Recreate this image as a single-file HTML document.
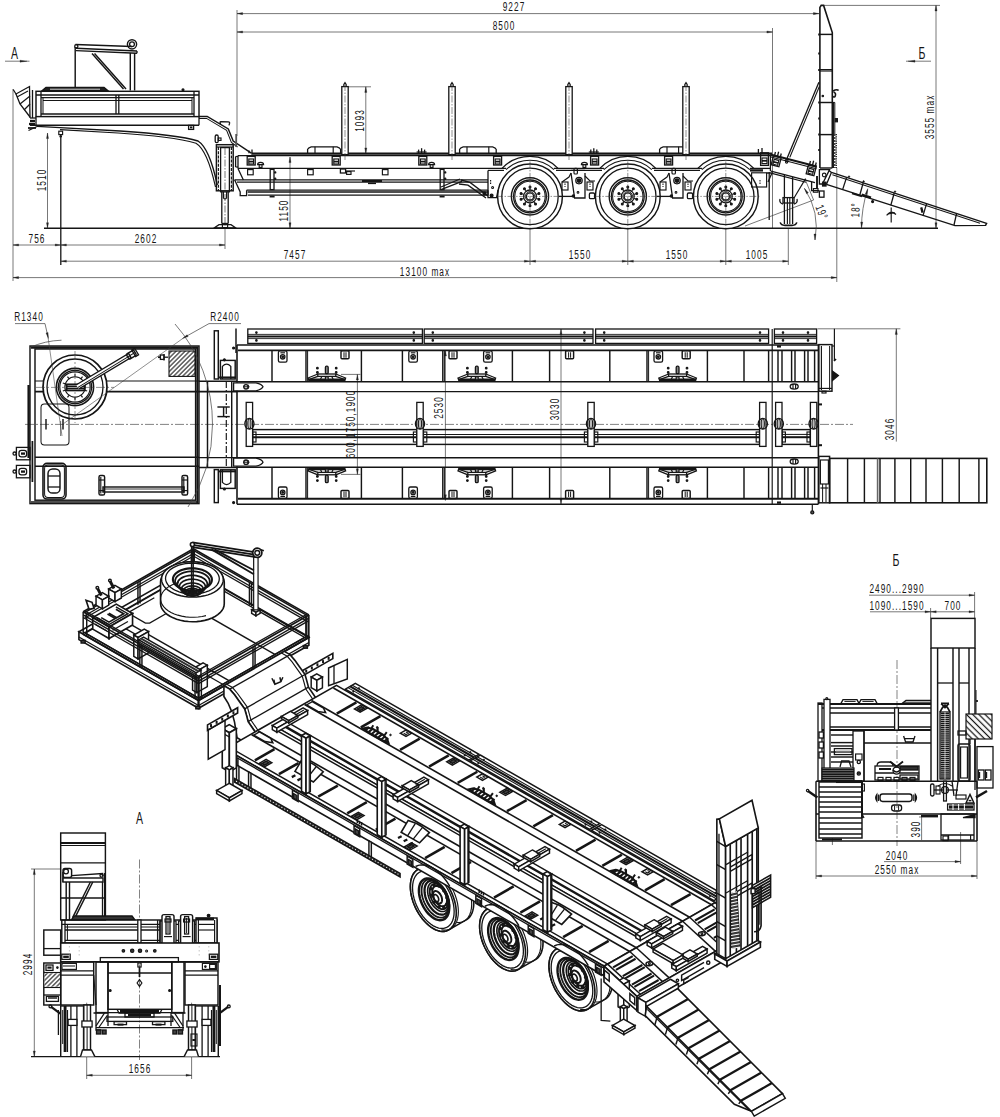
<!DOCTYPE html>
<html><head><meta charset="utf-8"><title>Trailer drawing</title>
<style>html,body{margin:0;padding:0;background:#fff}svg{display:block}text{font-family:"Liberation Sans",sans-serif}</style>
</head><body>
<svg width="1000" height="1117" viewBox="0 0 1000 1117" fill="none" stroke-linecap="butt" stroke-linejoin="miter">
<rect x="0" y="0" width="1000" height="1117" fill="#ffffff" stroke="none"/>
<line x1="13.00" y1="89.00" x2="13.00" y2="281.00" stroke="#3a3a3a" stroke-width="0.69"/>
<line x1="60.80" y1="134.00" x2="60.80" y2="265.00" stroke="#151515" stroke-width="1.3"/>
<line x1="237.00" y1="10.00" x2="237.00" y2="136.00" stroke="#3a3a3a" stroke-width="0.69"/>
<line x1="772.50" y1="28.00" x2="772.50" y2="228.30" stroke="#3a3a3a" stroke-width="0.69"/>
<line x1="836.80" y1="168.00" x2="836.80" y2="282.00" stroke="#3a3a3a" stroke-width="0.69"/>
<line x1="530.00" y1="228.30" x2="530.00" y2="265.00" stroke="#3a3a3a" stroke-width="0.69"/>
<line x1="627.80" y1="228.30" x2="627.80" y2="265.00" stroke="#3a3a3a" stroke-width="0.69"/>
<line x1="725.80" y1="228.30" x2="725.80" y2="265.00" stroke="#3a3a3a" stroke-width="0.69"/>
<line x1="788.30" y1="228.30" x2="788.30" y2="265.00" stroke="#3a3a3a" stroke-width="0.69"/>
<line x1="225.00" y1="228.30" x2="225.00" y2="249.00" stroke="#3a3a3a" stroke-width="0.69"/>
<line x1="44.00" y1="228.30" x2="938.00" y2="228.30" stroke="#151515" stroke-width="1.45"/>
<line x1="237.00" y1="13.60" x2="819.00" y2="13.60" stroke="#3a3a3a" stroke-width="0.69"/>
<polygon points="237.00,13.60 242.60,12.55 242.60,14.65" fill="#222" stroke="#222" stroke-width="0.3"/>
<polygon points="819.00,13.60 813.40,14.65 813.40,12.55" fill="#222" stroke="#222" stroke-width="0.3"/>
<text transform="translate(514.00 11.00) rotate(0) scale(0.66 1)" font-size="12.5" text-anchor="middle" letter-spacing="1.6" fill="#151515" font-weight="normal">9227</text>
<line x1="237.00" y1="32.00" x2="772.50" y2="32.00" stroke="#3a3a3a" stroke-width="0.69"/>
<polygon points="237.00,32.00 242.60,30.95 242.60,33.05" fill="#222" stroke="#222" stroke-width="0.3"/>
<polygon points="772.50,32.00 766.90,33.05 766.90,30.95" fill="#222" stroke="#222" stroke-width="0.3"/>
<text transform="translate(504.00 30.00) rotate(0) scale(0.66 1)" font-size="12.5" text-anchor="middle" letter-spacing="1.6" fill="#151515" font-weight="normal">8500</text>
<line x1="13.00" y1="277.60" x2="836.80" y2="277.60" stroke="#3a3a3a" stroke-width="0.69"/>
<polygon points="13.00,277.60 18.60,276.55 18.60,278.65" fill="#222" stroke="#222" stroke-width="0.3"/>
<polygon points="836.80,277.60 831.20,278.65 831.20,276.55" fill="#222" stroke="#222" stroke-width="0.3"/>
<text transform="translate(425.00 275.50) rotate(0) scale(0.66 1)" font-size="12.5" text-anchor="middle" letter-spacing="1.6" fill="#151515" font-weight="normal">13100 max</text>
<line x1="60.80" y1="261.20" x2="530.00" y2="261.20" stroke="#3a3a3a" stroke-width="0.69"/>
<polygon points="60.80,261.20 66.40,260.15 66.40,262.25" fill="#222" stroke="#222" stroke-width="0.3"/>
<polygon points="530.00,261.20 524.40,262.25 524.40,260.15" fill="#222" stroke="#222" stroke-width="0.3"/>
<text transform="translate(295.00 259.00) rotate(0) scale(0.66 1)" font-size="12.5" text-anchor="middle" letter-spacing="1.6" fill="#151515" font-weight="normal">7457</text>
<line x1="13.00" y1="245.00" x2="60.80" y2="245.00" stroke="#3a3a3a" stroke-width="0.69"/>
<polygon points="13.00,245.00 18.60,243.95 18.60,246.05" fill="#222" stroke="#222" stroke-width="0.3"/>
<polygon points="60.80,245.00 55.20,246.05 55.20,243.95" fill="#222" stroke="#222" stroke-width="0.3"/>
<text transform="translate(37.00 243.00) rotate(0) scale(0.66 1)" font-size="12.5" text-anchor="middle" letter-spacing="1.6" fill="#151515" font-weight="normal">756</text>
<line x1="60.80" y1="245.00" x2="225.00" y2="245.00" stroke="#3a3a3a" stroke-width="0.69"/>
<polygon points="60.80,245.00 66.40,243.95 66.40,246.05" fill="#222" stroke="#222" stroke-width="0.3"/>
<polygon points="225.00,245.00 219.40,246.05 219.40,243.95" fill="#222" stroke="#222" stroke-width="0.3"/>
<text transform="translate(146.00 243.00) rotate(0) scale(0.66 1)" font-size="12.5" text-anchor="middle" letter-spacing="1.6" fill="#151515" font-weight="normal">2602</text>
<line x1="530.00" y1="261.20" x2="627.80" y2="261.20" stroke="#3a3a3a" stroke-width="0.69"/>
<polygon points="530.00,261.20 535.60,260.15 535.60,262.25" fill="#222" stroke="#222" stroke-width="0.3"/>
<polygon points="627.80,261.20 622.20,262.25 622.20,260.15" fill="#222" stroke="#222" stroke-width="0.3"/>
<text transform="translate(580.00 259.00) rotate(0) scale(0.66 1)" font-size="12.5" text-anchor="middle" letter-spacing="1.6" fill="#151515" font-weight="normal">1550</text>
<line x1="627.80" y1="261.20" x2="725.80" y2="261.20" stroke="#3a3a3a" stroke-width="0.69"/>
<polygon points="627.80,261.20 633.40,260.15 633.40,262.25" fill="#222" stroke="#222" stroke-width="0.3"/>
<polygon points="725.80,261.20 720.20,262.25 720.20,260.15" fill="#222" stroke="#222" stroke-width="0.3"/>
<text transform="translate(677.00 259.00) rotate(0) scale(0.66 1)" font-size="12.5" text-anchor="middle" letter-spacing="1.6" fill="#151515" font-weight="normal">1550</text>
<line x1="725.80" y1="261.20" x2="788.30" y2="261.20" stroke="#3a3a3a" stroke-width="0.69"/>
<polygon points="725.80,261.20 731.40,260.15 731.40,262.25" fill="#222" stroke="#222" stroke-width="0.3"/>
<polygon points="788.30,261.20 782.70,262.25 782.70,260.15" fill="#222" stroke="#222" stroke-width="0.3"/>
<text transform="translate(757.00 259.00) rotate(0) scale(0.66 1)" font-size="12.5" text-anchor="middle" letter-spacing="1.6" fill="#151515" font-weight="normal">1005</text>
<line x1="47.50" y1="133.00" x2="47.50" y2="228.30" stroke="#3a3a3a" stroke-width="0.69"/>
<polygon points="47.50,133.00 48.55,138.60 46.45,138.60" fill="#222" stroke="#222" stroke-width="0.3"/>
<polygon points="47.50,228.30 46.45,222.70 48.55,222.70" fill="#222" stroke="#222" stroke-width="0.3"/>
<text transform="translate(45.50 180.00) rotate(-90) scale(0.66 1)" font-size="12.5" text-anchor="middle" letter-spacing="1.6" fill="#151515" font-weight="normal">1510</text>
<line x1="290.00" y1="157.00" x2="290.00" y2="228.30" stroke="#3a3a3a" stroke-width="0.69"/>
<polygon points="290.00,157.00 291.05,162.60 288.95,162.60" fill="#222" stroke="#222" stroke-width="0.3"/>
<polygon points="290.00,228.30 288.95,222.70 291.05,222.70" fill="#222" stroke="#222" stroke-width="0.3"/>
<text transform="translate(288.00 210.50) rotate(-90) scale(0.66 1)" font-size="12.5" text-anchor="middle" letter-spacing="1.6" fill="#151515" font-weight="normal">1150</text>
<line x1="346.00" y1="86.80" x2="371.00" y2="86.80" stroke="#3a3a3a" stroke-width="0.69"/>
<line x1="365.80" y1="86.80" x2="365.80" y2="153.50" stroke="#3a3a3a" stroke-width="0.69"/>
<polygon points="365.80,86.80 366.85,92.40 364.75,92.40" fill="#222" stroke="#222" stroke-width="0.3"/>
<polygon points="365.80,153.50 364.75,147.90 366.85,147.90" fill="#222" stroke="#222" stroke-width="0.3"/>
<text transform="translate(364.00 120.50) rotate(-90) scale(0.66 1)" font-size="12.5" text-anchor="middle" letter-spacing="1.6" fill="#151515" font-weight="normal">1093</text>
<line x1="824.00" y1="5.40" x2="940.00" y2="5.40" stroke="#3a3a3a" stroke-width="0.69"/>
<line x1="936.00" y1="5.40" x2="936.00" y2="228.30" stroke="#3a3a3a" stroke-width="0.69"/>
<polygon points="936.00,5.40 937.05,11.00 934.95,11.00" fill="#222" stroke="#222" stroke-width="0.3"/>
<polygon points="936.00,228.30 934.95,222.70 937.05,222.70" fill="#222" stroke="#222" stroke-width="0.3"/>
<text transform="translate(934.00 117.00) rotate(-90) scale(0.66 1)" font-size="12.5" text-anchor="middle" letter-spacing="1.6" fill="#151515" font-weight="normal">3555 max</text>
<text transform="translate(14.50 58.50) rotate(0) scale(0.62 1)" font-size="17" text-anchor="middle" letter-spacing="0" fill="#151515" font-weight="normal">A</text>
<line x1="5.00" y1="61.20" x2="29.50" y2="61.20" stroke="#3a3a3a" stroke-width="0.69"/>
<polygon points="27.00,61.20 20.00,62.20 20.00,60.20" fill="#222" stroke="#222" stroke-width="0.3"/>
<text transform="translate(922.00 58.50) rotate(0) scale(0.62 1)" font-size="17" text-anchor="middle" letter-spacing="0" fill="#151515" font-weight="normal">Б</text>
<line x1="906.00" y1="61.20" x2="931.00" y2="61.20" stroke="#3a3a3a" stroke-width="0.69"/>
<polygon points="908.00,61.20 915.00,60.20 915.00,62.20" fill="#222" stroke="#222" stroke-width="0.3"/>
<path d="M804.5,188.5 A70,70 0 0 1 815,240" fill="none" stroke="#3a3a3a" stroke-width="0.69" />
<polygon points="804.30,188.20 808.37,192.73 806.59,193.84" fill="#222" stroke="#222" stroke-width="0.3"/>
<polygon points="815.00,240.00 813.95,234.00 816.05,234.00" fill="#222" stroke="#222" stroke-width="0.3"/>
<line x1="745.00" y1="226.00" x2="813.60" y2="200.00" stroke="#3a3a3a" stroke-width="0.69"/>
<line x1="813.60" y1="200.00" x2="805.00" y2="179.00" stroke="#3a3a3a" stroke-width="0.69"/>
<text transform="translate(818.00 214.00) rotate(68) scale(0.66 1)" font-size="12" text-anchor="middle" letter-spacing="1.6" fill="#151515" font-weight="normal">19°</text>
<path d="M867.6,189.4 A125,125 0 0 0 861.5,228" fill="none" stroke="#3a3a3a" stroke-width="0.69" />
<polygon points="867.80,188.60 867.26,194.67 865.23,194.12" fill="#222" stroke="#222" stroke-width="0.3"/>
<polygon points="861.50,228.00 860.66,221.97 862.76,222.04" fill="#222" stroke="#222" stroke-width="0.3"/>
<text transform="translate(859.50 210.00) rotate(-88) scale(0.66 1)" font-size="12" text-anchor="middle" letter-spacing="1.6" fill="#151515" font-weight="normal">18°</text>
<polyline points="13.20,89.50 16.00,94.00 29.50,86.50 30.00,118.00" fill="none" stroke="#151515" stroke-width="1.3"/>
<polyline points="16.00,94.00 20.00,104.00 30.00,117.00" fill="none" stroke="#151515" stroke-width="1.3"/>
<polyline points="17.00,97.00 28.00,91.00" fill="none" stroke="#151515" stroke-width="1.16"/>
<polyline points="20.00,104.00 30.00,96.00" fill="none" stroke="#151515" stroke-width="1.16"/>
<polyline points="24.00,110.00 30.00,104.00" fill="none" stroke="#151515" stroke-width="1.16"/>
<line x1="32.50" y1="90.00" x2="32.50" y2="118.00" stroke="#151515" stroke-width="1.3"/>
<rect x="36.00" y="91.30" width="163.00" height="25.30" fill="none" stroke="#151515" stroke-width="1.45"/>
<line x1="36.00" y1="95.00" x2="199.00" y2="95.00" stroke="#151515" stroke-width="1.3"/>
<line x1="41.00" y1="97.60" x2="194.00" y2="97.60" stroke="#151515" stroke-width="1.16"/>
<line x1="43.00" y1="100.50" x2="192.00" y2="100.50" stroke="#151515" stroke-width="1.01"/>
<line x1="41.00" y1="114.00" x2="194.00" y2="114.00" stroke="#151515" stroke-width="1.3"/>
<line x1="41.00" y1="91.30" x2="41.00" y2="116.60" stroke="#151515" stroke-width="1.3"/>
<line x1="43.00" y1="97.60" x2="43.00" y2="114.00" stroke="#151515" stroke-width="1.01"/>
<line x1="194.00" y1="91.30" x2="194.00" y2="116.60" stroke="#151515" stroke-width="1.3"/>
<line x1="192.00" y1="97.60" x2="192.00" y2="114.00" stroke="#151515" stroke-width="1.01"/>
<line x1="116.00" y1="95.00" x2="116.00" y2="114.00" stroke="#151515" stroke-width="1.3"/>
<line x1="118.80" y1="95.00" x2="118.80" y2="114.00" stroke="#151515" stroke-width="1.3"/>
<circle cx="183.00" cy="89.80" r="1.00" fill="#151515" stroke="#151515" stroke-width="1.16"/>
<line x1="36.00" y1="116.60" x2="36.00" y2="125.20" stroke="#151515" stroke-width="1.3"/>
<line x1="199.00" y1="116.60" x2="199.00" y2="125.20" stroke="#151515" stroke-width="1.3"/>
<line x1="30.00" y1="125.20" x2="199.00" y2="125.20" stroke="#151515" stroke-width="1.45"/>
<line x1="30.00" y1="118.00" x2="36.00" y2="118.00" stroke="#151515" stroke-width="1.3"/>
<polyline points="30.00,121.00 35.00,121.00" fill="none" stroke="#151515" stroke-width="2.32"/>
<polyline points="29.00,124.00 35.00,124.00" fill="none" stroke="#151515" stroke-width="2.32"/>
<polyline points="28.00,128.00 36.00,128.00" fill="none" stroke="#151515" stroke-width="1.74"/>
<polyline points="28.50,130.50 37.00,126.50" fill="none" stroke="#151515" stroke-width="1.3"/>
<path d="M42,90.8 L46,87.4 L104,87.4 L108,90.8 Z" fill="#222" stroke="#151515" stroke-width="1.45" />
<line x1="50.00" y1="89.20" x2="100.00" y2="89.20" stroke="#fff" stroke-width="0.8"/>
<line x1="75.20" y1="47.00" x2="75.20" y2="87.20" stroke="#151515" stroke-width="1.45"/>
<polyline points="75.50,44.50 132.00,46.50" fill="none" stroke="#151515" stroke-width="1.45"/>
<polyline points="76.00,48.20 137.00,51.00" fill="none" stroke="#151515" stroke-width="1.45"/>
<polyline points="76.00,50.60 137.00,53.20" fill="none" stroke="#151515" stroke-width="1.45"/>
<line x1="137.00" y1="51.00" x2="137.00" y2="53.20" stroke="#151515" stroke-width="1.3"/>
<circle cx="76.30" cy="46.30" r="1.60" fill="none" stroke="#151515" stroke-width="1.3"/>
<line x1="130.30" y1="53.00" x2="130.30" y2="90.50" stroke="#151515" stroke-width="1.45"/>
<line x1="134.60" y1="53.00" x2="134.60" y2="90.50" stroke="#151515" stroke-width="1.45"/>
<line x1="92.00" y1="53.60" x2="123.50" y2="89.00" stroke="#151515" stroke-width="1.45"/>
<line x1="94.50" y1="53.60" x2="126.00" y2="89.00" stroke="#151515" stroke-width="1.45"/>
<circle cx="132.00" cy="44.30" r="4.60" fill="none" stroke="#151515" stroke-width="1.45"/>
<circle cx="132.00" cy="44.30" r="2.40" fill="none" stroke="#151515" stroke-width="1.3"/>
<path d="M37,126.4 L60,127.6 L120,131 C150,133 185,137 198,141 C206,146 212,160 217.3,185" fill="none" stroke="#151515" stroke-width="1.45" />
<path d="M60,129.6 L118,133 C150,135 182,139.2 196,143.2 C204,148 210,162 215.5,187" fill="none" stroke="#151515" stroke-width="1.16" />
<rect x="58.80" y="131.20" width="3.80" height="3.40" fill="none" stroke="#151515" stroke-width="1.16"/>
<line x1="59.40" y1="136.40" x2="62.00" y2="136.40" stroke="#151515" stroke-width="1.74"/>
<rect x="188.60" y="125.40" width="5.00" height="4.00" fill="none" stroke="#151515" stroke-width="1.3"/>
<line x1="190.00" y1="127.40" x2="192.40" y2="127.40" stroke="#151515" stroke-width="1.89"/>
<polyline points="199.00,116.40 207.20,116.40 228.30,129.00 233.20,141.00 251.30,153.20" fill="none" stroke="#151515" stroke-width="1.45"/>
<polyline points="199.00,118.40 206.60,118.40 226.60,130.40 231.40,142.40 237.50,147.00" fill="none" stroke="#151515" stroke-width="1.01"/>
<path d="M220.5,124.2 L220,122.4 Q220,121.6 221,121.6 L228.4,121.8 Q229.8,122 229.6,123.2 L229,125.4" fill="none" stroke="#151515" stroke-width="1.3" />
<rect x="215.20" y="135.00" width="3.00" height="7.60" fill="none" stroke="#151515" stroke-width="1.3" rx="1.4"/>
<rect x="218.20" y="138.00" width="2.80" height="2.40" fill="none" stroke="#151515" stroke-width="1.16"/>
<line x1="236.20" y1="134.00" x2="236.20" y2="147.00" stroke="#555" stroke-width="1.84"/>
<rect x="216.40" y="144.70" width="16.80" height="46.10" fill="none" stroke="#151515" stroke-width="1.45"/>
<rect x="220.60" y="147.60" width="8.80" height="44.20" fill="none" stroke="#151515" stroke-width="1.3"/>
<line x1="216.40" y1="147.00" x2="233.20" y2="147.00" stroke="#151515" stroke-width="1.16"/>
<line x1="218.40" y1="147.00" x2="218.40" y2="190.80" stroke="#151515" stroke-width="1.16" stroke-dasharray="3 1.2"/>
<line x1="231.40" y1="147.00" x2="231.40" y2="190.80" stroke="#151515" stroke-width="1.16" stroke-dasharray="3 1.2"/>
<line x1="225.00" y1="148.00" x2="225.00" y2="226.00" stroke="#3a3a3a" stroke-width="0.69" stroke-dasharray="7 1.5 1.5 1.5"/>
<line x1="221.80" y1="191.80" x2="221.80" y2="223.40" stroke="#151515" stroke-width="1.3"/>
<line x1="228.20" y1="191.80" x2="228.20" y2="223.40" stroke="#151515" stroke-width="1.3"/>
<path d="M223.4,192 L223.4,198 Q225,200 226.6,198 L226.6,192" fill="none" stroke="#151515" stroke-width="1.16" />
<path d="M214.4,227.8 L219,224.6 L231,224.6 L235.6,227.8 Z" fill="none" stroke="#151515" stroke-width="1.3" />
<rect x="222.40" y="223.40" width="5.20" height="4.20" fill="none" stroke="#151515" stroke-width="1.16"/>
<line x1="251.30" y1="153.60" x2="772.00" y2="153.60" stroke="#151515" stroke-width="2.32"/>
<line x1="238.00" y1="155.60" x2="772.00" y2="155.60" stroke="#151515" stroke-width="1.16"/>
<line x1="238.00" y1="155.60" x2="238.00" y2="168.40" stroke="#151515" stroke-width="1.3"/>
<line x1="235.60" y1="156.50" x2="235.60" y2="167.00" stroke="#151515" stroke-width="1.3"/>
<line x1="235.60" y1="156.50" x2="238.00" y2="156.50" stroke="#151515" stroke-width="1.16"/>
<line x1="235.60" y1="167.00" x2="238.00" y2="167.00" stroke="#151515" stroke-width="1.16"/>
<line x1="238.00" y1="168.40" x2="506.00" y2="168.40" stroke="#151515" stroke-width="1.3"/>
<line x1="234.60" y1="179.80" x2="488.00" y2="179.80" stroke="#151515" stroke-width="1.3"/>
<line x1="237.00" y1="182.20" x2="488.00" y2="182.20" stroke="#151515" stroke-width="1.16"/>
<polyline points="238.00,168.40 243.40,180.00" fill="none" stroke="#151515" stroke-width="1.3"/>
<polyline points="234.60,179.80 240.20,192.00 240.20,195.60 246.60,195.60 246.60,190.20" fill="none" stroke="#151515" stroke-width="1.3"/>
<line x1="246.60" y1="190.20" x2="488.00" y2="190.20" stroke="#151515" stroke-width="1.3"/>
<line x1="247.60" y1="192.00" x2="488.00" y2="192.00" stroke="#151515" stroke-width="1.74"/>
<line x1="248.00" y1="195.20" x2="488.00" y2="195.20" stroke="#151515" stroke-width="1.3"/>
<line x1="488.00" y1="190.20" x2="488.00" y2="195.20" stroke="#151515" stroke-width="1.3"/>
<circle cx="484.50" cy="193.40" r="1.50" fill="#151515" stroke="#151515" stroke-width="1.3"/>
<rect x="247.20" y="156.40" width="8.00" height="8.60" fill="none" stroke="#151515" stroke-width="1.3"/>
<rect x="248.80" y="159.00" width="4.80" height="5.00" fill="none" stroke="#151515" stroke-width="1.16"/>
<line x1="248.80" y1="161.60" x2="253.60" y2="161.60" stroke="#151515" stroke-width="1.74"/>
<rect x="332.20" y="156.40" width="8.00" height="8.60" fill="none" stroke="#151515" stroke-width="1.3"/>
<rect x="333.80" y="159.00" width="4.80" height="5.00" fill="none" stroke="#151515" stroke-width="1.16"/>
<line x1="333.80" y1="161.60" x2="338.60" y2="161.60" stroke="#151515" stroke-width="1.74"/>
<rect x="418.80" y="156.40" width="8.00" height="8.60" fill="none" stroke="#151515" stroke-width="1.3"/>
<rect x="420.40" y="159.00" width="4.80" height="5.00" fill="none" stroke="#151515" stroke-width="1.16"/>
<line x1="420.40" y1="161.60" x2="425.20" y2="161.60" stroke="#151515" stroke-width="1.74"/>
<rect x="493.60" y="156.40" width="8.00" height="8.60" fill="none" stroke="#151515" stroke-width="1.3"/>
<rect x="495.20" y="159.00" width="4.80" height="5.00" fill="none" stroke="#151515" stroke-width="1.16"/>
<line x1="495.20" y1="161.60" x2="500.00" y2="161.60" stroke="#151515" stroke-width="1.74"/>
<rect x="590.60" y="156.40" width="8.00" height="8.60" fill="none" stroke="#151515" stroke-width="1.3"/>
<rect x="592.20" y="159.00" width="4.80" height="5.00" fill="none" stroke="#151515" stroke-width="1.16"/>
<line x1="592.20" y1="161.60" x2="597.00" y2="161.60" stroke="#151515" stroke-width="1.74"/>
<rect x="664.60" y="156.40" width="8.00" height="8.60" fill="none" stroke="#151515" stroke-width="1.3"/>
<rect x="666.20" y="159.00" width="4.80" height="5.00" fill="none" stroke="#151515" stroke-width="1.16"/>
<line x1="666.20" y1="161.60" x2="671.00" y2="161.60" stroke="#151515" stroke-width="1.74"/>
<rect x="247.60" y="169.60" width="5.60" height="5.20" fill="none" stroke="#151515" stroke-width="1.16"/>
<rect x="307.60" y="169.60" width="5.60" height="5.20" fill="none" stroke="#151515" stroke-width="1.16"/>
<rect x="382.40" y="169.60" width="5.60" height="5.20" fill="none" stroke="#151515" stroke-width="1.16"/>
<path d="M257.6,164.6 Q257.6,162.4 260.6,162.4 Q263.6,162.4 263.6,164.6 Z" fill="none" stroke="#151515" stroke-width="1.16" />
<rect x="259.20" y="164.60" width="2.80" height="2.80" fill="none" stroke="#151515" stroke-width="1.16"/>
<path d="M428.6,164.6 Q428.6,162.4 431.6,162.4 Q434.6,162.4 434.6,164.6 Z" fill="none" stroke="#151515" stroke-width="1.16" />
<rect x="430.20" y="164.60" width="2.80" height="2.80" fill="none" stroke="#151515" stroke-width="1.16"/>
<path d="M581.4,164.6 Q581.4,162.4 584.4,162.4 Q587.4,162.4 587.4,164.6 Z" fill="none" stroke="#151515" stroke-width="1.16" />
<rect x="583.00" y="164.60" width="2.80" height="2.80" fill="none" stroke="#151515" stroke-width="1.16"/>
<rect x="270.20" y="169.40" width="3.80" height="20.20" fill="none" stroke="#151515" stroke-width="1.3"/>
<circle cx="275.20" cy="172.40" r="0.70" fill="#151515" stroke="#151515" stroke-width="1.01"/>
<circle cx="275.20" cy="178.80" r="0.70" fill="#151515" stroke="#151515" stroke-width="1.01"/>
<line x1="269.60" y1="196.60" x2="274.60" y2="196.60" stroke="#151515" stroke-width="1.74"/>
<rect x="440.20" y="169.40" width="3.80" height="20.20" fill="none" stroke="#151515" stroke-width="1.3"/>
<circle cx="445.20" cy="172.40" r="0.70" fill="#151515" stroke="#151515" stroke-width="1.01"/>
<circle cx="445.20" cy="178.80" r="0.70" fill="#151515" stroke="#151515" stroke-width="1.01"/>
<line x1="439.60" y1="196.60" x2="444.60" y2="196.60" stroke="#151515" stroke-width="1.74"/>
<rect x="340.40" y="169.00" width="5.20" height="4.00" fill="none" stroke="#151515" stroke-width="1.3"/>
<line x1="345.60" y1="171.00" x2="355.00" y2="171.00" stroke="#151515" stroke-width="1.16"/>
<rect x="346.60" y="171.60" width="4.40" height="2.80" fill="none" stroke="#151515" stroke-width="1.16"/>
<line x1="362.00" y1="181.00" x2="382.00" y2="181.00" stroke="#151515" stroke-width="2.03"/>
<line x1="368.00" y1="183.40" x2="376.00" y2="183.40" stroke="#151515" stroke-width="1.45"/>
<line x1="418.60" y1="149.60" x2="418.60" y2="153.00" stroke="#151515" stroke-width="1.3"/>
<line x1="421.60" y1="148.20" x2="421.60" y2="153.00" stroke="#151515" stroke-width="1.3"/>
<line x1="424.60" y1="149.60" x2="424.60" y2="153.00" stroke="#151515" stroke-width="1.3"/>
<line x1="416.60" y1="152.00" x2="426.60" y2="152.00" stroke="#151515" stroke-width="1.16"/>
<line x1="590.80" y1="149.60" x2="590.80" y2="153.00" stroke="#151515" stroke-width="1.3"/>
<line x1="593.80" y1="148.20" x2="593.80" y2="153.00" stroke="#151515" stroke-width="1.3"/>
<line x1="596.80" y1="149.60" x2="596.80" y2="153.00" stroke="#151515" stroke-width="1.3"/>
<line x1="588.80" y1="152.00" x2="598.80" y2="152.00" stroke="#151515" stroke-width="1.16"/>
<line x1="249.00" y1="150.40" x2="249.00" y2="153.20" stroke="#151515" stroke-width="1.3"/>
<line x1="252.00" y1="149.60" x2="252.00" y2="153.20" stroke="#151515" stroke-width="1.3"/>
<path d="M307.6,153.2 L307.6,149.4 Q308.20000000000005,147.6 311.20000000000005,146.8 L337.0,146.8 Q340.0,147.6 340.6,149.4 L340.6,153.2" fill="none" stroke="#151515" stroke-width="1.3" />
<line x1="315.00" y1="146.80" x2="315.00" y2="153.20" stroke="#151515" stroke-width="1.16"/>
<line x1="333.20" y1="146.80" x2="333.20" y2="153.20" stroke="#151515" stroke-width="1.16"/>
<path d="M459.6,153.2 L459.6,149.4 Q460.20000000000005,147.6 463.20000000000005,146.8 L492.59999999999997,146.8 Q495.59999999999997,147.6 496.2,149.4 L496.2,153.2" fill="none" stroke="#151515" stroke-width="1.3" />
<line x1="467.00" y1="146.80" x2="467.00" y2="153.20" stroke="#151515" stroke-width="1.16"/>
<line x1="488.80" y1="146.80" x2="488.80" y2="153.20" stroke="#151515" stroke-width="1.16"/>
<path d="M659.6,153.2 L659.6,149.4 Q660.2,147.6 663.2,146.8 L682.4,146.8 Q685.4,147.6 686,149.4 L686,153.2" fill="none" stroke="#151515" stroke-width="1.3" />
<line x1="667.00" y1="146.80" x2="667.00" y2="153.20" stroke="#151515" stroke-width="1.16"/>
<line x1="678.60" y1="146.80" x2="678.60" y2="153.20" stroke="#151515" stroke-width="1.16"/>
<rect x="341.80" y="86.60" width="6.40" height="68.00" fill="#fff" stroke="#151515" stroke-width="1.3"/>
<path d="M343.8,86.6 L343.8,84.4 L345,82.6 L346.2,84.4 L346.2,86.6" fill="none" stroke="#151515" stroke-width="1.16" />
<line x1="345.00" y1="84.00" x2="345.00" y2="160.00" stroke="#3a3a3a" stroke-width="0.57" stroke-dasharray="7 1.5 1.5 1.5"/>
<rect x="448.80" y="86.60" width="6.40" height="68.00" fill="#fff" stroke="#151515" stroke-width="1.3"/>
<path d="M450.8,86.6 L450.8,84.4 L452,82.6 L453.2,84.4 L453.2,86.6" fill="none" stroke="#151515" stroke-width="1.16" />
<line x1="452.00" y1="84.00" x2="452.00" y2="160.00" stroke="#3a3a3a" stroke-width="0.57" stroke-dasharray="7 1.5 1.5 1.5"/>
<rect x="565.80" y="86.60" width="6.40" height="68.00" fill="#fff" stroke="#151515" stroke-width="1.3"/>
<path d="M567.8,86.6 L567.8,84.4 L569,82.6 L570.2,84.4 L570.2,86.6" fill="none" stroke="#151515" stroke-width="1.16" />
<line x1="569.00" y1="84.00" x2="569.00" y2="160.00" stroke="#3a3a3a" stroke-width="0.57" stroke-dasharray="7 1.5 1.5 1.5"/>
<rect x="682.80" y="86.60" width="6.40" height="68.00" fill="#fff" stroke="#151515" stroke-width="1.3"/>
<path d="M684.8,86.6 L684.8,84.4 L686,82.6 L687.2,84.4 L687.2,86.6" fill="none" stroke="#151515" stroke-width="1.16" />
<line x1="686.00" y1="84.00" x2="686.00" y2="160.00" stroke="#3a3a3a" stroke-width="0.57" stroke-dasharray="7 1.5 1.5 1.5"/>
<path d="M502,168.4 A38.4,38.4 0 0 1 558,168.4" fill="none" stroke="#151515" stroke-width="1.3" />
<path d="M506,169.6 A35.6,35.6 0 0 1 554,169.6" fill="none" stroke="#151515" stroke-width="1.16" />
<circle cx="530.00" cy="196.40" r="32.40" fill="#fff" stroke="#151515" stroke-width="1.45"/>
<circle cx="530.00" cy="196.40" r="28.20" fill="none" stroke="#151515" stroke-width="1.3"/>
<circle cx="530.00" cy="196.40" r="18.60" fill="none" stroke="#151515" stroke-width="1.45"/>
<circle cx="530.00" cy="196.40" r="16.40" fill="none" stroke="#151515" stroke-width="1.3"/>
<circle cx="530.00" cy="196.40" r="15.20" fill="none" stroke="#151515" stroke-width="1.01"/>
<circle cx="530.00" cy="196.40" r="6.40" fill="none" stroke="#151515" stroke-width="1.3"/>
<circle cx="530.00" cy="196.40" r="3.60" fill="none" stroke="#151515" stroke-width="1.3"/>
<circle cx="530.00" cy="196.40" r="4.80" fill="none" stroke="#151515" stroke-width="0.87"/>
<circle cx="538.94" cy="199.30" r="1.00" fill="#151515" stroke="#151515" stroke-width="1.01"/>
<line x1="536.28" y1="198.44" x2="538.18" y2="199.06" stroke="#151515" stroke-width="1.01"/>
<circle cx="535.53" cy="204.00" r="1.00" fill="#151515" stroke="#151515" stroke-width="1.01"/>
<line x1="533.88" y1="201.74" x2="535.05" y2="203.36" stroke="#151515" stroke-width="1.01"/>
<circle cx="530.00" cy="205.80" r="1.00" fill="#151515" stroke="#151515" stroke-width="1.01"/>
<line x1="530.00" y1="203.00" x2="530.00" y2="205.00" stroke="#151515" stroke-width="1.01"/>
<circle cx="524.47" cy="204.00" r="1.00" fill="#151515" stroke="#151515" stroke-width="1.01"/>
<line x1="526.12" y1="201.74" x2="524.95" y2="203.36" stroke="#151515" stroke-width="1.01"/>
<circle cx="521.06" cy="199.30" r="1.00" fill="#151515" stroke="#151515" stroke-width="1.01"/>
<line x1="523.72" y1="198.44" x2="521.82" y2="199.06" stroke="#151515" stroke-width="1.01"/>
<circle cx="521.06" cy="193.50" r="1.00" fill="#151515" stroke="#151515" stroke-width="1.01"/>
<line x1="523.72" y1="194.36" x2="521.82" y2="193.74" stroke="#151515" stroke-width="1.01"/>
<circle cx="524.47" cy="188.80" r="1.00" fill="#151515" stroke="#151515" stroke-width="1.01"/>
<line x1="526.12" y1="191.06" x2="524.95" y2="189.44" stroke="#151515" stroke-width="1.01"/>
<circle cx="530.00" cy="187.00" r="1.00" fill="#151515" stroke="#151515" stroke-width="1.01"/>
<line x1="530.00" y1="189.80" x2="530.00" y2="187.80" stroke="#151515" stroke-width="1.01"/>
<circle cx="535.53" cy="188.80" r="1.00" fill="#151515" stroke="#151515" stroke-width="1.01"/>
<line x1="533.88" y1="191.06" x2="535.05" y2="189.44" stroke="#151515" stroke-width="1.01"/>
<circle cx="538.94" cy="193.50" r="1.00" fill="#151515" stroke="#151515" stroke-width="1.01"/>
<line x1="536.28" y1="194.36" x2="538.18" y2="193.74" stroke="#151515" stroke-width="1.01"/>
<line x1="496.00" y1="196.40" x2="564.00" y2="196.40" stroke="#3a3a3a" stroke-width="0.57" stroke-dasharray="7 1.5 1.5 1.5"/>
<line x1="530.00" y1="161.40" x2="530.00" y2="228.40" stroke="#3a3a3a" stroke-width="0.57" stroke-dasharray="7 1.5 1.5 1.5"/>
<path d="M599.8,168.4 A38.4,38.4 0 0 1 655.8,168.4" fill="none" stroke="#151515" stroke-width="1.3" />
<path d="M603.8,169.6 A35.6,35.6 0 0 1 651.8,169.6" fill="none" stroke="#151515" stroke-width="1.16" />
<circle cx="627.80" cy="196.40" r="32.40" fill="#fff" stroke="#151515" stroke-width="1.45"/>
<circle cx="627.80" cy="196.40" r="28.20" fill="none" stroke="#151515" stroke-width="1.3"/>
<circle cx="627.80" cy="196.40" r="18.60" fill="none" stroke="#151515" stroke-width="1.45"/>
<circle cx="627.80" cy="196.40" r="16.40" fill="none" stroke="#151515" stroke-width="1.3"/>
<circle cx="627.80" cy="196.40" r="15.20" fill="none" stroke="#151515" stroke-width="1.01"/>
<circle cx="627.80" cy="196.40" r="6.40" fill="none" stroke="#151515" stroke-width="1.3"/>
<circle cx="627.80" cy="196.40" r="3.60" fill="none" stroke="#151515" stroke-width="1.3"/>
<circle cx="627.80" cy="196.40" r="4.80" fill="none" stroke="#151515" stroke-width="0.87"/>
<circle cx="636.74" cy="199.30" r="1.00" fill="#151515" stroke="#151515" stroke-width="1.01"/>
<line x1="634.08" y1="198.44" x2="635.98" y2="199.06" stroke="#151515" stroke-width="1.01"/>
<circle cx="633.33" cy="204.00" r="1.00" fill="#151515" stroke="#151515" stroke-width="1.01"/>
<line x1="631.68" y1="201.74" x2="632.85" y2="203.36" stroke="#151515" stroke-width="1.01"/>
<circle cx="627.80" cy="205.80" r="1.00" fill="#151515" stroke="#151515" stroke-width="1.01"/>
<line x1="627.80" y1="203.00" x2="627.80" y2="205.00" stroke="#151515" stroke-width="1.01"/>
<circle cx="622.27" cy="204.00" r="1.00" fill="#151515" stroke="#151515" stroke-width="1.01"/>
<line x1="623.92" y1="201.74" x2="622.75" y2="203.36" stroke="#151515" stroke-width="1.01"/>
<circle cx="618.86" cy="199.30" r="1.00" fill="#151515" stroke="#151515" stroke-width="1.01"/>
<line x1="621.52" y1="198.44" x2="619.62" y2="199.06" stroke="#151515" stroke-width="1.01"/>
<circle cx="618.86" cy="193.50" r="1.00" fill="#151515" stroke="#151515" stroke-width="1.01"/>
<line x1="621.52" y1="194.36" x2="619.62" y2="193.74" stroke="#151515" stroke-width="1.01"/>
<circle cx="622.27" cy="188.80" r="1.00" fill="#151515" stroke="#151515" stroke-width="1.01"/>
<line x1="623.92" y1="191.06" x2="622.75" y2="189.44" stroke="#151515" stroke-width="1.01"/>
<circle cx="627.80" cy="187.00" r="1.00" fill="#151515" stroke="#151515" stroke-width="1.01"/>
<line x1="627.80" y1="189.80" x2="627.80" y2="187.80" stroke="#151515" stroke-width="1.01"/>
<circle cx="633.33" cy="188.80" r="1.00" fill="#151515" stroke="#151515" stroke-width="1.01"/>
<line x1="631.68" y1="191.06" x2="632.85" y2="189.44" stroke="#151515" stroke-width="1.01"/>
<circle cx="636.74" cy="193.50" r="1.00" fill="#151515" stroke="#151515" stroke-width="1.01"/>
<line x1="634.08" y1="194.36" x2="635.98" y2="193.74" stroke="#151515" stroke-width="1.01"/>
<line x1="593.80" y1="196.40" x2="661.80" y2="196.40" stroke="#3a3a3a" stroke-width="0.57" stroke-dasharray="7 1.5 1.5 1.5"/>
<line x1="627.80" y1="161.40" x2="627.80" y2="228.40" stroke="#3a3a3a" stroke-width="0.57" stroke-dasharray="7 1.5 1.5 1.5"/>
<path d="M697.8,168.4 A38.4,38.4 0 0 1 753.8,168.4" fill="none" stroke="#151515" stroke-width="1.3" />
<path d="M701.8,169.6 A35.6,35.6 0 0 1 749.8,169.6" fill="none" stroke="#151515" stroke-width="1.16" />
<circle cx="725.80" cy="196.40" r="32.40" fill="#fff" stroke="#151515" stroke-width="1.45"/>
<circle cx="725.80" cy="196.40" r="28.20" fill="none" stroke="#151515" stroke-width="1.3"/>
<circle cx="725.80" cy="196.40" r="18.60" fill="none" stroke="#151515" stroke-width="1.45"/>
<circle cx="725.80" cy="196.40" r="16.40" fill="none" stroke="#151515" stroke-width="1.3"/>
<circle cx="725.80" cy="196.40" r="15.20" fill="none" stroke="#151515" stroke-width="1.01"/>
<circle cx="725.80" cy="196.40" r="6.40" fill="none" stroke="#151515" stroke-width="1.3"/>
<circle cx="725.80" cy="196.40" r="3.60" fill="none" stroke="#151515" stroke-width="1.3"/>
<circle cx="725.80" cy="196.40" r="4.80" fill="none" stroke="#151515" stroke-width="0.87"/>
<circle cx="734.74" cy="199.30" r="1.00" fill="#151515" stroke="#151515" stroke-width="1.01"/>
<line x1="732.08" y1="198.44" x2="733.98" y2="199.06" stroke="#151515" stroke-width="1.01"/>
<circle cx="731.33" cy="204.00" r="1.00" fill="#151515" stroke="#151515" stroke-width="1.01"/>
<line x1="729.68" y1="201.74" x2="730.85" y2="203.36" stroke="#151515" stroke-width="1.01"/>
<circle cx="725.80" cy="205.80" r="1.00" fill="#151515" stroke="#151515" stroke-width="1.01"/>
<line x1="725.80" y1="203.00" x2="725.80" y2="205.00" stroke="#151515" stroke-width="1.01"/>
<circle cx="720.27" cy="204.00" r="1.00" fill="#151515" stroke="#151515" stroke-width="1.01"/>
<line x1="721.92" y1="201.74" x2="720.75" y2="203.36" stroke="#151515" stroke-width="1.01"/>
<circle cx="716.86" cy="199.30" r="1.00" fill="#151515" stroke="#151515" stroke-width="1.01"/>
<line x1="719.52" y1="198.44" x2="717.62" y2="199.06" stroke="#151515" stroke-width="1.01"/>
<circle cx="716.86" cy="193.50" r="1.00" fill="#151515" stroke="#151515" stroke-width="1.01"/>
<line x1="719.52" y1="194.36" x2="717.62" y2="193.74" stroke="#151515" stroke-width="1.01"/>
<circle cx="720.27" cy="188.80" r="1.00" fill="#151515" stroke="#151515" stroke-width="1.01"/>
<line x1="721.92" y1="191.06" x2="720.75" y2="189.44" stroke="#151515" stroke-width="1.01"/>
<circle cx="725.80" cy="187.00" r="1.00" fill="#151515" stroke="#151515" stroke-width="1.01"/>
<line x1="725.80" y1="189.80" x2="725.80" y2="187.80" stroke="#151515" stroke-width="1.01"/>
<circle cx="731.33" cy="188.80" r="1.00" fill="#151515" stroke="#151515" stroke-width="1.01"/>
<line x1="729.68" y1="191.06" x2="730.85" y2="189.44" stroke="#151515" stroke-width="1.01"/>
<circle cx="734.74" cy="193.50" r="1.00" fill="#151515" stroke="#151515" stroke-width="1.01"/>
<line x1="732.08" y1="194.36" x2="733.98" y2="193.74" stroke="#151515" stroke-width="1.01"/>
<line x1="691.80" y1="196.40" x2="759.80" y2="196.40" stroke="#3a3a3a" stroke-width="0.57" stroke-dasharray="7 1.5 1.5 1.5"/>
<line x1="725.80" y1="161.40" x2="725.80" y2="228.40" stroke="#3a3a3a" stroke-width="0.57" stroke-dasharray="7 1.5 1.5 1.5"/>
<line x1="554.00" y1="168.40" x2="604.00" y2="168.40" stroke="#151515" stroke-width="1.3"/>
<line x1="652.00" y1="168.40" x2="702.00" y2="168.40" stroke="#151515" stroke-width="1.3"/>
<line x1="750.00" y1="168.40" x2="771.00" y2="168.40" stroke="#151515" stroke-width="1.3"/>
<line x1="556.00" y1="170.40" x2="602.00" y2="170.40" stroke="#151515" stroke-width="1.16"/>
<line x1="654.00" y1="170.40" x2="700.00" y2="170.40" stroke="#151515" stroke-width="1.16"/>
<line x1="488.00" y1="170.40" x2="504.00" y2="170.40" stroke="#151515" stroke-width="1.16"/>
<polyline points="488.00,170.60 488.00,197.60 496.60,197.60 498.00,190.00" fill="none" stroke="#151515" stroke-width="1.3"/>
<circle cx="491.60" cy="195.60" r="1.40" fill="#151515" stroke="#151515" stroke-width="1.3"/>
<line x1="490.60" y1="180.00" x2="490.60" y2="184.00" stroke="#151515" stroke-width="1.16" stroke-dasharray="1.5 1"/>
<circle cx="492.60" cy="187.40" r="1.00" fill="none" stroke="#151515" stroke-width="1.01"/>
<polyline points="461.00,180.00 470.00,182.40 488.00,196.00" fill="none" stroke="#151515" stroke-width="1.3"/>
<polyline points="459.00,184.00 468.00,185.20 486.00,198.00" fill="none" stroke="#151515" stroke-width="1.3"/>
<polyline points="441.00,187.00 460.00,179.00" fill="none" stroke="#151515" stroke-width="1.3"/>
<polyline points="441.00,189.60 462.00,181.40" fill="none" stroke="#151515" stroke-width="1.3"/>
<polyline points="571.00,173.00 574.60,198.00 585.00,198.00 585.00,173.00" fill="none" stroke="#151515" stroke-width="1.3"/>
<circle cx="579.00" cy="180.60" r="3.20" fill="none" stroke="#151515" stroke-width="1.3"/>
<circle cx="579.00" cy="180.60" r="1.80" fill="#151515" stroke="#151515" stroke-width="1.16"/>
<circle cx="578.00" cy="192.40" r="0.90" fill="none" stroke="#151515" stroke-width="1.01"/>
<polyline points="562.00,182.00 569.00,177.00 571.00,173.00" fill="none" stroke="#151515" stroke-width="1.16"/>
<rect x="562.00" y="182.00" width="6.00" height="8.00" fill="none" stroke="#151515" stroke-width="1.16"/>
<line x1="565.00" y1="183.40" x2="565.00" y2="187.00" stroke="#151515" stroke-width="1.01" stroke-dasharray="1.5 1"/>
<polyline points="585.00,176.00 590.00,181.00 595.00,181.00" fill="none" stroke="#151515" stroke-width="1.16"/>
<rect x="587.00" y="182.00" width="6.00" height="8.00" fill="none" stroke="#151515" stroke-width="1.16"/>
<line x1="590.00" y1="183.40" x2="590.00" y2="187.00" stroke="#151515" stroke-width="1.01" stroke-dasharray="1.5 1"/>
<rect x="589.40" y="193.00" width="5.20" height="5.60" fill="none" stroke="#151515" stroke-width="1.3" rx="1.2"/>
<line x1="559.00" y1="196.40" x2="575.00" y2="196.40" stroke="#151515" stroke-width="1.3"/>
<circle cx="573.40" cy="196.00" r="1.20" fill="#151515" stroke="#151515" stroke-width="1.16"/>
<rect x="574.00" y="168.40" width="3.40" height="5.60" fill="none" stroke="#151515" stroke-width="1.16" rx="1"/>
<polyline points="669.00,173.00 672.60,198.00 683.00,198.00 683.00,173.00" fill="none" stroke="#151515" stroke-width="1.3"/>
<circle cx="677.00" cy="180.60" r="3.20" fill="none" stroke="#151515" stroke-width="1.3"/>
<circle cx="677.00" cy="180.60" r="1.80" fill="#151515" stroke="#151515" stroke-width="1.16"/>
<circle cx="676.00" cy="192.40" r="0.90" fill="none" stroke="#151515" stroke-width="1.01"/>
<polyline points="660.00,182.00 667.00,177.00 669.00,173.00" fill="none" stroke="#151515" stroke-width="1.16"/>
<rect x="660.00" y="182.00" width="6.00" height="8.00" fill="none" stroke="#151515" stroke-width="1.16"/>
<line x1="663.00" y1="183.40" x2="663.00" y2="187.00" stroke="#151515" stroke-width="1.01" stroke-dasharray="1.5 1"/>
<polyline points="683.00,176.00 688.00,181.00 693.00,181.00" fill="none" stroke="#151515" stroke-width="1.16"/>
<rect x="685.00" y="182.00" width="6.00" height="8.00" fill="none" stroke="#151515" stroke-width="1.16"/>
<line x1="688.00" y1="183.40" x2="688.00" y2="187.00" stroke="#151515" stroke-width="1.01" stroke-dasharray="1.5 1"/>
<rect x="687.40" y="193.00" width="5.20" height="5.60" fill="none" stroke="#151515" stroke-width="1.3" rx="1.2"/>
<line x1="657.00" y1="196.40" x2="673.00" y2="196.40" stroke="#151515" stroke-width="1.3"/>
<circle cx="671.40" cy="196.00" r="1.20" fill="#151515" stroke="#151515" stroke-width="1.16"/>
<rect x="672.00" y="168.40" width="3.40" height="5.60" fill="none" stroke="#151515" stroke-width="1.16" rx="1"/>
<line x1="571.00" y1="168.60" x2="585.00" y2="168.60" stroke="#151515" stroke-width="1.16"/>
<polyline points="750.00,170.40 763.00,170.40" fill="none" stroke="#151515" stroke-width="2.32"/>
<rect x="751.60" y="172.80" width="15.00" height="14.20" fill="none" stroke="#151515" stroke-width="1.16"/>
<line x1="760.00" y1="180.00" x2="760.00" y2="184.00" stroke="#151515" stroke-width="1.01" stroke-dasharray="1.5 1"/>
<line x1="769.20" y1="172.00" x2="769.20" y2="220.00" stroke="#151515" stroke-width="1.3"/>
<polyline points="766.60,173.00 772.00,173.00 768.00,182.00" fill="none" stroke="#151515" stroke-width="1.3"/>
<rect x="760.60" y="152.80" width="7.80" height="12.60" fill="none" stroke="#151515" stroke-width="1.3"/>
<rect x="762.00" y="158.00" width="5.00" height="5.60" fill="none" stroke="#151515" stroke-width="1.16"/>
<line x1="762.00" y1="160.80" x2="767.00" y2="160.80" stroke="#151515" stroke-width="1.74"/>
<line x1="758.40" y1="149.00" x2="758.40" y2="153.00" stroke="#151515" stroke-width="1.3"/>
<line x1="762.00" y1="148.00" x2="762.00" y2="153.00" stroke="#151515" stroke-width="1.3"/>
<polyline points="770.40,154.60 816.80,166.60" fill="none" stroke="#151515" stroke-width="2.03"/>
<polyline points="771.00,157.00 816.40,168.80" fill="none" stroke="#151515" stroke-width="1.16"/>
<polyline points="771.00,171.20 815.00,182.60" fill="none" stroke="#151515" stroke-width="1.3"/>
<polyline points="772.00,173.40 806.00,182.20" fill="none" stroke="#151515" stroke-width="1.16"/>
<line x1="770.40" y1="154.60" x2="770.40" y2="171.20" stroke="#151515" stroke-width="1.3"/>
<g transform="rotate(14.5 773.4 156)">
<rect x="773.40" y="156.00" width="8.00" height="9.00" fill="none" stroke="#151515" stroke-width="1.3"/>
<rect x="775.00" y="159.00" width="4.80" height="5.00" fill="none" stroke="#151515" stroke-width="1.16"/>
<line x1="775.00" y1="161.60" x2="779.80" y2="161.60" stroke="#151515" stroke-width="1.74"/>
<line x1="774.40" y1="151.60" x2="774.40" y2="156.00" stroke="#151515" stroke-width="1.3"/>
<line x1="777.40" y1="150.60" x2="777.40" y2="156.00" stroke="#151515" stroke-width="1.3"/>
<line x1="780.40" y1="151.60" x2="780.40" y2="156.00" stroke="#151515" stroke-width="1.3"/>
</g>
<g transform="rotate(14.5 808.4 165)">
<rect x="808.40" y="165.00" width="8.00" height="9.00" fill="none" stroke="#151515" stroke-width="1.3"/>
<rect x="810.00" y="168.00" width="4.80" height="5.00" fill="none" stroke="#151515" stroke-width="1.16"/>
<line x1="810.00" y1="170.60" x2="814.80" y2="170.60" stroke="#151515" stroke-width="1.74"/>
<line x1="809.40" y1="160.60" x2="809.40" y2="165.00" stroke="#151515" stroke-width="1.3"/>
<line x1="812.40" y1="159.60" x2="812.40" y2="165.00" stroke="#151515" stroke-width="1.3"/>
<line x1="815.40" y1="160.60" x2="815.40" y2="165.00" stroke="#151515" stroke-width="1.3"/>
</g>
<circle cx="786.60" cy="162.00" r="1.10" fill="none" stroke="#151515" stroke-width="1.16"/>
<line x1="784.40" y1="174.60" x2="784.40" y2="224.00" stroke="#151515" stroke-width="1.3"/>
<line x1="792.60" y1="176.80" x2="792.60" y2="224.00" stroke="#151515" stroke-width="1.3"/>
<line x1="787.40" y1="197.00" x2="787.40" y2="224.00" stroke="#151515" stroke-width="1.16"/>
<line x1="789.80" y1="197.00" x2="789.80" y2="224.00" stroke="#151515" stroke-width="1.16"/>
<rect x="783.00" y="197.60" width="11.00" height="5.40" fill="none" stroke="#151515" stroke-width="1.3"/>
<path d="M780,199 Q779,203 783,204" fill="none" stroke="#151515" stroke-width="1.3" />
<path d="M797,199 Q798,203 794,204" fill="none" stroke="#151515" stroke-width="1.3" />
<path d="M780.2,222.4 Q781,225.4 785,225.4 L792,225.4 Q796,225.4 796.8,222.4" fill="none" stroke="#151515" stroke-width="1.59" />
<polyline points="805.60,178.60 794.00,198.00" fill="none" stroke="#151515" stroke-width="1.16"/>
<polyline points="811.60,182.00 811.60,190.60 819.00,190.60" fill="none" stroke="#151515" stroke-width="1.3"/>
<rect x="813.40" y="188.60" width="4.60" height="3.60" fill="none" stroke="#151515" stroke-width="1.16"/>
<rect x="819.40" y="191.00" width="4.60" height="6.20" fill="none" stroke="#151515" stroke-width="1.3"/>
<line x1="817.00" y1="176.00" x2="817.00" y2="189.00" stroke="#151515" stroke-width="1.89"/>
<polygon points="819.40,169.60 829.60,169.60 822.40,184.00 819.40,184.00" fill="none" stroke="#151515" stroke-width="1.3"/>
<circle cx="824.20" cy="175.00" r="1.80" fill="none" stroke="#151515" stroke-width="1.16"/>
<rect x="822.60" y="182.20" width="3.40" height="3.80" fill="#151515" stroke="#151515" stroke-width="1.3"/>
<polyline points="819.90,168.00 819.90,7.40 821.20,5.40 823.60,5.40 832.30,32.60 832.30,168.00" fill="#fff" stroke="#151515" stroke-width="1.59"/>
<line x1="819.90" y1="168.00" x2="832.30" y2="168.00" stroke="#151515" stroke-width="1.45"/>
<line x1="819.90" y1="34.40" x2="832.30" y2="34.40" stroke="#151515" stroke-width="1.45"/>
<line x1="819.90" y1="102.50" x2="832.30" y2="102.50" stroke="#151515" stroke-width="1.45"/>
<line x1="819.90" y1="134.60" x2="832.30" y2="134.60" stroke="#151515" stroke-width="1.45"/>
<line x1="819.90" y1="69.60" x2="832.30" y2="69.60" stroke="#151515" stroke-width="1.16"/>
<line x1="819.90" y1="71.00" x2="832.30" y2="71.00" stroke="#151515" stroke-width="1.16"/>
<line x1="818.20" y1="34.40" x2="819.90" y2="34.40" stroke="#151515" stroke-width="2.03"/>
<line x1="818.20" y1="53.40" x2="819.90" y2="53.40" stroke="#151515" stroke-width="2.03"/>
<line x1="818.20" y1="70.00" x2="819.90" y2="70.00" stroke="#151515" stroke-width="2.03"/>
<line x1="818.20" y1="102.50" x2="819.90" y2="102.50" stroke="#151515" stroke-width="2.03"/>
<line x1="818.20" y1="118.60" x2="819.90" y2="118.60" stroke="#151515" stroke-width="2.03"/>
<line x1="818.20" y1="134.60" x2="819.90" y2="134.60" stroke="#151515" stroke-width="2.03"/>
<line x1="818.20" y1="150.00" x2="819.90" y2="150.00" stroke="#151515" stroke-width="2.03"/>
<circle cx="822.80" cy="96.00" r="0.80" fill="#151515" stroke="#151515" stroke-width="1.01"/>
<line x1="833.40" y1="102.50" x2="833.40" y2="168.00" stroke="#151515" stroke-width="1.16"/>
<line x1="834.80" y1="102.50" x2="834.80" y2="134.00" stroke="#151515" stroke-width="1.01"/>
<line x1="832.30" y1="102.50" x2="834.80" y2="102.50" stroke="#151515" stroke-width="1.16"/>
<line x1="836.20" y1="134.00" x2="836.20" y2="168.00" stroke="#151515" stroke-width="1.45" stroke-dasharray="1.2 1"/>
<line x1="834.80" y1="134.00" x2="834.80" y2="168.00" stroke="#151515" stroke-width="1.16" stroke-dasharray="2 1"/>
<rect x="835.20" y="118.60" width="2.20" height="3.20" fill="#151515" stroke="#151515" stroke-width="1.16"/>
<path d="M833,91 Q837,88.6 838.6,90.6 M833.6,92 Q836.6,93.4 835,96.6 Q833.4,97.6 832.6,96" fill="none" stroke="#151515" stroke-width="1.59" />
<polyline points="818.90,82.20 787.20,158.00" fill="none" stroke="#151515" stroke-width="1.3"/>
<polyline points="819.40,86.40 789.80,157.40" fill="none" stroke="#151515" stroke-width="1.16"/>
<circle cx="786.80" cy="160.40" r="1.20" fill="none" stroke="#151515" stroke-width="1.16"/>
<polyline points="831.40,172.40 986.60,223.40 985.60,225.40 955.00,225.60 826.40,184.40" fill="none" stroke="#151515" stroke-width="1.45"/>
<polyline points="829.00,170.60 831.40,172.40 826.40,184.40" fill="none" stroke="#151515" stroke-width="1.3"/>
<polyline points="832.40,174.80 980.00,223.20" fill="none" stroke="#151515" stroke-width="1.01"/>
<line x1="846.60" y1="177.40" x2="842.60" y2="189.60" stroke="#151515" stroke-width="1.3"/>
<line x1="863.20" y1="182.80" x2="859.80" y2="195.00" stroke="#151515" stroke-width="1.3"/>
<line x1="894.20" y1="193.00" x2="890.80" y2="205.40" stroke="#151515" stroke-width="1.3"/>
<line x1="926.60" y1="203.60" x2="923.00" y2="215.60" stroke="#151515" stroke-width="1.3"/>
<line x1="956.60" y1="213.40" x2="954.00" y2="225.00" stroke="#151515" stroke-width="1.3"/>
<line x1="861.60" y1="194.60" x2="871.00" y2="197.60" stroke="#151515" stroke-width="2.32"/>
<line x1="852.00" y1="193.40" x2="862.00" y2="196.40" stroke="#151515" stroke-width="1.74"/>
<circle cx="872.60" cy="201.60" r="1.00" fill="#151515" stroke="#151515" stroke-width="1.16"/>
<circle cx="849.00" cy="176.60" r="0.70" fill="#151515" stroke="#151515" stroke-width="0.87"/>
<circle cx="863.60" cy="181.40" r="0.70" fill="#151515" stroke="#151515" stroke-width="0.87"/>
<circle cx="895.00" cy="191.60" r="0.70" fill="#151515" stroke="#151515" stroke-width="0.87"/>
<line x1="921.20" y1="207.40" x2="922.60" y2="212.60" stroke="#151515" stroke-width="2.32"/>
<line x1="891.20" y1="207.40" x2="891.20" y2="222.60" stroke="#151515" stroke-width="1.16"/>
<path d="M886.6,215.4 Q891,210.6 891.2,213.6 Q891.6,210.6 896,214.6" fill="none" stroke="#151515" stroke-width="1.3" />
<line x1="888.00" y1="214.00" x2="894.60" y2="212.60" stroke="#151515" stroke-width="1.16"/>
<line x1="25.00" y1="424.40" x2="853.00" y2="424.40" stroke="#3a3a3a" stroke-width="0.63" stroke-dasharray="9 2 2 2"/>
<line x1="341.00" y1="374.40" x2="360.40" y2="374.40" stroke="#3a3a3a" stroke-width="0.69"/>
<line x1="341.00" y1="474.40" x2="360.40" y2="474.40" stroke="#3a3a3a" stroke-width="0.69"/>
<line x1="357.40" y1="374.40" x2="357.40" y2="474.40" stroke="#3a3a3a" stroke-width="0.69"/>
<polygon points="357.40,374.40 358.45,380.00 356.35,380.00" fill="#222" stroke="#222" stroke-width="0.3"/>
<polygon points="357.40,474.40 356.35,468.80 358.45,468.80" fill="#222" stroke="#222" stroke-width="0.3"/>
<text transform="translate(355.00 424.00) rotate(-90) scale(0.66 1)" font-size="12.5" text-anchor="middle" letter-spacing="1.6" fill="#151515" font-weight="normal">600,1750,1900</text>
<line x1="445.40" y1="350.40" x2="445.40" y2="500.40" stroke="#3a3a3a" stroke-width="0.69"/>
<polygon points="445.40,350.40 446.45,356.00 444.35,356.00" fill="#222" stroke="#222" stroke-width="0.3"/>
<polygon points="445.40,500.40 444.35,494.80 446.45,494.80" fill="#222" stroke="#222" stroke-width="0.3"/>
<text transform="translate(443.40 407.50) rotate(-90) scale(0.66 1)" font-size="12.5" text-anchor="middle" letter-spacing="1.6" fill="#151515" font-weight="normal">2530</text>
<line x1="561.00" y1="329.00" x2="561.00" y2="504.00" stroke="#3a3a3a" stroke-width="0.69"/>
<polygon points="561.00,329.00 562.05,334.60 559.95,334.60" fill="#222" stroke="#222" stroke-width="0.3"/>
<polygon points="561.00,504.00 559.95,498.40 562.05,498.40" fill="#222" stroke="#222" stroke-width="0.3"/>
<text transform="translate(559.00 409.00) rotate(-90) scale(0.66 1)" font-size="12.5" text-anchor="middle" letter-spacing="1.6" fill="#151515" font-weight="normal">3030</text>
<line x1="817.60" y1="328.80" x2="900.40" y2="328.80" stroke="#3a3a3a" stroke-width="0.69"/>
<line x1="896.30" y1="328.80" x2="896.30" y2="441.60" stroke="#3a3a3a" stroke-width="0.69"/>
<polygon points="896.30,328.80 897.35,334.40 895.25,334.40" fill="#222" stroke="#222" stroke-width="0.3"/>
<text transform="translate(894.40 429.00) rotate(-90) scale(0.66 1)" font-size="12.5" text-anchor="middle" letter-spacing="1.6" fill="#151515" font-weight="normal">3046</text>
<rect x="30.00" y="346.00" width="169.00" height="157.60" fill="none" stroke="#151515" stroke-width="1.45"/>
<rect x="35.00" y="349.00" width="160.60" height="151.20" fill="none" stroke="#151515" stroke-width="1.45"/>
<line x1="31.00" y1="347.60" x2="198.00" y2="347.60" stroke="#151515" stroke-width="2.17"/>
<line x1="31.00" y1="502.00" x2="198.00" y2="502.00" stroke="#151515" stroke-width="1.74"/>
<line x1="197.40" y1="347.00" x2="197.40" y2="503.00" stroke="#151515" stroke-width="2.03"/>
<line x1="35.00" y1="381.00" x2="199.00" y2="381.00" stroke="#151515" stroke-width="1.01"/>
<line x1="35.00" y1="391.60" x2="237.00" y2="391.60" stroke="#151515" stroke-width="1.59"/>
<line x1="35.00" y1="457.20" x2="199.00" y2="457.20" stroke="#151515" stroke-width="1.59"/>
<line x1="35.00" y1="466.20" x2="199.00" y2="466.20" stroke="#151515" stroke-width="1.59"/>
<line x1="28.60" y1="385.00" x2="28.60" y2="458.00" stroke="#151515" stroke-width="2.32"/>
<line x1="32.40" y1="441.00" x2="32.40" y2="482.00" stroke="#151515" stroke-width="1.74"/>
<rect x="16.40" y="447.40" width="13.60" height="12.40" fill="none" stroke="#151515" stroke-width="1.3"/>
<rect x="19.00" y="450.40" width="7.60" height="6.40" fill="none" stroke="#151515" stroke-width="1.3" rx="2.4"/>
<circle cx="14.60" cy="453.60" r="1.60" fill="none" stroke="#151515" stroke-width="1.3"/>
<line x1="21.00" y1="453.60" x2="25.00" y2="453.60" stroke="#151515" stroke-width="2.32"/>
<rect x="16.40" y="465.40" width="13.60" height="12.40" fill="none" stroke="#151515" stroke-width="1.3"/>
<rect x="19.00" y="468.40" width="7.60" height="6.40" fill="none" stroke="#151515" stroke-width="1.3" rx="2.4"/>
<circle cx="14.60" cy="471.60" r="1.60" fill="none" stroke="#151515" stroke-width="1.3"/>
<line x1="21.00" y1="471.60" x2="25.00" y2="471.60" stroke="#151515" stroke-width="2.32"/>
<circle cx="75.00" cy="387.00" r="32.00" fill="#fff" stroke="#151515" stroke-width="1.74"/>
<circle cx="75.00" cy="387.00" r="28.00" fill="none" stroke="#151515" stroke-width="1.3"/>
<circle cx="75.00" cy="387.00" r="18.60" fill="none" stroke="#151515" stroke-width="1.59"/>
<circle cx="75.00" cy="387.00" r="16.60" fill="none" stroke="#151515" stroke-width="1.3"/>
<circle cx="75.00" cy="387.00" r="15.20" fill="none" stroke="#151515" stroke-width="1.16"/>
<circle cx="75.00" cy="387.00" r="10.20" fill="none" stroke="#151515" stroke-width="1.01"/>
<line x1="36.00" y1="387.40" x2="114.00" y2="387.40" stroke="#3a3a3a" stroke-width="0.57" stroke-dasharray="9 2 2 2"/>
<line x1="75.00" y1="351.00" x2="75.00" y2="423.00" stroke="#3a3a3a" stroke-width="0.57" stroke-dasharray="9 2 2 2"/>
<line x1="84.89" y1="390.21" x2="87.17" y2="390.96" stroke="#151515" stroke-width="1.16"/>
<line x1="81.11" y1="395.41" x2="82.52" y2="397.36" stroke="#151515" stroke-width="1.16"/>
<line x1="75.00" y1="397.40" x2="75.00" y2="399.80" stroke="#151515" stroke-width="1.16"/>
<line x1="68.89" y1="395.41" x2="67.48" y2="397.36" stroke="#151515" stroke-width="1.16"/>
<line x1="65.11" y1="390.21" x2="62.83" y2="390.96" stroke="#151515" stroke-width="1.16"/>
<line x1="65.11" y1="383.79" x2="62.83" y2="383.04" stroke="#151515" stroke-width="1.16"/>
<line x1="68.89" y1="378.59" x2="67.48" y2="376.64" stroke="#151515" stroke-width="1.16"/>
<line x1="75.00" y1="376.60" x2="75.00" y2="374.20" stroke="#151515" stroke-width="1.16"/>
<line x1="81.11" y1="378.59" x2="82.52" y2="376.64" stroke="#151515" stroke-width="1.16"/>
<line x1="84.89" y1="383.79" x2="87.17" y2="383.04" stroke="#151515" stroke-width="1.16"/>
<rect x="66.60" y="384.40" width="18.00" height="6.00" fill="#fff" stroke="#151515" stroke-width="1.89"/>
<line x1="67.00" y1="386.40" x2="84.00" y2="386.40" stroke="#151515" stroke-width="1.45"/>
<line x1="67.00" y1="388.40" x2="84.00" y2="388.40" stroke="#151515" stroke-width="1.45"/>
<polyline points="76.00,385.00 128.60,353.40 131.00,357.60 78.60,389.00" fill="#fff" stroke="#151515" stroke-width="1.45"/>
<polyline points="77.60,387.60 130.00,355.60" fill="none" stroke="#151515" stroke-width="1.01"/>
<g transform="rotate(-31 131.5 354.5)">
<rect x="127.00" y="351.60" width="8.60" height="6.00" fill="none" stroke="#151515" stroke-width="1.45" rx="1.2"/>
<rect x="134.00" y="350.80" width="3.40" height="7.60" fill="none" stroke="#151515" stroke-width="1.3"/>
<line x1="128.00" y1="354.60" x2="135.00" y2="354.60" stroke="#151515" stroke-width="1.01"/>
</g>
<rect x="160.40" y="355.00" width="3.60" height="4.40" fill="none" stroke="#151515" stroke-width="1.3"/>
<line x1="158.00" y1="357.20" x2="160.40" y2="357.20" stroke="#151515" stroke-width="1.74"/>
<line x1="164.00" y1="357.20" x2="168.00" y2="357.20" stroke="#151515" stroke-width="1.3"/>
<line x1="164.00" y1="354.00" x2="164.00" y2="360.40" stroke="#151515" stroke-width="1.3"/>
<defs><pattern id="h1" width="3.2" height="3.2" patternUnits="userSpaceOnUse" patternTransform="rotate(-45)"><rect width="3.2" height="3.2" fill="#fff"/><line x1="0" y1="1.6" x2="3.2" y2="1.6" stroke="#151515" stroke-width="1.05"/></pattern></defs>
<rect x="169" y="351" width="26" height="25.4" fill="url(#h1)" stroke="#151515" stroke-width="1.1"/>
<rect x="41.00" y="404.00" width="28.00" height="41.00" fill="none" stroke="#151515" stroke-width="1.01" rx="3.4"/>
<line x1="46.00" y1="419.00" x2="46.00" y2="429.40" stroke="#151515" stroke-width="1.45"/>
<line x1="63.00" y1="419.00" x2="63.00" y2="429.40" stroke="#151515" stroke-width="1.45"/>
<line x1="60.60" y1="421.00" x2="60.60" y2="436.00" stroke="#3a3a3a" stroke-width="0.69"/>
<rect x="43.00" y="463.40" width="23.00" height="35.60" fill="none" stroke="#151515" stroke-width="1.59" rx="4"/>
<rect x="44.60" y="465.00" width="19.80" height="32.40" fill="none" stroke="#151515" stroke-width="1.01" rx="3.4"/>
<rect x="48.00" y="469.00" width="12.00" height="24.00" fill="none" stroke="#151515" stroke-width="1.45" rx="4.6"/>
<line x1="48.00" y1="476.00" x2="60.00" y2="476.00" stroke="#151515" stroke-width="1.3"/>
<line x1="48.00" y1="487.00" x2="60.00" y2="487.00" stroke="#151515" stroke-width="1.3"/>
<rect x="103.00" y="487.00" width="81.00" height="5.00" fill="#fff" stroke="#151515" stroke-width="1.45"/>
<line x1="103.00" y1="489.00" x2="184.00" y2="489.00" stroke="#151515" stroke-width="0.87"/>
<rect x="99.00" y="475.40" width="5.60" height="19.60" fill="none" stroke="#151515" stroke-width="1.45" rx="1.6"/>
<line x1="100.80" y1="477.00" x2="100.80" y2="493.60" stroke="#151515" stroke-width="1.16"/>
<line x1="99.00" y1="480.00" x2="104.60" y2="480.00" stroke="#151515" stroke-width="1.16"/>
<line x1="99.00" y1="490.60" x2="104.60" y2="490.60" stroke="#151515" stroke-width="1.16"/>
<rect x="182.00" y="475.40" width="5.60" height="19.60" fill="none" stroke="#151515" stroke-width="1.45" rx="1.6"/>
<line x1="183.80" y1="477.00" x2="183.80" y2="493.60" stroke="#151515" stroke-width="1.16"/>
<line x1="182.00" y1="480.00" x2="187.60" y2="480.00" stroke="#151515" stroke-width="1.16"/>
<line x1="182.00" y1="490.60" x2="187.60" y2="490.60" stroke="#151515" stroke-width="1.16"/>
<line x1="199.00" y1="381.20" x2="237.00" y2="381.20" stroke="#151515" stroke-width="1.45"/>
<line x1="199.00" y1="467.40" x2="237.00" y2="467.40" stroke="#151515" stroke-width="1.45"/>
<line x1="199.00" y1="457.60" x2="237.00" y2="457.60" stroke="#151515" stroke-width="1.45"/>
<line x1="207.50" y1="381.20" x2="207.50" y2="467.40" stroke="#151515" stroke-width="1.45"/>
<line x1="231.70" y1="381.20" x2="231.70" y2="467.40" stroke="#151515" stroke-width="1.45"/>
<line x1="226.30" y1="381.00" x2="226.30" y2="468.00" stroke="#151515" stroke-width="1.16" stroke-dasharray="7 2 2 2"/>
<line x1="217.40" y1="407.00" x2="229.80" y2="407.00" stroke="#151515" stroke-width="1.45"/>
<line x1="217.40" y1="416.60" x2="229.80" y2="416.60" stroke="#151515" stroke-width="1.45"/>
<line x1="223.60" y1="407.00" x2="223.60" y2="416.60" stroke="#151515" stroke-width="1.45"/>
<rect x="214.30" y="330.80" width="4.00" height="48.20" fill="none" stroke="#151515" stroke-width="1.45"/>
<rect x="214.30" y="469.60" width="4.00" height="33.00" fill="none" stroke="#151515" stroke-width="1.45"/>
<line x1="236.00" y1="328.40" x2="236.00" y2="353.00" stroke="#444" stroke-width="1.84"/>
<circle cx="233.60" cy="348.00" r="1.00" fill="#151515" stroke="#151515" stroke-width="1.16"/>
<circle cx="233.60" cy="502.60" r="1.00" fill="#151515" stroke="#151515" stroke-width="1.16"/>
<rect x="220.40" y="360.40" width="14.80" height="18.60" fill="none" stroke="#151515" stroke-width="1.45"/>
<path d="M222.4,379.0 L222.4,366.4 Q226.6,362.0 230.8,366.4 L230.8,379.0" fill="none" stroke="#151515" stroke-width="1.3" />
<line x1="219.00" y1="377.40" x2="236.00" y2="377.40" stroke="#151515" stroke-width="1.89"/>
<circle cx="224.40" cy="359.80" r="1.00" fill="#151515" stroke="#151515" stroke-width="1.16"/>
<rect x="220.40" y="469.80" width="14.80" height="18.60" fill="none" stroke="#151515" stroke-width="1.45"/>
<path d="M222.4,469.79999999999995 L222.4,482.4 Q226.6,486.79999999999995 230.8,482.4 L230.8,469.79999999999995" fill="none" stroke="#151515" stroke-width="1.3" />
<line x1="219.00" y1="471.40" x2="236.00" y2="471.40" stroke="#151515" stroke-width="1.89"/>
<circle cx="224.40" cy="489.00" r="1.00" fill="#151515" stroke="#151515" stroke-width="1.16"/>
<line x1="237.00" y1="345.00" x2="818.40" y2="345.00" stroke="#151515" stroke-width="1.45"/>
<line x1="237.00" y1="504.20" x2="818.40" y2="504.20" stroke="#151515" stroke-width="1.45"/>
<line x1="237.00" y1="345.00" x2="237.00" y2="504.20" stroke="#151515" stroke-width="1.59"/>
<line x1="238.00" y1="350.40" x2="818.00" y2="350.40" stroke="#151515" stroke-width="1.89"/>
<line x1="238.00" y1="498.80" x2="818.00" y2="498.80" stroke="#151515" stroke-width="1.89"/>
<line x1="237.00" y1="381.70" x2="818.00" y2="381.70" stroke="#151515" stroke-width="1.45"/>
<line x1="237.00" y1="391.60" x2="818.00" y2="391.60" stroke="#151515" stroke-width="1.45"/>
<line x1="237.00" y1="457.80" x2="818.00" y2="457.80" stroke="#151515" stroke-width="1.45"/>
<line x1="237.00" y1="467.20" x2="818.00" y2="467.20" stroke="#151515" stroke-width="1.45"/>
<line x1="818.40" y1="345.00" x2="818.40" y2="504.20" stroke="#151515" stroke-width="1.59"/>
<line x1="772.20" y1="329.00" x2="772.20" y2="504.20" stroke="#151515" stroke-width="1.16"/>
<rect x="247.80" y="329.00" width="174.60" height="14.40" fill="none" stroke="#151515" stroke-width="1.3"/>
<line x1="247.80" y1="336.50" x2="422.40" y2="336.50" stroke="#151515" stroke-width="1.89"/>
<line x1="247.80" y1="334.40" x2="422.40" y2="334.40" stroke="#151515" stroke-width="0.87"/>
<line x1="247.80" y1="338.60" x2="422.40" y2="338.60" stroke="#151515" stroke-width="0.87"/>
<circle cx="256.40" cy="332.60" r="0.80" fill="#151515" stroke="#151515" stroke-width="1.01"/>
<circle cx="256.40" cy="340.40" r="0.80" fill="#151515" stroke="#151515" stroke-width="1.01"/>
<circle cx="413.80" cy="332.60" r="0.80" fill="#151515" stroke="#151515" stroke-width="1.01"/>
<circle cx="413.80" cy="340.40" r="0.80" fill="#151515" stroke="#151515" stroke-width="1.01"/>
<rect x="424.20" y="329.00" width="168.80" height="14.40" fill="none" stroke="#151515" stroke-width="1.3"/>
<line x1="424.20" y1="336.50" x2="593.00" y2="336.50" stroke="#151515" stroke-width="1.89"/>
<line x1="424.20" y1="334.40" x2="593.00" y2="334.40" stroke="#151515" stroke-width="0.87"/>
<line x1="424.20" y1="338.60" x2="593.00" y2="338.60" stroke="#151515" stroke-width="0.87"/>
<circle cx="432.80" cy="332.60" r="0.80" fill="#151515" stroke="#151515" stroke-width="1.01"/>
<circle cx="432.80" cy="340.40" r="0.80" fill="#151515" stroke="#151515" stroke-width="1.01"/>
<circle cx="584.40" cy="332.60" r="0.80" fill="#151515" stroke="#151515" stroke-width="1.01"/>
<circle cx="584.40" cy="340.40" r="0.80" fill="#151515" stroke="#151515" stroke-width="1.01"/>
<rect x="595.60" y="329.00" width="173.00" height="14.40" fill="none" stroke="#151515" stroke-width="1.3"/>
<line x1="595.60" y1="336.50" x2="768.60" y2="336.50" stroke="#151515" stroke-width="1.89"/>
<line x1="595.60" y1="334.40" x2="768.60" y2="334.40" stroke="#151515" stroke-width="0.87"/>
<line x1="595.60" y1="338.60" x2="768.60" y2="338.60" stroke="#151515" stroke-width="0.87"/>
<circle cx="604.20" cy="332.60" r="0.80" fill="#151515" stroke="#151515" stroke-width="1.01"/>
<circle cx="604.20" cy="340.40" r="0.80" fill="#151515" stroke="#151515" stroke-width="1.01"/>
<circle cx="760.00" cy="332.60" r="0.80" fill="#151515" stroke="#151515" stroke-width="1.01"/>
<circle cx="760.00" cy="340.40" r="0.80" fill="#151515" stroke="#151515" stroke-width="1.01"/>
<rect x="774.40" y="329.00" width="42.20" height="14.40" fill="none" stroke="#151515" stroke-width="1.3"/>
<line x1="774.40" y1="336.50" x2="816.60" y2="336.50" stroke="#151515" stroke-width="1.89"/>
<line x1="774.40" y1="334.40" x2="816.60" y2="334.40" stroke="#151515" stroke-width="0.87"/>
<line x1="774.40" y1="338.60" x2="816.60" y2="338.60" stroke="#151515" stroke-width="0.87"/>
<circle cx="783.00" cy="332.60" r="0.80" fill="#151515" stroke="#151515" stroke-width="1.01"/>
<circle cx="783.00" cy="340.40" r="0.80" fill="#151515" stroke="#151515" stroke-width="1.01"/>
<circle cx="808.00" cy="332.60" r="0.80" fill="#151515" stroke="#151515" stroke-width="1.01"/>
<circle cx="808.00" cy="340.40" r="0.80" fill="#151515" stroke="#151515" stroke-width="1.01"/>
<line x1="272.00" y1="350.40" x2="272.00" y2="381.70" stroke="#151515" stroke-width="1.45"/>
<line x1="272.00" y1="467.20" x2="272.00" y2="498.80" stroke="#151515" stroke-width="1.45"/>
<line x1="306.00" y1="350.40" x2="306.00" y2="381.70" stroke="#151515" stroke-width="1.45"/>
<line x1="306.00" y1="467.20" x2="306.00" y2="498.80" stroke="#151515" stroke-width="1.45"/>
<line x1="361.40" y1="350.40" x2="361.40" y2="381.70" stroke="#151515" stroke-width="1.45"/>
<line x1="361.40" y1="467.20" x2="361.40" y2="498.80" stroke="#151515" stroke-width="1.45"/>
<line x1="402.40" y1="350.40" x2="402.40" y2="381.70" stroke="#151515" stroke-width="1.45"/>
<line x1="402.40" y1="467.20" x2="402.40" y2="498.80" stroke="#151515" stroke-width="1.45"/>
<line x1="442.80" y1="350.40" x2="442.80" y2="381.70" stroke="#151515" stroke-width="1.45"/>
<line x1="442.80" y1="467.20" x2="442.80" y2="498.80" stroke="#151515" stroke-width="1.45"/>
<line x1="512.40" y1="350.40" x2="512.40" y2="381.70" stroke="#151515" stroke-width="1.45"/>
<line x1="512.40" y1="467.20" x2="512.40" y2="498.80" stroke="#151515" stroke-width="1.45"/>
<line x1="549.60" y1="350.40" x2="549.60" y2="381.70" stroke="#151515" stroke-width="1.45"/>
<line x1="549.60" y1="467.20" x2="549.60" y2="498.80" stroke="#151515" stroke-width="1.45"/>
<line x1="609.80" y1="350.40" x2="609.80" y2="381.70" stroke="#151515" stroke-width="1.45"/>
<line x1="609.80" y1="467.20" x2="609.80" y2="498.80" stroke="#151515" stroke-width="1.45"/>
<line x1="647.00" y1="350.40" x2="647.00" y2="381.70" stroke="#151515" stroke-width="1.45"/>
<line x1="647.00" y1="467.20" x2="647.00" y2="498.80" stroke="#151515" stroke-width="1.45"/>
<line x1="707.40" y1="350.40" x2="707.40" y2="381.70" stroke="#151515" stroke-width="1.45"/>
<line x1="707.40" y1="467.20" x2="707.40" y2="498.80" stroke="#151515" stroke-width="1.45"/>
<line x1="744.00" y1="350.40" x2="744.00" y2="381.70" stroke="#151515" stroke-width="1.45"/>
<line x1="744.00" y1="467.20" x2="744.00" y2="498.80" stroke="#151515" stroke-width="1.45"/>
<line x1="768.60" y1="350.40" x2="768.60" y2="381.70" stroke="#151515" stroke-width="1.45"/>
<line x1="768.60" y1="467.20" x2="768.60" y2="498.80" stroke="#151515" stroke-width="1.45"/>
<line x1="307.60" y1="350.40" x2="307.60" y2="381.70" stroke="#151515" stroke-width="1.01"/>
<line x1="307.60" y1="467.20" x2="307.60" y2="498.80" stroke="#151515" stroke-width="1.01"/>
<line x1="444.40" y1="350.40" x2="444.40" y2="381.70" stroke="#151515" stroke-width="1.01"/>
<line x1="444.40" y1="467.20" x2="444.40" y2="498.80" stroke="#151515" stroke-width="1.01"/>
<line x1="648.60" y1="350.40" x2="648.60" y2="381.70" stroke="#151515" stroke-width="1.01"/>
<line x1="648.60" y1="467.20" x2="648.60" y2="498.80" stroke="#151515" stroke-width="1.01"/>
<rect x="278.40" y="350.80" width="8.60" height="11.40" fill="none" stroke="#151515" stroke-width="1.3" rx="1.6"/>
<circle cx="282.70" cy="356.80" r="2.20" fill="none" stroke="#151515" stroke-width="1.3"/>
<circle cx="282.70" cy="356.80" r="0.90" fill="#151515" stroke="#151515" stroke-width="1.01"/>
<line x1="280.40" y1="352.80" x2="285.00" y2="352.80" stroke="#151515" stroke-width="1.16"/>
<rect x="278.40" y="487.00" width="8.60" height="11.40" fill="none" stroke="#151515" stroke-width="1.3" rx="1.6"/>
<circle cx="282.70" cy="492.40" r="2.20" fill="none" stroke="#151515" stroke-width="1.3"/>
<circle cx="282.70" cy="492.40" r="0.90" fill="#151515" stroke="#151515" stroke-width="1.01"/>
<line x1="280.40" y1="496.40" x2="285.00" y2="496.40" stroke="#151515" stroke-width="1.16"/>
<rect x="408.80" y="350.80" width="8.60" height="11.40" fill="none" stroke="#151515" stroke-width="1.3" rx="1.6"/>
<circle cx="413.10" cy="356.80" r="2.20" fill="none" stroke="#151515" stroke-width="1.3"/>
<circle cx="413.10" cy="356.80" r="0.90" fill="#151515" stroke="#151515" stroke-width="1.01"/>
<line x1="410.80" y1="352.80" x2="415.40" y2="352.80" stroke="#151515" stroke-width="1.16"/>
<rect x="408.80" y="487.00" width="8.60" height="11.40" fill="none" stroke="#151515" stroke-width="1.3" rx="1.6"/>
<circle cx="413.10" cy="492.40" r="2.20" fill="none" stroke="#151515" stroke-width="1.3"/>
<circle cx="413.10" cy="492.40" r="0.90" fill="#151515" stroke="#151515" stroke-width="1.01"/>
<line x1="410.80" y1="496.40" x2="415.40" y2="496.40" stroke="#151515" stroke-width="1.16"/>
<rect x="483.60" y="350.80" width="8.60" height="11.40" fill="none" stroke="#151515" stroke-width="1.3" rx="1.6"/>
<circle cx="487.90" cy="356.80" r="2.20" fill="none" stroke="#151515" stroke-width="1.3"/>
<circle cx="487.90" cy="356.80" r="0.90" fill="#151515" stroke="#151515" stroke-width="1.01"/>
<line x1="485.60" y1="352.80" x2="490.20" y2="352.80" stroke="#151515" stroke-width="1.16"/>
<rect x="483.60" y="487.00" width="8.60" height="11.40" fill="none" stroke="#151515" stroke-width="1.3" rx="1.6"/>
<circle cx="487.90" cy="492.40" r="2.20" fill="none" stroke="#151515" stroke-width="1.3"/>
<circle cx="487.90" cy="492.40" r="0.90" fill="#151515" stroke="#151515" stroke-width="1.01"/>
<line x1="485.60" y1="496.40" x2="490.20" y2="496.40" stroke="#151515" stroke-width="1.16"/>
<rect x="654.00" y="350.80" width="8.60" height="11.40" fill="none" stroke="#151515" stroke-width="1.3" rx="1.6"/>
<circle cx="658.30" cy="356.80" r="2.20" fill="none" stroke="#151515" stroke-width="1.3"/>
<circle cx="658.30" cy="356.80" r="0.90" fill="#151515" stroke="#151515" stroke-width="1.01"/>
<line x1="656.00" y1="352.80" x2="660.60" y2="352.80" stroke="#151515" stroke-width="1.16"/>
<rect x="654.00" y="487.00" width="8.60" height="11.40" fill="none" stroke="#151515" stroke-width="1.3" rx="1.6"/>
<circle cx="658.30" cy="492.40" r="2.20" fill="none" stroke="#151515" stroke-width="1.3"/>
<circle cx="658.30" cy="492.40" r="0.90" fill="#151515" stroke="#151515" stroke-width="1.01"/>
<line x1="656.00" y1="496.40" x2="660.60" y2="496.40" stroke="#151515" stroke-width="1.16"/>
<rect x="341.00" y="350.80" width="8.00" height="8.00" fill="none" stroke="#151515" stroke-width="1.45" rx="1"/>
<line x1="344.00" y1="352.20" x2="344.00" y2="357.80" stroke="#151515" stroke-width="1.01"/>
<line x1="346.00" y1="352.20" x2="346.00" y2="357.80" stroke="#151515" stroke-width="1.01"/>
<rect x="341.00" y="490.40" width="8.00" height="8.00" fill="none" stroke="#151515" stroke-width="1.45" rx="1"/>
<line x1="344.00" y1="497.00" x2="344.00" y2="491.40" stroke="#151515" stroke-width="1.01"/>
<line x1="346.00" y1="497.00" x2="346.00" y2="491.40" stroke="#151515" stroke-width="1.01"/>
<rect x="449.00" y="350.80" width="8.00" height="8.00" fill="none" stroke="#151515" stroke-width="1.45" rx="1"/>
<line x1="452.00" y1="352.20" x2="452.00" y2="357.80" stroke="#151515" stroke-width="1.01"/>
<line x1="454.00" y1="352.20" x2="454.00" y2="357.80" stroke="#151515" stroke-width="1.01"/>
<rect x="449.00" y="490.40" width="8.00" height="8.00" fill="none" stroke="#151515" stroke-width="1.45" rx="1"/>
<line x1="452.00" y1="497.00" x2="452.00" y2="491.40" stroke="#151515" stroke-width="1.01"/>
<line x1="454.00" y1="497.00" x2="454.00" y2="491.40" stroke="#151515" stroke-width="1.01"/>
<rect x="565.60" y="350.80" width="8.00" height="8.00" fill="none" stroke="#151515" stroke-width="1.45" rx="1"/>
<line x1="568.60" y1="352.20" x2="568.60" y2="357.80" stroke="#151515" stroke-width="1.01"/>
<line x1="570.60" y1="352.20" x2="570.60" y2="357.80" stroke="#151515" stroke-width="1.01"/>
<rect x="565.60" y="490.40" width="8.00" height="8.00" fill="none" stroke="#151515" stroke-width="1.45" rx="1"/>
<line x1="568.60" y1="497.00" x2="568.60" y2="491.40" stroke="#151515" stroke-width="1.01"/>
<line x1="570.60" y1="497.00" x2="570.60" y2="491.40" stroke="#151515" stroke-width="1.01"/>
<rect x="682.20" y="350.80" width="8.00" height="8.00" fill="none" stroke="#151515" stroke-width="1.45" rx="1"/>
<line x1="685.20" y1="352.20" x2="685.20" y2="357.80" stroke="#151515" stroke-width="1.01"/>
<line x1="687.20" y1="352.20" x2="687.20" y2="357.80" stroke="#151515" stroke-width="1.01"/>
<rect x="682.20" y="490.40" width="8.00" height="8.00" fill="none" stroke="#151515" stroke-width="1.45" rx="1"/>
<line x1="685.20" y1="497.00" x2="685.20" y2="491.40" stroke="#151515" stroke-width="1.01"/>
<line x1="687.20" y1="497.00" x2="687.20" y2="491.40" stroke="#151515" stroke-width="1.01"/>
<rect x="317.80" y="374.00" width="18.00" height="2.40" fill="none" stroke="#151515" stroke-width="1.3"/>
<polyline points="317.80,374.00 308.00,378.00 308.60,379.60 317.80,376.40" fill="none" stroke="#151515" stroke-width="1.3"/>
<circle cx="317.40" cy="368.20" r="0.90" fill="#151515" stroke="#151515" stroke-width="1.01"/>
<circle cx="317.40" cy="372.40" r="0.90" fill="#151515" stroke="#151515" stroke-width="1.01"/>
<line x1="321.80" y1="376.40" x2="320.40" y2="379.60" stroke="#151515" stroke-width="1.16"/>
<polyline points="335.80,374.00 345.60,378.00 345.00,379.60 335.80,376.40" fill="none" stroke="#151515" stroke-width="1.3"/>
<circle cx="336.20" cy="368.20" r="0.90" fill="#151515" stroke="#151515" stroke-width="1.01"/>
<circle cx="336.20" cy="372.40" r="0.90" fill="#151515" stroke="#151515" stroke-width="1.01"/>
<line x1="331.80" y1="376.40" x2="333.20" y2="379.60" stroke="#151515" stroke-width="1.16"/>
<line x1="308.20" y1="379.80" x2="345.40" y2="379.80" stroke="#151515" stroke-width="2.46"/>
<rect x="325.40" y="366.20" width="2.80" height="7.40" fill="#888" stroke="#151515" stroke-width="1.3" rx="1.2"/>
<rect x="325.40" y="376.60" width="2.80" height="3.20" fill="#888" stroke="#151515" stroke-width="1.16"/>
<rect x="317.80" y="472.40" width="18.00" height="2.40" fill="none" stroke="#151515" stroke-width="1.3"/>
<polyline points="317.80,474.80 308.00,470.80 308.60,469.20 317.80,472.40" fill="none" stroke="#151515" stroke-width="1.3"/>
<circle cx="317.40" cy="480.60" r="0.90" fill="#151515" stroke="#151515" stroke-width="1.01"/>
<circle cx="317.40" cy="476.40" r="0.90" fill="#151515" stroke="#151515" stroke-width="1.01"/>
<line x1="321.80" y1="472.40" x2="320.40" y2="469.20" stroke="#151515" stroke-width="1.16"/>
<polyline points="335.80,474.80 345.60,470.80 345.00,469.20 335.80,472.40" fill="none" stroke="#151515" stroke-width="1.3"/>
<circle cx="336.20" cy="480.60" r="0.90" fill="#151515" stroke="#151515" stroke-width="1.01"/>
<circle cx="336.20" cy="476.40" r="0.90" fill="#151515" stroke="#151515" stroke-width="1.01"/>
<line x1="331.80" y1="472.40" x2="333.20" y2="469.20" stroke="#151515" stroke-width="1.16"/>
<line x1="308.20" y1="469.00" x2="345.40" y2="469.00" stroke="#151515" stroke-width="2.46"/>
<rect x="325.40" y="475.20" width="2.80" height="7.40" fill="#888" stroke="#151515" stroke-width="1.3" rx="1.2"/>
<rect x="325.40" y="469.00" width="2.80" height="3.20" fill="#888" stroke="#151515" stroke-width="1.16"/>
<rect x="467.80" y="374.00" width="18.00" height="2.40" fill="none" stroke="#151515" stroke-width="1.3"/>
<polyline points="467.80,374.00 458.00,378.00 458.60,379.60 467.80,376.40" fill="none" stroke="#151515" stroke-width="1.3"/>
<circle cx="467.40" cy="368.20" r="0.90" fill="#151515" stroke="#151515" stroke-width="1.01"/>
<circle cx="467.40" cy="372.40" r="0.90" fill="#151515" stroke="#151515" stroke-width="1.01"/>
<line x1="471.80" y1="376.40" x2="470.40" y2="379.60" stroke="#151515" stroke-width="1.16"/>
<polyline points="485.80,374.00 495.60,378.00 495.00,379.60 485.80,376.40" fill="none" stroke="#151515" stroke-width="1.3"/>
<circle cx="486.20" cy="368.20" r="0.90" fill="#151515" stroke="#151515" stroke-width="1.01"/>
<circle cx="486.20" cy="372.40" r="0.90" fill="#151515" stroke="#151515" stroke-width="1.01"/>
<line x1="481.80" y1="376.40" x2="483.20" y2="379.60" stroke="#151515" stroke-width="1.16"/>
<line x1="458.20" y1="379.80" x2="495.40" y2="379.80" stroke="#151515" stroke-width="2.46"/>
<rect x="475.40" y="366.20" width="2.80" height="7.40" fill="#888" stroke="#151515" stroke-width="1.3" rx="1.2"/>
<rect x="475.40" y="376.60" width="2.80" height="3.20" fill="#888" stroke="#151515" stroke-width="1.16"/>
<rect x="467.80" y="472.40" width="18.00" height="2.40" fill="none" stroke="#151515" stroke-width="1.3"/>
<polyline points="467.80,474.80 458.00,470.80 458.60,469.20 467.80,472.40" fill="none" stroke="#151515" stroke-width="1.3"/>
<circle cx="467.40" cy="480.60" r="0.90" fill="#151515" stroke="#151515" stroke-width="1.01"/>
<circle cx="467.40" cy="476.40" r="0.90" fill="#151515" stroke="#151515" stroke-width="1.01"/>
<line x1="471.80" y1="472.40" x2="470.40" y2="469.20" stroke="#151515" stroke-width="1.16"/>
<polyline points="485.80,474.80 495.60,470.80 495.00,469.20 485.80,472.40" fill="none" stroke="#151515" stroke-width="1.3"/>
<circle cx="486.20" cy="480.60" r="0.90" fill="#151515" stroke="#151515" stroke-width="1.01"/>
<circle cx="486.20" cy="476.40" r="0.90" fill="#151515" stroke="#151515" stroke-width="1.01"/>
<line x1="481.80" y1="472.40" x2="483.20" y2="469.20" stroke="#151515" stroke-width="1.16"/>
<line x1="458.20" y1="469.00" x2="495.40" y2="469.00" stroke="#151515" stroke-width="2.46"/>
<rect x="475.40" y="475.20" width="2.80" height="7.40" fill="#888" stroke="#151515" stroke-width="1.3" rx="1.2"/>
<rect x="475.40" y="469.00" width="2.80" height="3.20" fill="#888" stroke="#151515" stroke-width="1.16"/>
<rect x="668.60" y="374.00" width="18.00" height="2.40" fill="none" stroke="#151515" stroke-width="1.3"/>
<polyline points="668.60,374.00 658.80,378.00 659.40,379.60 668.60,376.40" fill="none" stroke="#151515" stroke-width="1.3"/>
<circle cx="668.20" cy="368.20" r="0.90" fill="#151515" stroke="#151515" stroke-width="1.01"/>
<circle cx="668.20" cy="372.40" r="0.90" fill="#151515" stroke="#151515" stroke-width="1.01"/>
<line x1="672.60" y1="376.40" x2="671.20" y2="379.60" stroke="#151515" stroke-width="1.16"/>
<polyline points="686.60,374.00 696.40,378.00 695.80,379.60 686.60,376.40" fill="none" stroke="#151515" stroke-width="1.3"/>
<circle cx="687.00" cy="368.20" r="0.90" fill="#151515" stroke="#151515" stroke-width="1.01"/>
<circle cx="687.00" cy="372.40" r="0.90" fill="#151515" stroke="#151515" stroke-width="1.01"/>
<line x1="682.60" y1="376.40" x2="684.00" y2="379.60" stroke="#151515" stroke-width="1.16"/>
<line x1="659.00" y1="379.80" x2="696.20" y2="379.80" stroke="#151515" stroke-width="2.46"/>
<rect x="676.20" y="366.20" width="2.80" height="7.40" fill="#888" stroke="#151515" stroke-width="1.3" rx="1.2"/>
<rect x="676.20" y="376.60" width="2.80" height="3.20" fill="#888" stroke="#151515" stroke-width="1.16"/>
<rect x="668.60" y="472.40" width="18.00" height="2.40" fill="none" stroke="#151515" stroke-width="1.3"/>
<polyline points="668.60,474.80 658.80,470.80 659.40,469.20 668.60,472.40" fill="none" stroke="#151515" stroke-width="1.3"/>
<circle cx="668.20" cy="480.60" r="0.90" fill="#151515" stroke="#151515" stroke-width="1.01"/>
<circle cx="668.20" cy="476.40" r="0.90" fill="#151515" stroke="#151515" stroke-width="1.01"/>
<line x1="672.60" y1="472.40" x2="671.20" y2="469.20" stroke="#151515" stroke-width="1.16"/>
<polyline points="686.60,474.80 696.40,470.80 695.80,469.20 686.60,472.40" fill="none" stroke="#151515" stroke-width="1.3"/>
<circle cx="687.00" cy="480.60" r="0.90" fill="#151515" stroke="#151515" stroke-width="1.01"/>
<circle cx="687.00" cy="476.40" r="0.90" fill="#151515" stroke="#151515" stroke-width="1.01"/>
<line x1="682.60" y1="472.40" x2="684.00" y2="469.20" stroke="#151515" stroke-width="1.16"/>
<line x1="659.00" y1="469.00" x2="696.20" y2="469.00" stroke="#151515" stroke-width="2.46"/>
<rect x="676.20" y="475.20" width="2.80" height="7.40" fill="#888" stroke="#151515" stroke-width="1.3" rx="1.2"/>
<rect x="676.20" y="469.00" width="2.80" height="3.20" fill="#888" stroke="#151515" stroke-width="1.16"/>
<path d="M233.6,382.8 L256,382.8 Q262,384.2 263,386.8 Q262,389.40000000000003 256,390.8 L233.6,390.8 Z" fill="#fff" stroke="#151515" stroke-width="1.3" />
<circle cx="246.00" cy="386.80" r="2.20" fill="none" stroke="#151515" stroke-width="1.3"/>
<line x1="248.20" y1="384.80" x2="248.20" y2="388.80" stroke="#151515" stroke-width="1.16"/>
<line x1="243.00" y1="386.80" x2="249.60" y2="386.80" stroke="#151515" stroke-width="1.01"/>
<path d="M233.6,458.2 L256,458.2 Q262,459.59999999999997 263,462.2 Q262,464.8 256,466.2 L233.6,466.2 Z" fill="#fff" stroke="#151515" stroke-width="1.3" />
<circle cx="246.00" cy="462.20" r="2.20" fill="none" stroke="#151515" stroke-width="1.3"/>
<line x1="248.20" y1="460.20" x2="248.20" y2="464.20" stroke="#151515" stroke-width="1.16"/>
<line x1="243.00" y1="462.20" x2="249.60" y2="462.20" stroke="#151515" stroke-width="1.01"/>
<rect x="252.60" y="429.60" width="164.20" height="14.80" fill="none" stroke="#151515" stroke-width="1.45"/>
<line x1="252.60" y1="437.20" x2="416.80" y2="437.20" stroke="#151515" stroke-width="2.03"/>
<line x1="252.60" y1="434.40" x2="416.80" y2="434.40" stroke="#151515" stroke-width="1.01"/>
<rect x="252.60" y="432.00" width="3.40" height="10.00" fill="none" stroke="#151515" stroke-width="1.16"/>
<rect x="413.40" y="432.00" width="3.40" height="10.00" fill="none" stroke="#151515" stroke-width="1.16"/>
<rect x="423.40" y="429.60" width="164.40" height="14.80" fill="none" stroke="#151515" stroke-width="1.45"/>
<line x1="423.40" y1="437.20" x2="587.80" y2="437.20" stroke="#151515" stroke-width="2.03"/>
<line x1="423.40" y1="434.40" x2="587.80" y2="434.40" stroke="#151515" stroke-width="1.01"/>
<rect x="423.40" y="432.00" width="3.40" height="10.00" fill="none" stroke="#151515" stroke-width="1.16"/>
<rect x="584.40" y="432.00" width="3.40" height="10.00" fill="none" stroke="#151515" stroke-width="1.16"/>
<rect x="594.40" y="429.60" width="165.20" height="14.80" fill="none" stroke="#151515" stroke-width="1.45"/>
<line x1="594.40" y1="437.20" x2="759.60" y2="437.20" stroke="#151515" stroke-width="2.03"/>
<line x1="594.40" y1="434.40" x2="759.60" y2="434.40" stroke="#151515" stroke-width="1.01"/>
<rect x="594.40" y="432.00" width="3.40" height="10.00" fill="none" stroke="#151515" stroke-width="1.16"/>
<rect x="756.20" y="432.00" width="3.40" height="10.00" fill="none" stroke="#151515" stroke-width="1.16"/>
<rect x="782.00" y="429.60" width="28.40" height="14.80" fill="none" stroke="#151515" stroke-width="1.45"/>
<line x1="782.00" y1="437.20" x2="810.40" y2="437.20" stroke="#151515" stroke-width="2.03"/>
<line x1="782.00" y1="434.40" x2="810.40" y2="434.40" stroke="#151515" stroke-width="1.01"/>
<rect x="782.00" y="432.00" width="3.40" height="10.00" fill="none" stroke="#151515" stroke-width="1.16"/>
<rect x="807.00" y="432.00" width="3.40" height="10.00" fill="none" stroke="#151515" stroke-width="1.16"/>
<rect x="246.20" y="402.40" width="6.40" height="44.00" fill="#fff" stroke="#151515" stroke-width="1.3"/>
<ellipse cx="249.40" cy="423.80" rx="4.60" ry="5.40" fill="none" stroke="#151515" stroke-width="1.3"/>
<ellipse cx="249.40" cy="423.80" rx="1.60" ry="5.00" fill="#bbb" stroke="#151515" stroke-width="1.01"/>
<rect x="416.80" y="402.40" width="6.40" height="44.00" fill="#fff" stroke="#151515" stroke-width="1.3"/>
<ellipse cx="420.00" cy="423.80" rx="4.60" ry="5.40" fill="none" stroke="#151515" stroke-width="1.3"/>
<ellipse cx="420.00" cy="423.80" rx="1.60" ry="5.00" fill="#bbb" stroke="#151515" stroke-width="1.01"/>
<rect x="587.80" y="402.40" width="6.40" height="44.00" fill="#fff" stroke="#151515" stroke-width="1.3"/>
<ellipse cx="591.00" cy="423.80" rx="4.60" ry="5.40" fill="none" stroke="#151515" stroke-width="1.3"/>
<ellipse cx="591.00" cy="423.80" rx="1.60" ry="5.00" fill="#bbb" stroke="#151515" stroke-width="1.01"/>
<rect x="759.60" y="402.40" width="6.40" height="44.00" fill="#fff" stroke="#151515" stroke-width="1.3"/>
<ellipse cx="762.80" cy="423.80" rx="4.60" ry="5.40" fill="none" stroke="#151515" stroke-width="1.3"/>
<ellipse cx="762.80" cy="423.80" rx="1.60" ry="5.00" fill="#bbb" stroke="#151515" stroke-width="1.01"/>
<rect x="775.60" y="402.40" width="6.40" height="44.00" fill="#fff" stroke="#151515" stroke-width="1.3"/>
<ellipse cx="778.80" cy="423.80" rx="4.60" ry="5.40" fill="none" stroke="#151515" stroke-width="1.3"/>
<ellipse cx="778.80" cy="423.80" rx="1.60" ry="5.00" fill="#bbb" stroke="#151515" stroke-width="1.01"/>
<rect x="810.40" y="402.40" width="6.40" height="44.00" fill="#fff" stroke="#151515" stroke-width="1.3"/>
<ellipse cx="813.60" cy="423.80" rx="4.60" ry="5.40" fill="none" stroke="#151515" stroke-width="1.3"/>
<ellipse cx="813.60" cy="423.80" rx="1.60" ry="5.00" fill="#bbb" stroke="#151515" stroke-width="1.01"/>
<line x1="778.00" y1="350.40" x2="778.00" y2="381.70" stroke="#151515" stroke-width="1.45"/>
<line x1="778.00" y1="467.20" x2="778.00" y2="498.80" stroke="#151515" stroke-width="1.45"/>
<line x1="782.00" y1="350.40" x2="782.00" y2="381.70" stroke="#151515" stroke-width="1.45"/>
<line x1="782.00" y1="467.20" x2="782.00" y2="498.80" stroke="#151515" stroke-width="1.45"/>
<line x1="791.60" y1="350.40" x2="791.60" y2="381.70" stroke="#151515" stroke-width="1.45"/>
<line x1="791.60" y1="467.20" x2="791.60" y2="498.80" stroke="#151515" stroke-width="1.45"/>
<line x1="795.00" y1="350.40" x2="795.00" y2="381.70" stroke="#151515" stroke-width="1.45"/>
<line x1="795.00" y1="467.20" x2="795.00" y2="498.80" stroke="#151515" stroke-width="1.45"/>
<line x1="804.60" y1="350.40" x2="804.60" y2="381.70" stroke="#151515" stroke-width="1.45"/>
<line x1="804.60" y1="467.20" x2="804.60" y2="498.80" stroke="#151515" stroke-width="1.45"/>
<line x1="808.00" y1="350.40" x2="808.00" y2="381.70" stroke="#151515" stroke-width="1.45"/>
<line x1="808.00" y1="467.20" x2="808.00" y2="498.80" stroke="#151515" stroke-width="1.45"/>
<line x1="814.60" y1="350.40" x2="814.60" y2="381.70" stroke="#151515" stroke-width="1.45"/>
<line x1="814.60" y1="467.20" x2="814.60" y2="498.80" stroke="#151515" stroke-width="1.45"/>
<ellipse cx="794.20" cy="386.60" rx="4.00" ry="2.60" fill="none" stroke="#151515" stroke-width="1.3"/>
<line x1="793.00" y1="384.20" x2="793.00" y2="389.00" stroke="#151515" stroke-width="1.16"/>
<line x1="795.60" y1="384.20" x2="795.60" y2="389.00" stroke="#151515" stroke-width="1.16"/>
<ellipse cx="794.20" cy="461.60" rx="4.00" ry="2.60" fill="none" stroke="#151515" stroke-width="1.3"/>
<line x1="793.00" y1="459.20" x2="793.00" y2="464.00" stroke="#151515" stroke-width="1.16"/>
<line x1="795.60" y1="459.20" x2="795.60" y2="464.00" stroke="#151515" stroke-width="1.16"/>
<line x1="777.00" y1="346.40" x2="781.00" y2="346.40" stroke="#151515" stroke-width="2.32"/>
<line x1="777.00" y1="502.60" x2="781.00" y2="502.60" stroke="#151515" stroke-width="2.32"/>
<line x1="812.30" y1="504.20" x2="812.30" y2="511.00" stroke="#151515" stroke-width="1.16"/>
<circle cx="812.30" cy="512.40" r="1.50" fill="#555" stroke="#151515" stroke-width="1.3"/>
<line x1="818.40" y1="404.40" x2="822.00" y2="404.40" stroke="#151515" stroke-width="2.03"/>
<line x1="818.40" y1="445.20" x2="822.00" y2="445.20" stroke="#151515" stroke-width="2.03"/>
<rect x="818.80" y="344.60" width="13.20" height="46.60" fill="none" stroke="#151515" stroke-width="1.45"/>
<line x1="821.40" y1="346.00" x2="821.40" y2="390.00" stroke="#151515" stroke-width="1.16"/>
<line x1="829.60" y1="346.00" x2="829.60" y2="390.00" stroke="#151515" stroke-width="1.01"/>
<line x1="818.80" y1="388.40" x2="832.00" y2="388.40" stroke="#151515" stroke-width="1.16"/>
<line x1="834.40" y1="328.80" x2="834.40" y2="360.00" stroke="#151515" stroke-width="1.16"/>
<line x1="832.00" y1="346.00" x2="834.40" y2="346.00" stroke="#151515" stroke-width="1.16"/>
<path d="M832.6,371.2 L838.4,375.6 L832.6,380.4 Z" fill="#151515" stroke="#151515" stroke-width="1.3" />
<line x1="834.00" y1="361.00" x2="836.00" y2="359.00" stroke="#151515" stroke-width="1.74"/>
<rect x="822.00" y="391.20" width="4.00" height="1.80" fill="none" stroke="#151515" stroke-width="1.16"/>
<rect x="829.60" y="458.40" width="157.20" height="44.40" fill="#fff" stroke="#151515" stroke-width="1.59"/>
<line x1="847.60" y1="458.40" x2="847.60" y2="502.80" stroke="#151515" stroke-width="1.45"/>
<line x1="864.40" y1="458.40" x2="864.40" y2="502.80" stroke="#151515" stroke-width="1.45"/>
<line x1="880.00" y1="458.40" x2="880.00" y2="502.80" stroke="#151515" stroke-width="1.45"/>
<line x1="894.90" y1="458.40" x2="894.90" y2="502.80" stroke="#151515" stroke-width="1.45"/>
<line x1="910.70" y1="458.40" x2="910.70" y2="502.80" stroke="#151515" stroke-width="1.45"/>
<line x1="926.00" y1="458.40" x2="926.00" y2="502.80" stroke="#151515" stroke-width="1.45"/>
<line x1="942.40" y1="458.40" x2="942.40" y2="502.80" stroke="#151515" stroke-width="1.45"/>
<line x1="959.20" y1="458.40" x2="959.20" y2="502.80" stroke="#151515" stroke-width="1.45"/>
<line x1="978.90" y1="458.40" x2="978.90" y2="502.80" stroke="#151515" stroke-width="1.45"/>
<line x1="877.60" y1="458.40" x2="877.60" y2="502.80" stroke="#666" stroke-width="1.61"/>
<rect x="818.80" y="456.40" width="10.80" height="46.40" fill="none" stroke="#151515" stroke-width="1.45"/>
<rect x="820.40" y="460.00" width="8.00" height="24.00" fill="none" stroke="#151515" stroke-width="1.16"/>
<line x1="820.40" y1="488.00" x2="828.40" y2="488.00" stroke="#151515" stroke-width="1.16"/>
<line x1="822.60" y1="484.00" x2="822.60" y2="502.00" stroke="#151515" stroke-width="1.01"/>
<line x1="826.00" y1="484.00" x2="826.00" y2="502.00" stroke="#151515" stroke-width="1.01"/>
<text transform="translate(29.00 320.60) rotate(0) scale(0.66 1)" font-size="12.5" text-anchor="middle" letter-spacing="1.6" fill="#151515" font-weight="normal">R1340</text>
<line x1="15.00" y1="323.60" x2="45.00" y2="323.60" stroke="#3a3a3a" stroke-width="0.69"/>
<line x1="45.00" y1="323.60" x2="48.00" y2="337.00" stroke="#3a3a3a" stroke-width="0.69"/>
<polygon points="48.40,338.60 46.03,332.99 48.07,332.52" fill="#222" stroke="#222" stroke-width="0.3"/>
<line x1="48.00" y1="337.00" x2="62.00" y2="436.00" stroke="#3a3a3a" stroke-width="0.57"/>
<path d="M30,347.4 A84.3,84.3 0 0 1 61.5,340.2" fill="none" stroke="#3a3a3a" stroke-width="0.69" />
<text transform="translate(225.00 320.60) rotate(0) scale(0.66 1)" font-size="12.5" text-anchor="middle" letter-spacing="1.6" fill="#151515" font-weight="normal">R2400</text>
<line x1="209.00" y1="323.60" x2="241.00" y2="323.60" stroke="#3a3a3a" stroke-width="0.69"/>
<line x1="209.00" y1="323.60" x2="184.00" y2="337.60" stroke="#3a3a3a" stroke-width="0.69"/>
<polygon points="182.40,338.60 187.14,334.77 188.16,336.61" fill="#222" stroke="#222" stroke-width="0.3"/>
<line x1="184.00" y1="337.60" x2="63.00" y2="424.00" stroke="#3a3a3a" stroke-width="0.57"/>
<path d="M175,324 A151,151 0 0 1 212.5,424.5 A151,151 0 0 1 188,507" fill="none" stroke="#3a3a3a" stroke-width="0.69" />
<polygon points="189.24,568.83 308.90,637.44 198.58,700.48 78.92,631.87" fill="#fff" stroke="#151515" stroke-width="1.62"/>
<polygon points="78.92,639.61 198.58,708.23 198.58,700.48 78.92,631.87" fill="#fff" stroke="#151515" stroke-width="1.62"/>
<polygon points="308.90,645.18 198.58,708.23 198.58,700.48 308.90,637.44" fill="#fff" stroke="#151515" stroke-width="1.62"/>
<polygon points="191.39,572.46 304.67,637.42 198.55,698.06 85.27,633.10" fill="#fff" stroke="#151515" stroke-width="1.46"/>
<line x1="192.09" y1="549.55" x2="306.08" y2="614.91" stroke="#151515" stroke-width="1.46"/>
<line x1="194.91" y1="549.56" x2="84.59" y2="612.60" stroke="#151515" stroke-width="1.46"/>
<line x1="192.09" y1="552.75" x2="306.08" y2="618.12" stroke="#151515" stroke-width="1.3"/>
<line x1="194.91" y1="552.76" x2="84.59" y2="615.80" stroke="#151515" stroke-width="1.3"/>
<line x1="192.09" y1="555.24" x2="306.08" y2="620.61" stroke="#151515" stroke-width="1.3"/>
<line x1="194.91" y1="555.25" x2="84.59" y2="618.30" stroke="#151515" stroke-width="1.3"/>
<line x1="192.09" y1="569.75" x2="306.08" y2="635.12" stroke="#151515" stroke-width="1.3"/>
<line x1="194.91" y1="569.76" x2="84.59" y2="632.80" stroke="#151515" stroke-width="1.3"/>
<line x1="193.49" y1="548.75" x2="308.90" y2="614.92" stroke="#151515" stroke-width="1.62"/>
<line x1="193.49" y1="548.75" x2="83.17" y2="611.79" stroke="#151515" stroke-width="1.62"/>
<line x1="192.09" y1="572.06" x2="192.09" y2="549.55" stroke="#151515" stroke-width="1.46"/>
<line x1="194.22" y1="573.28" x2="194.22" y2="550.76" stroke="#151515" stroke-width="1.46"/>
<line x1="249.44" y1="604.95" x2="249.44" y2="582.43" stroke="#151515" stroke-width="1.46"/>
<line x1="251.56" y1="606.17" x2="251.56" y2="583.65" stroke="#151515" stroke-width="1.46"/>
<line x1="306.08" y1="637.43" x2="306.08" y2="614.91" stroke="#151515" stroke-width="1.46"/>
<line x1="308.20" y1="638.65" x2="308.20" y2="616.13" stroke="#151515" stroke-width="1.46"/>
<line x1="193.51" y1="572.88" x2="193.51" y2="550.36" stroke="#151515" stroke-width="1.46"/>
<line x1="191.41" y1="574.08" x2="191.41" y2="551.56" stroke="#151515" stroke-width="1.46"/>
<line x1="140.03" y1="603.44" x2="140.03" y2="580.92" stroke="#151515" stroke-width="1.46"/>
<line x1="137.93" y1="604.64" x2="137.93" y2="582.12" stroke="#151515" stroke-width="1.46"/>
<line x1="162.99" y1="590.32" x2="274.85" y2="654.46" stroke="#151515" stroke-width="1.46"/>
<line x1="117.07" y1="616.56" x2="228.93" y2="680.70" stroke="#151515" stroke-width="1.46"/>
<line x1="110.77" y1="620.16" x2="222.63" y2="684.30" stroke="#151515" stroke-width="1.3"/>
<polyline points="154.33,597.69 129.83,611.69 129.86,614.11 145.43,623.04 149.66,623.06 174.16,609.06" fill="none" stroke="#151515" stroke-width="1.3"/>
<polygon points="116.27,604.16 132.55,613.49 109.03,626.93 92.75,617.60" fill="#fff" stroke="#151515" stroke-width="1.62"/>
<polygon points="92.75,629.17 109.03,638.50 109.03,626.93 92.75,617.60" fill="#fff" stroke="#151515" stroke-width="1.62"/>
<polygon points="132.55,625.06 109.03,638.50 109.03,626.93 132.55,613.49" fill="#fff" stroke="#151515" stroke-width="1.62"/>
<polyline points="115.87,606.81 127.91,613.72 109.01,624.52 96.97,617.61" fill="none" stroke="#151515" stroke-width="1.46"/>
<polyline points="115.90,609.23 123.68,613.70 116.68,617.70 108.90,613.23" fill="none" stroke="#151515" stroke-width="1.62"/>
<polyline points="107.50,614.03 115.28,618.50 108.98,622.10 101.20,617.63" fill="none" stroke="#151515" stroke-width="1.62"/>
<line x1="127.93" y1="621.47" x2="112.53" y2="630.27" stroke="#151515" stroke-width="1.3"/>
<line x1="94.87" y1="624.15" x2="106.91" y2="631.06" stroke="#151515" stroke-width="1.3"/>
<polygon points="144.30,629.08 148.54,631.52 138.04,637.52 133.80,635.08" fill="#fff" stroke="#151515" stroke-width="1.46"/>
<polygon points="133.80,656.44 138.04,658.88 138.04,637.52 133.80,635.08" fill="#fff" stroke="#151515" stroke-width="1.46"/>
<polygon points="148.54,652.88 138.04,658.88 138.04,637.52 148.54,631.52" fill="#fff" stroke="#151515" stroke-width="1.46"/>
<polygon points="203.06,662.78 207.31,665.22 196.81,671.22 192.56,668.78" fill="#fff" stroke="#151515" stroke-width="1.46"/>
<polygon points="192.56,690.14 196.81,692.58 196.81,671.22 192.56,668.78" fill="#fff" stroke="#151515" stroke-width="1.46"/>
<polygon points="207.31,686.58 196.81,692.58 196.81,671.22 207.31,665.22" fill="#fff" stroke="#151515" stroke-width="1.46"/>
<polygon points="143.63,637.16 200.98,670.04 196.08,672.84 138.73,639.96" fill="#fff" stroke="#151515" stroke-width="1.46"/>
<polygon points="138.73,645.30 196.08,678.18 196.08,672.84 138.73,639.96" fill="#fff" stroke="#151515" stroke-width="1.46"/>
<polygon points="200.98,675.38 196.08,678.18 196.08,672.84 200.98,670.04" fill="#fff" stroke="#151515" stroke-width="1.46"/>
<line x1="141.18" y1="638.56" x2="198.53" y2="671.44" stroke="#333" stroke-width="2.07"/>
<line x1="138.73" y1="643.52" x2="196.08" y2="676.40" stroke="#555" stroke-width="1.61"/>
<polygon points="160.54,582.00 160.79,579.62 161.58,577.29 162.55,574.77 163.82,572.59 165.59,570.52 167.81,568.61 170.46,566.88 173.48,565.37 176.82,564.10 180.43,563.10 184.25,562.37 188.20,561.93 192.23,561.80 196.26,561.97 200.22,562.44 204.05,563.20 207.68,564.23 211.05,565.53 214.10,567.07 216.78,568.82 219.04,570.75 220.85,572.83 222.17,575.02 223.13,577.55 223.97,579.89 224.26,582.27 224.26,603.63 224.01,606.01 223.22,608.35 221.91,610.60 220.09,612.73 217.79,614.71 215.06,616.49 211.94,618.05 208.49,619.36 204.76,620.40 200.82,621.15 196.74,621.60 192.59,621.74 188.43,621.56 184.33,621.08 180.38,620.29 176.63,619.22 173.15,617.88 170.00,616.30 167.24,614.49 164.90,612.50 163.04,610.35 161.68,608.09 160.84,605.74 160.54,603.36" fill="#fff" stroke="#151515" stroke-width="1.62"/>
<polygon points="214.35,592.05 211.33,593.56 207.99,594.83 204.38,595.84 200.56,596.57 196.61,597.00 192.58,597.14 188.55,596.97 184.59,596.50 180.75,595.74 177.12,594.70 173.75,593.40 170.70,591.87 168.02,590.12 165.76,588.19 163.96,586.11 162.64,583.91 161.83,581.64 161.54,579.34 161.78,577.03 162.55,574.77 163.82,572.59 165.59,570.52 167.81,568.61 170.46,566.88 173.48,565.37 176.82,564.10 180.43,563.09 184.25,562.37 188.20,561.93 192.23,561.80 196.26,561.97 200.22,562.44 204.05,563.20 207.68,564.23 211.05,565.53 214.10,567.07 216.78,568.82 219.05,570.75 220.85,572.83 222.17,575.02 222.98,577.29 223.27,579.60 223.03,581.90 222.26,584.17 220.99,586.35 219.22,588.42 217.00,590.33" fill="#fff" stroke="#151515" stroke-width="1.46"/>
<polygon points="211.52,589.54 208.89,590.86 205.98,591.96 202.83,592.84 199.51,593.47 196.06,593.85 192.56,593.97 189.05,593.82 185.59,593.41 182.26,592.75 179.10,591.85 176.16,590.72 173.50,589.38 171.17,587.85 169.20,586.17 167.63,584.36 166.48,582.45 165.77,580.47 165.52,578.46 165.73,576.46 166.40,574.48 167.51,572.58 169.05,570.78 170.98,569.12 173.29,567.62 175.92,566.30 178.83,565.19 181.98,564.32 185.30,563.68 188.74,563.31 192.25,563.19 195.76,563.34 199.21,563.74 202.55,564.41 205.71,565.31 208.65,566.44 211.30,567.78 213.64,569.30 215.61,570.98 217.18,572.80 218.33,574.71 219.04,576.68 219.29,578.69 219.08,580.70 218.41,582.67 217.30,584.57 215.76,586.37 213.82,588.04" fill="none" stroke="#151515" stroke-width="1.3"/>
<polygon points="206.28,587.43 204.37,588.38 202.26,589.18 199.97,589.82 197.56,590.28 195.06,590.55 192.51,590.64 189.97,590.53 187.46,590.24 185.04,589.76 182.74,589.10 180.61,588.28 178.68,587.31 176.99,586.20 175.56,584.98 174.42,583.67 173.58,582.28 173.07,580.84 172.89,579.38 173.04,577.93 173.53,576.50 174.33,575.12 175.45,573.81 176.86,572.60 178.53,571.51 180.44,570.56 182.55,569.75 184.83,569.12 187.25,568.66 189.75,568.38 192.29,568.30 194.84,568.40 197.35,568.70 199.77,569.18 202.06,569.84 204.20,570.66 206.12,571.63 207.82,572.73 209.25,573.95 210.39,575.27 211.22,576.66 211.74,578.09 211.92,579.55 211.77,581.01 211.28,582.44 210.47,583.82 209.36,585.13 207.95,586.33" fill="none" stroke="#151515" stroke-width="2.11"/>
<polygon points="204.72,588.31 203.03,589.16 201.15,589.87 199.12,590.44 196.98,590.85 194.76,591.09 192.50,591.16 190.24,591.07 188.02,590.81 185.87,590.38 183.83,589.80 181.94,589.07 180.22,588.21 178.72,587.23 177.45,586.14 176.44,584.97 175.70,583.74 175.24,582.47 175.08,581.17 175.22,579.88 175.65,578.61 176.36,577.38 177.35,576.23 178.60,575.15 180.08,574.18 181.78,573.34 183.66,572.62 185.68,572.06 187.83,571.65 190.05,571.41 192.31,571.33 194.57,571.43 196.79,571.69 198.94,572.11 200.98,572.70 202.87,573.43 204.58,574.29 206.09,575.27 207.36,576.35 208.37,577.52 209.11,578.75 209.57,580.03 209.73,581.32 209.59,582.62 209.16,583.89 208.45,585.11 207.46,586.27 206.21,587.34" fill="none" stroke="#151515" stroke-width="1.78"/>
<polygon points="203.02,590.01 201.56,590.74 199.94,591.35 198.20,591.84 196.35,592.19 194.44,592.40 192.49,592.47 190.54,592.39 188.62,592.16 186.77,591.79 185.01,591.29 183.38,590.66 181.90,589.92 180.61,589.07 179.51,588.14 178.64,587.13 178.00,586.07 177.61,584.97 177.47,583.85 177.59,582.74 177.96,581.64 178.57,580.59 179.43,579.59 180.50,578.66 181.78,577.83 183.25,577.10 184.86,576.48 186.61,576.00 188.46,575.64 190.37,575.43 192.32,575.37 194.27,575.45 196.19,575.68 198.04,576.04 199.80,576.55 201.43,577.17 202.90,577.92 204.20,578.76 205.29,579.70 206.17,580.71 206.81,581.77 207.20,582.87 207.34,583.98 207.22,585.10 206.85,586.19 206.23,587.25 205.38,588.25 204.30,589.17" fill="none" stroke="#151515" stroke-width="1.78"/>
<polygon points="201.61,591.87 200.34,592.50 198.94,593.03 197.42,593.45 195.82,593.76 194.17,593.94 192.48,594.00 190.79,593.93 189.13,593.73 187.52,593.41 186.00,592.98 184.58,592.43 183.30,591.79 182.18,591.05 181.23,590.24 180.47,589.37 179.92,588.45 179.58,587.50 179.46,586.53 179.56,585.57 179.88,584.62 180.42,583.70 181.16,582.84 182.09,582.03 183.20,581.31 184.47,580.68 185.87,580.14 187.38,579.72 188.98,579.42 190.64,579.24 192.33,579.18 194.02,579.25 195.68,579.45 197.29,579.76 198.81,580.20 200.22,580.74 201.50,581.39 202.63,582.12 203.58,582.93 204.33,583.80 204.89,584.72 205.23,585.68 205.35,586.64 205.25,587.61 204.92,588.56 204.39,589.47 203.65,590.34 202.72,591.14" fill="none" stroke="#151515" stroke-width="1.62"/>
<polygon points="200.19,593.72 199.12,594.26 197.93,594.71 196.65,595.07 195.30,595.33 193.90,595.48 192.47,595.53 191.04,595.47 189.63,595.30 188.27,595.03 186.98,594.66 185.79,594.20 184.70,593.66 183.75,593.04 182.95,592.35 182.31,591.61 181.84,590.84 181.55,590.03 181.45,589.21 181.54,588.39 181.81,587.59 182.26,586.82 182.89,586.08 183.68,585.40 184.62,584.79 185.69,584.26 186.87,583.81 188.16,583.45 189.51,583.19 190.91,583.04 192.34,582.99 193.77,583.05 195.18,583.21 196.54,583.48 197.83,583.85 199.02,584.31 200.10,584.86 201.05,585.48 201.86,586.16 202.50,586.90 202.97,587.68 203.25,588.49 203.36,589.30 203.27,590.12 203.00,590.93 202.55,591.70 201.92,592.43 201.13,593.11" fill="none" stroke="#151515" stroke-width="1.62"/>
<polygon points="198.78,594.69 197.90,595.13 196.93,595.50 195.88,595.79 194.77,596.00 193.62,596.13 192.45,596.17 191.28,596.12 190.13,595.98 189.02,595.76 187.97,595.46 186.99,595.08 186.10,594.64 185.33,594.13 184.67,593.57 184.15,592.97 183.76,592.33 183.53,591.67 183.44,591.00 183.51,590.33 183.74,589.67 184.11,589.04 184.62,588.44 185.26,587.89 186.03,587.38 186.91,586.95 187.88,586.58 188.93,586.28 190.04,586.07 191.18,585.95 192.35,585.91 193.52,585.96 194.67,586.09 195.79,586.31 196.84,586.61 197.82,586.99 198.70,587.44 199.48,587.95 200.14,588.51 200.66,589.11 201.05,589.75 201.28,590.41 201.36,591.08 201.29,591.75 201.07,592.40 200.70,593.04 200.19,593.64 199.54,594.19" fill="none" stroke="#151515" stroke-width="1.62"/>
<polygon points="197.08,594.61 196.43,594.93 195.72,595.20 194.95,595.41 194.14,595.57 193.30,595.66 192.44,595.69 191.58,595.65 190.74,595.55 189.92,595.39 189.15,595.17 188.43,594.90 187.78,594.57 187.21,594.20 186.73,593.78 186.35,593.34 186.07,592.87 185.89,592.39 185.83,591.90 185.88,591.41 186.05,590.93 186.32,590.46 186.69,590.02 187.17,589.62 187.73,589.25 188.37,588.93 189.09,588.66 189.85,588.44 190.67,588.29 191.51,588.20 192.37,588.17 193.22,588.20 194.07,588.30 194.88,588.46 195.66,588.68 196.37,588.96 197.02,589.29 197.59,589.66 198.08,590.07 198.46,590.51 198.74,590.98 198.91,591.46 198.98,591.96 198.92,592.45 198.76,592.93 198.49,593.39 198.11,593.83 197.64,594.24" fill="none" stroke="#151515" stroke-width="1.62"/>
<polygon points="195.24,593.55 194.85,593.75 194.41,593.91 193.95,594.04 193.46,594.13 192.95,594.19 192.43,594.21 191.91,594.19 191.40,594.13 190.90,594.03 190.43,593.89 190.00,593.73 189.60,593.53 189.26,593.30 188.97,593.05 188.73,592.78 188.56,592.50 188.46,592.21 188.42,591.91 188.45,591.61 188.55,591.32 188.72,591.04 188.94,590.77 189.23,590.53 189.57,590.30 189.96,590.11 190.39,589.95 190.86,589.82 191.35,589.72 191.86,589.67 192.38,589.65 192.90,589.67 193.41,589.73 193.91,589.83 194.38,589.96 194.81,590.13 195.20,590.33 195.55,590.55 195.84,590.80 196.07,591.07 196.24,591.35 196.35,591.65 196.39,591.94 196.36,592.24 196.26,592.53 196.09,592.82 195.86,593.08 195.58,593.33" fill="none" stroke="#151515" stroke-width="1.46"/>
<polyline points="206.03,615.63 202.16,616.48 198.11,617.03 193.97,617.27 189.81,617.20 185.69,616.82 181.68,616.14 177.85,615.16 174.28,613.91 171.01,612.40 168.11,610.67 165.63,608.73 163.61,606.63 162.07,604.40 161.06,602.08 160.58,599.71 160.65,597.32 161.26,594.97 162.40,592.68 164.06,590.51 166.20,588.48 168.79,586.63 171.79,584.99 175.13,583.59 178.78,582.46" fill="none" stroke="#151515" stroke-width="1.13"/>
<polygon points="255.84,607.46 260.08,609.90 255.88,612.30 251.64,609.86" fill="#fff" stroke="#151515" stroke-width="1.46"/>
<polygon points="251.64,613.42 255.88,615.86 255.88,612.30 251.64,609.86" fill="#fff" stroke="#151515" stroke-width="1.46"/>
<polygon points="260.08,613.46 255.88,615.86 255.88,612.30 260.08,609.90" fill="#fff" stroke="#151515" stroke-width="1.46"/>
<polygon points="253.66,609.88 258.06,609.88 258.06,554.43 253.66,554.43" fill="#fff" stroke="#151515" stroke-width="1.2"/>
<line x1="255.86" y1="552.43" x2="192.40" y2="542.49" stroke="#151515" stroke-width="1.78"/>
<line x1="255.86" y1="554.83" x2="192.40" y2="544.89" stroke="#151515" stroke-width="1.78"/>
<line x1="255.86" y1="557.03" x2="192.40" y2="547.09" stroke="#151515" stroke-width="1.78"/>
<circle cx="257.26" cy="552.83" r="4.60" fill="#fff" stroke="#151515" stroke-width="1.78"/>
<circle cx="257.26" cy="552.83" r="2.40" fill="none" stroke="#151515" stroke-width="1.46"/>
<line x1="259.86" y1="549.43" x2="263.86" y2="550.83" stroke="#151515" stroke-width="1.62"/>
<line x1="211.44" y1="549.39" x2="253.86" y2="574.28" stroke="#151515" stroke-width="1.78"/>
<line x1="214.44" y1="549.39" x2="253.86" y2="570.28" stroke="#151515" stroke-width="1.78"/>
<circle cx="192.40" cy="544.49" r="2.00" fill="#fff" stroke="#151515" stroke-width="1.62"/>
<line x1="191.60" y1="546.49" x2="191.60" y2="594.60" stroke="#151515" stroke-width="1.46"/>
<line x1="193.20" y1="546.49" x2="193.20" y2="594.60" stroke="#151515" stroke-width="1.46"/>
<line x1="192.40" y1="545.49" x2="232.09" y2="527.55" stroke="#151515" stroke-width="0.0"/>
<line x1="83.17" y1="611.79" x2="198.58" y2="677.97" stroke="#151515" stroke-width="1.78"/>
<line x1="83.17" y1="614.99" x2="198.58" y2="681.17" stroke="#151515" stroke-width="1.46"/>
<line x1="83.17" y1="617.48" x2="198.58" y2="683.66" stroke="#151515" stroke-width="1.3"/>
<line x1="83.17" y1="631.99" x2="198.58" y2="698.17" stroke="#151515" stroke-width="1.46"/>
<line x1="83.17" y1="634.30" x2="198.58" y2="700.48" stroke="#151515" stroke-width="1.62"/>
<line x1="83.17" y1="634.30" x2="83.17" y2="611.79" stroke="#151515" stroke-width="1.46"/>
<line x1="86.71" y1="636.33" x2="86.71" y2="613.82" stroke="#151515" stroke-width="1.46"/>
<line x1="139.81" y1="666.78" x2="139.81" y2="644.27" stroke="#151515" stroke-width="1.46"/>
<line x1="141.94" y1="668.00" x2="141.94" y2="645.49" stroke="#151515" stroke-width="1.46"/>
<line x1="195.04" y1="698.45" x2="195.04" y2="675.94" stroke="#151515" stroke-width="1.46"/>
<line x1="198.58" y1="700.48" x2="198.58" y2="677.97" stroke="#151515" stroke-width="1.46"/>
<line x1="308.90" y1="614.92" x2="198.58" y2="677.97" stroke="#151515" stroke-width="1.78"/>
<line x1="308.90" y1="618.13" x2="198.58" y2="681.17" stroke="#151515" stroke-width="1.46"/>
<line x1="308.90" y1="620.62" x2="198.58" y2="683.66" stroke="#151515" stroke-width="1.3"/>
<line x1="308.90" y1="635.13" x2="198.58" y2="698.17" stroke="#151515" stroke-width="1.46"/>
<line x1="308.90" y1="637.44" x2="198.58" y2="700.48" stroke="#151515" stroke-width="1.62"/>
<line x1="308.90" y1="637.44" x2="308.90" y2="614.92" stroke="#151515" stroke-width="1.46"/>
<line x1="306.10" y1="639.04" x2="306.10" y2="616.52" stroke="#151515" stroke-width="1.46"/>
<line x1="255.07" y1="668.20" x2="255.07" y2="645.68" stroke="#151515" stroke-width="1.46"/>
<line x1="252.97" y1="669.40" x2="252.97" y2="646.88" stroke="#151515" stroke-width="1.46"/>
<line x1="201.38" y1="698.88" x2="201.38" y2="676.37" stroke="#151515" stroke-width="1.46"/>
<line x1="198.58" y1="700.48" x2="198.58" y2="677.97" stroke="#151515" stroke-width="1.46"/>
<line x1="84.85" y1="610.83" x2="198.84" y2="676.19" stroke="#151515" stroke-width="1.3"/>
<line x1="307.20" y1="613.95" x2="198.56" y2="676.03" stroke="#151515" stroke-width="1.3"/>
<line x1="198.58" y1="708.23" x2="198.58" y2="677.97" stroke="#151515" stroke-width="1.94"/>
<line x1="78.92" y1="636.94" x2="198.58" y2="705.56" stroke="#151515" stroke-width="1.3"/>
<line x1="308.90" y1="642.51" x2="198.58" y2="705.56" stroke="#151515" stroke-width="1.3"/>
<rect x="195.85" y="706.21" width="4.00" height="2.60" fill="#444" stroke="#151515" stroke-width="1.46"/>
<rect x="81.16" y="640.43" width="4.00" height="2.60" fill="#444" stroke="#151515" stroke-width="1.46"/>
<rect x="303.38" y="645.57" width="4.00" height="2.60" fill="#444" stroke="#151515" stroke-width="1.46"/>
<polygon points="114.95,585.44 121.32,589.10 115.02,592.70 108.65,589.04" fill="#fff" stroke="#151515" stroke-width="1.46"/>
<polygon points="108.65,597.94 115.02,601.60 115.02,592.70 108.65,589.04" fill="#fff" stroke="#151515" stroke-width="1.46"/>
<polygon points="121.32,598.00 115.02,601.60 115.02,592.70 121.32,589.10" fill="#fff" stroke="#151515" stroke-width="1.46"/>
<line x1="113.92" y1="588.46" x2="110.32" y2="581.46" stroke="#151515" stroke-width="2.92"/>
<circle cx="109.92" cy="580.46" r="1.30" fill="#fff" stroke="#151515" stroke-width="1.46"/>
<polygon points="102.35,592.64 108.72,596.30 102.42,599.90 96.05,596.24" fill="#fff" stroke="#151515" stroke-width="1.46"/>
<polygon points="96.05,605.14 102.42,608.80 102.42,599.90 96.05,596.24" fill="#fff" stroke="#151515" stroke-width="1.46"/>
<polygon points="108.72,605.20 102.42,608.80 102.42,599.90 108.72,596.30" fill="#fff" stroke="#151515" stroke-width="1.46"/>
<line x1="101.32" y1="595.66" x2="97.72" y2="588.66" stroke="#151515" stroke-width="2.92"/>
<circle cx="97.32" cy="587.66" r="1.30" fill="#fff" stroke="#151515" stroke-width="1.46"/>
<polygon points="89.04,609.27 86.04,600.27 92.04,602.27 94.04,608.27" fill="#fff" stroke="#151515" stroke-width="1.62"/>
<polygon points="328.60,668.00 347.30,659.40 347.30,679.00 328.60,685.60" fill="#fff" stroke="#151515" stroke-width="1.46"/>
<line x1="334.00" y1="665.40" x2="334.00" y2="683.60" stroke="#151515" stroke-width="1.3"/>
<polygon points="332.83,658.64 297.83,678.64 297.83,673.30 332.83,653.30" fill="#fff" stroke="#151515" stroke-width="1.62"/>
<line x1="327.63" y1="658.37" x2="329.63" y2="658.37" stroke="#151515" stroke-width="2.92"/>
<line x1="322.03" y1="661.57" x2="324.03" y2="661.57" stroke="#151515" stroke-width="2.92"/>
<line x1="316.43" y1="664.77" x2="318.43" y2="664.77" stroke="#151515" stroke-width="2.92"/>
<line x1="310.83" y1="667.97" x2="312.83" y2="667.97" stroke="#151515" stroke-width="2.92"/>
<line x1="305.23" y1="671.17" x2="307.23" y2="671.17" stroke="#151515" stroke-width="2.92"/>
<polygon points="316.78,673.83 322.44,677.08 316.84,680.28 311.18,677.03" fill="#fff" stroke="#151515" stroke-width="1.46"/>
<polygon points="311.18,687.71 316.84,690.96 316.84,680.28 311.18,677.03" fill="#fff" stroke="#151515" stroke-width="1.46"/>
<polygon points="322.44,687.76 316.84,690.96 316.84,680.28 322.44,677.08" fill="#fff" stroke="#151515" stroke-width="1.46"/>
<polygon points="284.26,651.34 290.06,654.67 294.88,660.37 299.83,667.31 305.00,674.45 306.91,681.16 308.47,687.12 314.70,696.30 321.28,705.33 260.94,739.81 254.36,730.78 248.13,721.60 246.57,715.64 244.66,708.93 239.49,701.79 234.54,694.85 229.72,689.15 223.92,685.82" fill="#fff" stroke="#151515" stroke-width="1.62"/>
<line x1="290.06" y1="654.67" x2="229.72" y2="689.15" stroke="#151515" stroke-width="1.3"/>
<line x1="305.00" y1="674.45" x2="244.66" y2="708.93" stroke="#151515" stroke-width="1.3"/>
<line x1="308.47" y1="687.12" x2="248.13" y2="721.60" stroke="#151515" stroke-width="1.3"/>
<polygon points="223.92,685.82 229.72,689.15 234.54,694.85 239.49,701.79 244.66,708.93 246.57,715.64 248.13,721.60 254.36,730.78 260.94,739.81 260.94,751.47 252.94,746.88 237.01,737.75 234.54,722.09 231.70,711.56 228.16,703.30 223.92,696.41" fill="#fff" stroke="#151515" stroke-width="1.62"/>
<polyline points="226.72,684.22 232.52,687.55 237.34,693.25 242.29,700.19 247.46,707.33 249.37,714.04 250.93,720.00 257.16,729.18 263.74,738.21" fill="none" stroke="#151515" stroke-width="1.13"/>
<polyline points="281.46,652.94 287.26,656.27 292.08,661.97 297.03,668.91 302.20,676.05 304.11,682.76 305.67,688.72 311.90,697.90 318.48,706.93" fill="none" stroke="#151515" stroke-width="1.13"/>
<polyline points="271.88,678.23 274.88,684.23 280.88,681.73 282.88,677.23" fill="none" stroke="#151515" stroke-width="1.46"/>
<polyline points="274.88,684.23 273.88,679.63" fill="none" stroke="#151515" stroke-width="1.46"/>
<polyline points="280.88,681.73 279.88,677.23" fill="none" stroke="#151515" stroke-width="1.46"/>
<polygon points="410.40,886.53 410.51,883.77 410.85,881.16 411.39,878.73 412.15,876.50 413.11,874.49 414.27,872.73 415.61,871.23 417.12,870.00 434.62,860.00 436.29,859.05 438.10,858.40 440.03,858.05 442.07,858.01 444.19,858.27 446.37,858.84 448.60,859.70 450.84,860.85 453.09,862.28 455.32,863.97 457.50,865.91 459.62,868.08 461.66,870.46 463.59,873.02 465.40,875.74 467.06,878.60 468.58,881.56 469.92,884.60 471.07,887.70 472.04,890.80 472.80,893.90 473.34,896.96 473.67,899.95 473.78,902.84 473.67,905.60 473.34,908.21 472.80,910.65 472.04,912.88 471.07,914.88 469.92,916.64 468.58,918.15 467.06,919.38 449.56,929.38 447.90,930.32 446.09,930.97 444.16,931.32 442.12,931.36 440.00,931.10 437.82,930.53 435.59,929.67 433.34,928.52 431.10,927.10 428.87,925.40 426.69,923.46 424.57,921.29 422.53,918.92 420.60,916.36 418.79,913.63 417.12,910.78 415.61,907.81 414.27,904.77 413.11,901.68 412.15,898.57 411.39,895.47 410.85,892.41 410.51,889.42" fill="#fff" stroke="#151515" stroke-width="1.62"/>
<polygon points="456.28,912.84 456.17,909.95 455.84,906.96 455.30,903.90 454.54,900.81 453.57,897.69 452.42,894.60 451.08,891.56 449.56,888.60 447.90,885.74 446.09,883.02 444.16,880.46 442.12,878.08 440.00,875.91 437.82,873.97 435.59,872.28 433.34,870.85 431.10,869.70 428.87,868.84 426.69,868.27 424.57,868.01 422.53,868.05 420.60,868.40 418.79,869.05 417.12,870.00 415.61,871.23 414.27,872.73 413.11,874.49 412.15,876.50 411.39,878.73 410.85,881.16 410.52,883.77 410.40,886.53 410.52,889.42 410.85,892.41 411.39,895.47 412.15,898.57 413.11,901.68 414.27,904.77 415.61,907.81 417.12,910.78 418.79,913.63 420.60,916.36 422.53,918.92 424.57,921.29 426.69,923.46 428.87,925.40 431.10,927.09 433.34,928.52 435.59,929.67 437.82,930.54 440.00,931.10 442.12,931.36 444.16,931.32 446.09,930.97 447.90,930.32 449.56,929.38 451.08,928.15 452.42,926.64 453.57,924.88 454.54,922.88 455.30,920.65 455.84,918.21 456.17,915.60" fill="#fff" stroke="#151515" stroke-width="1.62"/>
<polygon points="454.16,911.62 453.98,908.11 453.45,904.44 452.57,900.70 451.37,896.94 449.86,893.23 448.06,889.63 446.02,886.19 443.75,882.99 441.31,880.08 438.73,877.50 436.06,875.30 433.34,873.52 430.63,872.19 427.96,871.32 425.38,870.94 422.94,871.06 420.67,871.66 418.63,872.74 416.83,874.29 415.32,876.27 414.11,878.65 413.24,881.39 412.71,884.44 412.53,887.75 412.71,891.27 413.24,894.93 414.11,898.67 415.32,902.43 416.83,906.15 418.63,909.75 420.67,913.18 422.94,916.38 425.38,919.29 427.96,921.87 430.63,924.07 433.34,925.85 436.06,927.19 438.73,928.05 441.31,928.43 443.75,928.32 446.02,927.71 448.06,926.63 449.86,925.09 451.37,923.11 452.57,920.73 453.45,917.99 453.98,914.94" fill="none" stroke="#151515" stroke-width="1.3"/>
<polygon points="449.20,907.98 449.07,905.42 448.68,902.75 448.04,900.03 447.17,897.29 446.06,894.59 444.76,891.96 443.27,889.47 441.62,887.14 439.84,885.02 437.97,883.14 436.02,881.54 434.04,880.24 432.07,879.27 430.12,878.64 428.25,878.37 426.47,878.45 424.82,878.89 423.33,879.68 422.02,880.80 420.92,882.24 420.05,883.97 419.41,885.97 419.02,888.19 418.89,890.60 419.02,893.16 419.41,895.82 420.05,898.55 420.92,901.29 422.02,903.99 423.33,906.61 424.82,909.11 426.47,911.44 428.25,913.56 430.12,915.44 432.07,917.04 434.04,918.33 436.02,919.30 437.97,919.93 439.84,920.21 441.62,920.13 443.27,919.69 444.76,918.90 446.06,917.77 447.17,916.33 448.04,914.60 448.68,912.61 449.07,910.39" fill="none" stroke="#151515" stroke-width="2.43"/>
<polygon points="449.32,906.44 449.20,904.10 448.85,901.66 448.26,899.16 447.46,896.66 446.45,894.18 445.26,891.78 443.89,889.49 442.38,887.36 440.75,885.42 439.04,883.70 437.26,882.23 435.44,881.04 433.63,880.15 431.85,879.58 430.13,879.33 428.51,879.40 427.00,879.80 425.63,880.53 424.43,881.55 423.43,882.87 422.62,884.46 422.04,886.29 421.69,888.32 421.57,890.53 421.69,892.87 422.04,895.32 422.62,897.81 423.43,900.32 424.43,902.79 425.63,905.19 427.00,907.48 428.51,909.62 430.13,911.56 431.85,913.28 433.63,914.74 435.44,915.93 437.26,916.82 439.04,917.40 440.75,917.65 442.38,917.57 443.89,917.17 445.26,916.45 446.45,915.42 447.46,914.10 448.26,912.51 448.85,910.69 449.20,908.65" fill="none" stroke="#151515" stroke-width="1.78"/>
<polygon points="449.16,904.75 449.06,902.67 448.74,900.50 448.23,898.29 447.51,896.06 446.62,893.86 445.55,891.73 444.34,889.70 443.00,887.81 441.56,886.08 440.03,884.56 438.45,883.26 436.84,882.20 435.24,881.41 433.66,880.90 432.13,880.68 430.68,880.74 429.34,881.10 428.13,881.74 427.07,882.66 426.18,883.83 425.46,885.23 424.94,886.86 424.63,888.66 424.52,890.62 424.63,892.70 424.94,894.87 425.46,897.09 426.18,899.31 427.07,901.51 428.13,903.64 429.34,905.67 430.68,907.57 432.13,909.29 433.66,910.82 435.24,912.12 436.84,913.17 438.45,913.96 440.03,914.47 441.56,914.70 443.00,914.63 444.34,914.27 445.55,913.63 446.62,912.72 447.51,911.55 448.23,910.14 448.74,908.52 449.06,906.71" fill="none" stroke="#151515" stroke-width="2.27"/>
<polygon points="448.86,902.98 448.77,901.18 448.50,899.31 448.06,897.40 447.44,895.49 446.67,893.59 445.75,891.75 444.71,890.00 443.55,888.37 442.31,886.88 440.99,885.57 439.63,884.45 438.24,883.54 436.86,882.86 435.50,882.42 434.18,882.22 432.93,882.28 431.78,882.59 430.73,883.14 429.82,883.93 429.05,884.94 428.43,886.15 427.99,887.55 427.71,889.11 427.62,890.80 427.71,892.59 427.99,894.46 428.43,896.37 429.05,898.29 429.82,900.18 430.73,902.02 431.78,903.77 432.93,905.40 434.18,906.89 435.50,908.21 436.86,909.33 438.24,910.24 439.63,910.92 440.99,911.36 442.31,911.55 443.55,911.49 444.71,911.19 445.75,910.63 446.67,909.85 447.44,908.84 448.06,907.62 448.50,906.22 448.77,904.67" fill="none" stroke="#151515" stroke-width="1.62"/>
<polygon points="448.15,901.76 448.07,900.21 447.83,898.59 447.45,896.94 446.91,895.27 446.25,893.63 445.45,892.04 444.55,890.52 443.55,889.11 442.47,887.82 441.33,886.68 440.15,885.70 438.94,884.92 437.74,884.33 436.56,883.95 435.42,883.78 434.34,883.83 433.34,884.09 432.44,884.57 431.64,885.26 430.97,886.13 430.44,887.18 430.05,888.39 429.82,889.74 429.74,891.21 429.82,892.76 430.05,894.38 430.44,896.04 430.97,897.70 431.64,899.34 432.44,900.94 433.34,902.45 434.34,903.87 435.42,905.16 436.56,906.30 437.74,907.27 438.94,908.06 440.15,908.65 441.33,909.03 442.47,909.20 443.55,909.15 444.55,908.88 445.45,908.40 446.25,907.72 446.91,906.84 447.45,905.79 447.83,904.58 448.07,903.23" fill="none" stroke="#151515" stroke-width="1.78"/>
<polygon points="447.01,900.31 446.94,899.07 446.76,897.77 446.45,896.45 446.02,895.12 445.49,893.80 444.85,892.53 444.13,891.31 443.33,890.18 442.46,889.15 441.55,888.24 440.61,887.46 439.64,886.83 438.68,886.36 437.74,886.05 436.83,885.92 435.96,885.96 435.16,886.17 434.44,886.56 433.80,887.10 433.27,887.80 432.84,888.64 432.53,889.61 432.34,890.69 432.28,891.86 432.34,893.11 432.53,894.40 432.84,895.73 433.27,897.06 433.80,898.37 434.44,899.65 435.16,900.86 435.96,901.99 436.83,903.02 437.74,903.93 438.68,904.71 439.64,905.34 440.61,905.81 441.55,906.12 442.46,906.25 443.33,906.21 444.13,906.00 444.85,905.62 445.49,905.07 446.02,904.37 446.45,903.53 446.76,902.56 446.94,901.48" fill="none" stroke="#151515" stroke-width="1.94"/>
<polygon points="442.08,899.89 442.04,899.12 441.92,898.32 441.73,897.51 441.47,896.69 441.14,895.88 440.75,895.10 440.30,894.35 439.81,893.65 439.28,893.02 438.72,892.46 438.14,891.98 437.54,891.59 436.95,891.30 436.37,891.11 435.81,891.03 435.28,891.05 434.79,891.19 434.34,891.42 433.95,891.76 433.62,892.19 433.36,892.71 433.17,893.30 433.05,893.97 433.01,894.69 433.05,895.45 433.17,896.25 433.36,897.07 433.62,897.88 433.95,898.69 434.34,899.48 434.79,900.22 435.28,900.92 435.81,901.56 436.37,902.12 436.95,902.60 437.54,902.98 438.14,903.27 438.72,903.46 439.28,903.54 439.81,903.52 440.30,903.39 440.75,903.15 441.14,902.82 441.47,902.39 441.73,901.87 441.92,901.27 442.04,900.61" fill="#fff" stroke="#151515" stroke-width="1.94"/>
<polygon points="438.69,899.55 438.67,899.12 438.61,898.67 438.50,898.21 438.35,897.75 438.17,897.30 437.95,896.85 437.70,896.43 437.42,896.04 437.12,895.69 436.80,895.37 436.48,895.10 436.14,894.88 435.81,894.72 435.48,894.61 435.17,894.57 434.87,894.58 434.59,894.66 434.34,894.79 434.12,894.98 433.94,895.22 433.79,895.51 433.68,895.85 433.62,896.22 433.60,896.63 433.62,897.06 433.68,897.50 433.79,897.96 433.94,898.42 434.12,898.88 434.34,899.32 434.59,899.74 434.87,900.13 435.17,900.49 435.48,900.80 435.81,901.07 436.14,901.29 436.48,901.45 436.80,901.56 437.12,901.61 437.42,901.59 437.70,901.52 437.95,901.39 438.17,901.20 438.35,900.95 438.50,900.66 438.61,900.33 438.67,899.95" fill="none" stroke="#151515" stroke-width="1.62"/>
<circle cx="446.89" cy="897.80" r="1.10" fill="#222" stroke="#151515" stroke-width="1.3"/>
<circle cx="443.85" cy="890.81" r="1.10" fill="#222" stroke="#151515" stroke-width="1.3"/>
<circle cx="438.94" cy="885.98" r="1.10" fill="#222" stroke="#151515" stroke-width="1.3"/>
<circle cx="434.03" cy="885.17" r="1.10" fill="#222" stroke="#151515" stroke-width="1.3"/>
<circle cx="431.00" cy="888.69" r="1.10" fill="#222" stroke="#151515" stroke-width="1.3"/>
<circle cx="431.00" cy="895.18" r="1.10" fill="#222" stroke="#151515" stroke-width="1.3"/>
<circle cx="434.03" cy="902.17" r="1.10" fill="#222" stroke="#151515" stroke-width="1.3"/>
<circle cx="438.94" cy="906.99" r="1.10" fill="#222" stroke="#151515" stroke-width="1.3"/>
<circle cx="443.85" cy="907.80" r="1.10" fill="#222" stroke="#151515" stroke-width="1.3"/>
<circle cx="446.89" cy="904.29" r="1.10" fill="#222" stroke="#151515" stroke-width="1.3"/>
<polyline points="441.38,929.75 444.22,930.16 446.91,930.04 449.41,929.37 451.66,928.18 453.64,926.48 455.31,924.30 456.64,921.68 457.60,918.66 458.19,915.29 458.38,911.64 458.19,907.77 457.60,903.73 456.64,899.61 455.31,895.46 453.64,891.37 451.66,887.40 449.41,883.62 446.91,880.09 444.22,876.88 441.38,874.04" fill="none" stroke="#151515" stroke-width="1.13"/>
<polyline points="456.59,922.48 459.39,922.53 462.00,922.02 464.37,920.96 466.47,919.36 468.25,917.25 469.68,914.68 470.74,911.68 471.41,908.31 471.68,904.63 471.54,900.71 470.99,896.61 470.05,892.41 468.73,888.19 467.05,884.01 465.05,879.95 462.76,876.09 460.21,872.49" fill="none" stroke="#151515" stroke-width="1.13"/>
<polygon points="479.65,926.24 479.76,923.48 480.09,920.87 480.63,918.43 481.39,916.21 482.36,914.20 483.51,912.44 484.85,910.93 486.37,909.70 503.87,899.70 505.53,898.76 507.34,898.11 509.27,897.76 511.31,897.72 513.43,897.98 515.61,898.55 517.84,899.41 520.09,900.56 522.34,901.99 524.56,903.68 526.75,905.62 528.87,907.79 530.90,910.16 532.83,912.73 534.64,915.45 536.31,918.30 537.82,921.27 539.16,924.31 540.32,927.40 541.28,930.51 542.04,933.61 542.59,936.67 542.91,939.66 543.03,942.55 542.91,945.31 542.59,947.92 542.04,950.35 541.28,952.58 540.32,954.59 539.16,956.35 537.82,957.86 536.31,959.09 518.81,969.09 517.14,970.03 515.33,970.68 513.40,971.03 511.37,971.07 509.25,970.81 507.06,970.24 504.83,969.38 502.59,968.23 500.34,966.80 498.11,965.11 495.93,963.17 493.81,961.00 491.77,958.62 489.84,956.06 488.03,953.34 486.37,950.48 484.85,947.52 483.51,944.48 482.36,941.39 481.39,938.28 480.63,935.18 480.09,932.12 479.76,929.13" fill="#fff" stroke="#151515" stroke-width="1.62"/>
<polygon points="525.53,952.55 525.42,949.66 525.08,946.67 524.54,943.61 523.78,940.51 522.82,937.40 521.66,934.31 520.32,931.27 518.81,928.31 517.14,925.45 515.33,922.73 513.40,920.16 511.36,917.79 509.25,915.62 507.06,913.68 504.83,911.99 502.59,910.56 500.34,909.41 498.11,908.55 495.93,907.98 493.81,907.72 491.77,907.76 489.84,908.11 488.03,908.76 486.37,909.70 484.85,910.93 483.51,912.44 482.36,914.20 481.39,916.21 480.63,918.44 480.09,920.87 479.76,923.48 479.65,926.24 479.76,929.13 480.09,932.12 480.63,935.18 481.39,938.28 482.36,941.39 483.51,944.48 484.85,947.52 486.37,950.48 488.03,953.34 489.84,956.06 491.77,958.62 493.81,961.00 495.93,963.17 498.11,965.11 500.34,966.80 502.59,968.23 504.83,969.38 507.06,970.24 509.25,970.81 511.36,971.07 513.40,971.03 515.33,970.68 517.14,970.03 518.81,969.09 520.32,967.86 521.66,966.35 522.82,964.59 523.78,962.58 524.54,960.35 525.08,957.92 525.42,955.31" fill="#fff" stroke="#151515" stroke-width="1.62"/>
<polygon points="523.40,951.33 523.22,947.81 522.69,944.15 521.82,940.41 520.61,936.65 519.10,932.93 517.30,929.33 515.26,925.90 512.99,922.70 510.55,919.79 507.97,917.21 505.30,915.01 502.59,913.23 499.87,911.89 497.20,911.03 494.62,910.65 492.18,910.77 489.91,911.37 487.87,912.45 486.07,914.00 484.56,915.97 483.36,918.35 482.48,921.09 481.95,924.14 481.77,927.46 481.95,930.97 482.48,934.64 483.36,938.38 484.56,942.14 486.07,945.85 487.87,949.46 489.91,952.89 492.18,956.09 494.62,959.00 497.20,961.58 499.87,963.78 502.59,965.56 505.30,966.89 507.97,967.76 510.55,968.14 512.99,968.02 515.26,967.42 517.30,966.34 519.10,964.79 520.61,962.81 521.82,960.43 522.69,957.70 523.22,954.64" fill="none" stroke="#151515" stroke-width="1.3"/>
<polygon points="518.44,947.68 518.31,945.12 517.92,942.46 517.28,939.73 516.41,937.00 515.31,934.29 514.00,931.67 512.51,929.17 510.86,926.84 509.08,924.72 507.21,922.85 505.26,921.24 503.29,919.95 501.31,918.98 499.36,918.35 497.49,918.07 495.71,918.16 494.06,918.59 492.57,919.38 491.27,920.51 490.17,921.95 489.29,923.68 488.65,925.67 488.26,927.89 488.14,930.31 488.26,932.87 488.65,935.53 489.29,938.26 490.17,940.99 491.27,943.70 492.57,946.32 494.06,948.81 495.71,951.14 497.49,953.27 499.36,955.14 501.31,956.74 503.29,958.04 505.26,959.01 507.21,959.64 509.08,959.91 510.86,959.83 512.51,959.39 514.00,958.60 515.31,957.48 516.41,956.04 517.28,954.31 517.92,952.32 518.31,950.09" fill="none" stroke="#151515" stroke-width="2.43"/>
<polygon points="518.56,946.15 518.44,943.81 518.09,941.37 517.51,938.87 516.70,936.36 515.70,933.89 514.50,931.49 513.13,929.20 511.62,927.07 510.00,925.12 508.28,923.40 506.50,921.94 504.69,920.75 502.88,919.86 501.09,919.28 499.38,919.03 497.75,919.11 496.24,919.51 494.87,920.23 493.68,921.26 492.67,922.58 491.87,924.17 491.28,925.99 490.93,928.03 490.81,930.24 490.93,932.58 491.28,935.02 491.87,937.52 492.67,940.02 493.68,942.50 494.87,944.90 496.24,947.19 497.75,949.32 499.38,951.26 501.09,952.98 502.88,954.45 504.69,955.64 506.50,956.53 508.28,957.10 510.00,957.36 511.62,957.28 513.13,956.88 514.50,956.16 515.70,955.13 516.70,953.81 517.51,952.22 518.09,950.40 518.44,948.36" fill="none" stroke="#151515" stroke-width="1.78"/>
<polygon points="518.41,944.46 518.30,942.38 517.99,940.21 517.47,937.99 516.76,935.77 515.86,933.57 514.80,931.44 513.59,929.41 512.25,927.51 510.80,925.79 509.27,924.26 507.69,922.96 506.09,921.91 504.48,921.12 502.90,920.61 501.37,920.38 499.93,920.45 498.59,920.81 497.38,921.45 496.31,922.36 495.42,923.53 494.70,924.94 494.19,926.56 493.87,928.37 493.77,930.33 493.87,932.41 494.19,934.58 494.70,936.79 495.42,939.02 496.31,941.22 497.38,943.35 498.59,945.38 499.93,947.27 501.37,949.00 502.90,950.52 504.48,951.83 506.09,952.88 507.69,953.67 509.27,954.18 510.80,954.40 512.25,954.34 513.59,953.98 514.80,953.34 515.86,952.43 516.76,951.25 517.47,949.85 517.99,948.23 518.30,946.42" fill="none" stroke="#151515" stroke-width="2.27"/>
<polygon points="518.11,942.68 518.02,940.89 517.74,939.02 517.30,937.11 516.68,935.19 515.91,933.30 515.00,931.46 513.95,929.71 512.80,928.08 511.55,926.59 510.24,925.27 508.87,924.15 507.49,923.24 506.10,922.56 504.74,922.12 503.42,921.93 502.18,921.99 501.02,922.30 499.98,922.85 499.06,923.64 498.29,924.64 497.67,925.86 497.23,927.26 496.96,928.81 496.87,930.50 496.96,932.30 497.23,934.17 497.67,936.08 498.29,937.99 499.06,939.89 499.98,941.73 501.02,943.48 502.18,945.11 503.42,946.60 504.74,947.91 506.10,949.03 507.49,949.94 508.87,950.62 510.24,951.07 511.55,951.26 512.80,951.20 513.95,950.89 515.00,950.34 515.91,949.55 516.68,948.54 517.30,947.33 517.74,945.93 518.02,944.37" fill="none" stroke="#151515" stroke-width="1.62"/>
<polygon points="517.39,941.47 517.31,939.92 517.08,938.30 516.69,936.64 516.16,934.98 515.49,933.34 514.69,931.74 513.79,930.23 512.79,928.81 511.71,927.52 510.57,926.38 509.39,925.41 508.19,924.62 506.99,924.03 505.80,923.65 504.66,923.48 503.58,923.53 502.58,923.80 501.68,924.28 500.88,924.96 500.22,925.84 499.68,926.89 499.30,928.10 499.06,929.45 498.98,930.92 499.06,932.47 499.30,934.09 499.68,935.75 500.22,937.41 500.88,939.05 501.68,940.64 502.58,942.16 503.58,943.57 504.66,944.86 505.80,946.00 506.99,946.98 508.19,947.76 509.39,948.35 510.57,948.74 511.71,948.90 512.79,948.85 513.79,948.59 514.69,948.11 515.49,947.42 516.16,946.55 516.69,945.50 517.08,944.29 517.31,942.94" fill="none" stroke="#151515" stroke-width="1.78"/>
<polygon points="516.25,940.02 516.19,938.77 516.00,937.48 515.69,936.15 515.26,934.82 514.73,933.51 514.09,932.23 513.37,931.02 512.57,929.89 511.70,928.86 510.79,927.95 509.85,927.17 508.89,926.54 507.93,926.07 506.98,925.76 506.07,925.63 505.20,925.67 504.40,925.88 503.68,926.26 503.04,926.81 502.51,927.51 502.08,928.35 501.77,929.32 501.59,930.40 501.52,931.57 501.59,932.82 501.77,934.11 502.08,935.43 502.51,936.77 503.04,938.08 503.68,939.35 504.40,940.57 505.20,941.70 506.07,942.73 506.98,943.64 507.93,944.42 508.89,945.05 509.85,945.52 510.79,945.83 511.70,945.96 512.57,945.92 513.37,945.71 514.09,945.32 514.73,944.78 515.26,944.08 515.69,943.24 516.00,942.27 516.19,941.19" fill="none" stroke="#151515" stroke-width="1.94"/>
<polygon points="511.32,939.59 511.28,938.83 511.16,938.03 510.97,937.21 510.71,936.40 510.38,935.59 509.99,934.80 509.54,934.06 509.05,933.36 508.52,932.73 507.96,932.16 507.38,931.69 506.79,931.30 506.19,931.01 505.61,930.82 505.05,930.74 504.52,930.76 504.03,930.89 503.58,931.13 503.19,931.46 502.86,931.90 502.60,932.41 502.41,933.01 502.29,933.67 502.26,934.40 502.29,935.16 502.41,935.96 502.60,936.77 502.86,937.59 503.19,938.40 503.58,939.18 504.03,939.93 504.52,940.63 505.05,941.26 505.61,941.82 506.19,942.30 506.79,942.69 507.38,942.98 507.96,943.17 508.52,943.25 509.05,943.23 509.54,943.09 509.99,942.86 510.38,942.52 510.71,942.09 510.97,941.57 511.16,940.98 511.28,940.31" fill="#fff" stroke="#151515" stroke-width="1.94"/>
<polygon points="507.94,939.26 507.91,938.82 507.85,938.38 507.74,937.92 507.59,937.46 507.41,937.00 507.19,936.56 506.94,936.14 506.66,935.75 506.36,935.39 506.05,935.08 505.72,934.81 505.39,934.59 505.05,934.43 504.73,934.32 504.41,934.27 504.11,934.29 503.83,934.36 503.58,934.49 503.36,934.68 503.18,934.93 503.03,935.22 502.92,935.55 502.86,935.93 502.84,936.33 502.86,936.76 502.92,937.21 503.03,937.67 503.18,938.13 503.36,938.58 503.58,939.03 503.83,939.45 504.11,939.84 504.41,940.19 504.73,940.51 505.05,940.78 505.39,941.00 505.72,941.16 506.05,941.27 506.36,941.31 506.66,941.30 506.94,941.23 507.19,941.09 507.41,940.90 507.59,940.66 507.74,940.37 507.85,940.03 507.91,939.66" fill="none" stroke="#151515" stroke-width="1.62"/>
<circle cx="516.13" cy="937.50" r="1.10" fill="#222" stroke="#151515" stroke-width="1.3"/>
<circle cx="513.10" cy="930.51" r="1.10" fill="#222" stroke="#151515" stroke-width="1.3"/>
<circle cx="508.19" cy="925.69" r="1.10" fill="#222" stroke="#151515" stroke-width="1.3"/>
<circle cx="503.28" cy="924.88" r="1.10" fill="#222" stroke="#151515" stroke-width="1.3"/>
<circle cx="500.24" cy="928.39" r="1.10" fill="#222" stroke="#151515" stroke-width="1.3"/>
<circle cx="500.24" cy="934.88" r="1.10" fill="#222" stroke="#151515" stroke-width="1.3"/>
<circle cx="503.28" cy="941.87" r="1.10" fill="#222" stroke="#151515" stroke-width="1.3"/>
<circle cx="508.19" cy="946.70" r="1.10" fill="#222" stroke="#151515" stroke-width="1.3"/>
<circle cx="513.10" cy="947.51" r="1.10" fill="#222" stroke="#151515" stroke-width="1.3"/>
<circle cx="516.13" cy="944.00" r="1.10" fill="#222" stroke="#151515" stroke-width="1.3"/>
<polyline points="510.62,969.45 513.46,969.87 516.16,969.74 518.65,969.08 520.91,967.89 522.89,966.18 524.55,964.00 525.88,961.38 526.84,958.36 527.43,955.00 527.63,951.35 527.43,947.47 526.84,943.44 525.88,939.31 524.55,935.17 522.89,931.08 520.91,927.11 518.65,923.32 516.16,919.80 513.46,916.59 510.62,913.74" fill="none" stroke="#151515" stroke-width="1.13"/>
<polyline points="525.83,962.19 528.63,962.24 531.24,961.73 533.61,960.66 535.71,959.06 537.49,956.96 538.92,954.38 539.98,951.38 540.65,948.02 540.92,944.34 540.78,940.41 540.23,936.32 539.29,932.12 537.97,927.89 536.29,923.71 534.29,919.66 532.00,915.80 529.46,912.20" fill="none" stroke="#151515" stroke-width="1.13"/>
<polygon points="549.03,966.03 549.14,963.26 549.47,960.65 550.02,958.22 550.78,955.99 551.74,953.99 552.90,952.22 554.24,950.72 555.75,949.49 573.25,939.49 574.92,938.55 576.73,937.90 578.66,937.55 580.69,937.51 582.81,937.77 585.00,938.33 587.22,939.20 589.47,940.35 591.72,941.77 593.95,943.47 596.13,945.41 598.25,947.58 600.28,949.95 602.22,952.51 604.02,955.24 605.69,958.09 607.20,961.06 608.54,964.10 609.70,967.19 610.66,970.30 611.42,973.40 611.97,976.46 612.30,979.45 612.41,982.34 612.30,985.10 611.97,987.71 611.42,990.14 610.66,992.37 609.70,994.38 608.54,996.14 607.20,997.64 605.69,998.87 588.19,1008.87 586.52,1009.82 584.72,1010.47 582.78,1010.81 580.75,1010.86 578.63,1010.60 576.45,1010.03 574.22,1009.17 571.97,1008.02 569.72,1006.59 567.50,1004.90 565.31,1002.96 563.19,1000.79 561.16,998.41 559.23,995.85 557.42,993.13 555.75,990.27 554.24,987.31 552.90,984.26 551.74,981.17 550.78,978.06 550.02,974.96 549.47,971.91 549.14,968.92" fill="#fff" stroke="#151515" stroke-width="1.62"/>
<polygon points="594.91,992.34 594.80,989.45 594.47,986.46 593.92,983.40 593.16,980.30 592.20,977.19 591.04,974.10 589.70,971.06 588.19,968.09 586.52,965.24 584.71,962.51 582.78,959.95 580.75,957.57 578.63,955.41 576.45,953.47 574.22,951.77 571.97,950.35 569.72,949.20 567.50,948.33 565.31,947.77 563.19,947.51 561.16,947.55 559.23,947.90 557.42,948.55 555.75,949.49 554.24,950.72 552.90,952.22 551.74,953.99 550.78,955.99 550.02,958.22 549.47,960.65 549.14,963.26 549.03,966.03 549.14,968.92 549.47,971.91 550.02,974.96 550.78,978.06 551.74,981.17 552.90,984.26 554.24,987.31 555.75,990.27 557.42,993.13 559.23,995.85 561.16,998.41 563.19,1000.79 565.31,1002.96 567.50,1004.90 569.72,1006.59 571.97,1008.02 574.22,1009.17 576.45,1010.03 578.63,1010.59 580.75,1010.86 582.78,1010.81 584.71,1010.47 586.52,1009.82 588.19,1008.87 589.70,1007.64 591.04,1006.14 592.20,1004.38 593.16,1002.37 593.92,1000.14 594.47,997.71 594.80,995.10" fill="#fff" stroke="#151515" stroke-width="1.62"/>
<polygon points="592.79,991.12 592.61,987.60 592.08,983.94 591.20,980.20 590.00,976.44 588.48,972.72 586.69,969.12 584.64,965.69 582.38,962.49 579.94,959.58 577.36,957.00 574.69,954.80 571.97,953.02 569.25,951.68 566.58,950.82 564.00,950.44 561.56,950.55 559.30,951.16 557.25,952.24 555.46,953.78 553.94,955.76 552.74,958.14 551.86,960.88 551.33,963.93 551.16,967.25 551.33,970.76 551.86,974.42 552.74,978.17 553.94,981.93 555.46,985.64 557.25,989.24 559.30,992.67 561.56,995.87 564.00,998.79 566.58,1001.37 569.25,1003.57 571.97,1005.35 574.69,1006.68 577.36,1007.55 579.94,1007.92 582.38,1007.81 584.64,1007.21 586.69,1006.12 588.48,1004.58 590.00,1002.60 591.20,1000.22 592.08,997.48 592.61,994.43" fill="none" stroke="#151515" stroke-width="1.3"/>
<polygon points="587.82,987.47 587.69,984.91 587.31,982.24 586.67,979.52 585.79,976.78 584.69,974.08 583.38,971.46 581.89,968.96 580.25,966.63 578.47,964.51 576.59,962.63 574.65,961.03 572.67,959.74 570.69,958.76 568.75,958.14 566.87,957.86 565.09,957.94 563.45,958.38 561.96,959.17 560.65,960.29 559.55,961.73 558.67,963.47 558.04,965.46 557.65,967.68 557.52,970.09 557.65,972.65 558.04,975.32 558.67,978.04 559.55,980.78 560.65,983.48 561.96,986.11 563.45,988.60 565.09,990.93 566.87,993.05 568.75,994.93 570.69,996.53 572.67,997.83 574.65,998.80 576.59,999.43 578.47,999.70 580.25,999.62 581.89,999.18 583.38,998.39 584.69,997.27 585.79,995.83 586.67,994.10 587.31,992.10 587.69,989.88" fill="none" stroke="#151515" stroke-width="2.43"/>
<polygon points="587.95,985.94 587.83,983.59 587.47,981.15 586.89,978.66 586.09,976.15 585.08,973.68 583.88,971.27 582.52,968.99 581.01,966.85 579.38,964.91 577.66,963.19 575.88,961.73 574.07,960.54 572.26,959.65 570.48,959.07 568.76,958.82 567.13,958.90 565.62,959.30 564.26,960.02 563.06,961.05 562.05,962.37 561.25,963.95 560.67,965.78 560.31,967.82 560.19,970.02 560.31,972.37 560.67,974.81 561.25,977.31 562.05,979.81 563.06,982.29 564.26,984.69 565.62,986.98 567.13,989.11 568.76,991.05 570.48,992.77 572.26,994.24 574.07,995.43 575.88,996.32 577.66,996.89 579.38,997.14 581.01,997.07 582.52,996.67 583.88,995.94 585.08,994.91 586.09,993.60 586.89,992.01 587.47,990.18 587.83,988.15" fill="none" stroke="#151515" stroke-width="1.78"/>
<polygon points="587.79,984.25 587.68,982.16 587.37,980.00 586.85,977.78 586.14,975.56 585.24,973.36 584.18,971.23 582.97,969.20 581.63,967.30 580.18,965.58 578.66,964.05 577.08,962.75 575.47,961.70 573.86,960.91 572.28,960.40 570.76,960.17 569.31,960.24 567.97,960.60 566.76,961.24 565.70,962.15 564.80,963.32 564.09,964.73 563.57,966.35 563.26,968.16 563.15,970.12 563.26,972.20 563.57,974.37 564.09,976.58 564.80,978.81 565.70,981.00 566.76,983.14 567.97,985.17 569.31,987.06 570.76,988.79 572.28,990.31 573.86,991.61 575.47,992.67 577.08,993.46 578.66,993.97 580.18,994.19 581.63,994.13 582.97,993.77 584.18,993.13 585.24,992.21 586.14,991.04 586.85,989.63 587.37,988.01 587.68,986.21" fill="none" stroke="#151515" stroke-width="2.27"/>
<polygon points="587.49,982.47 587.40,980.68 587.13,978.81 586.68,976.90 586.07,974.98 585.30,973.09 584.38,971.25 583.34,969.50 582.18,967.87 580.93,966.38 579.62,965.06 578.26,963.94 576.87,963.03 575.48,962.35 574.12,961.91 572.81,961.72 571.56,961.78 570.41,962.08 569.36,962.64 568.44,963.42 567.67,964.43 567.06,965.65 566.61,967.04 566.34,968.60 566.25,970.29 566.34,972.09 566.61,973.95 567.06,975.86 567.67,977.78 568.44,979.68 569.36,981.52 570.41,983.27 571.56,984.90 572.81,986.39 574.12,987.70 575.48,988.82 576.87,989.73 578.26,990.41 579.62,990.85 580.93,991.05 582.18,990.99 583.34,990.68 584.38,990.13 585.30,989.34 586.07,988.33 586.68,987.12 587.13,985.72 587.40,984.16" fill="none" stroke="#151515" stroke-width="1.62"/>
<polygon points="586.77,981.26 586.70,979.70 586.46,978.09 586.07,976.43 585.54,974.77 584.87,973.13 584.08,971.53 583.17,970.02 582.17,968.60 581.09,967.31 579.95,966.17 578.77,965.20 577.57,964.41 576.37,963.82 575.19,963.44 574.05,963.27 572.97,963.32 571.97,963.59 571.06,964.07 570.27,964.75 569.60,965.63 569.07,966.68 568.68,967.89 568.45,969.24 568.37,970.70 568.45,972.26 568.68,973.88 569.07,975.53 569.60,977.20 570.27,978.84 571.06,980.43 571.97,981.95 572.97,983.36 574.05,984.65 575.19,985.79 576.37,986.76 577.57,987.55 578.77,988.14 579.95,988.52 581.09,988.69 582.17,988.64 583.17,988.37 584.08,987.90 584.87,987.21 585.54,986.34 586.07,985.29 586.46,984.07 586.70,982.72" fill="none" stroke="#151515" stroke-width="1.78"/>
<polygon points="585.63,979.80 585.57,978.56 585.38,977.26 585.07,975.94 584.65,974.61 584.11,973.30 583.48,972.02 582.75,970.81 581.95,969.68 581.09,968.65 580.18,967.73 579.23,966.96 578.27,966.33 577.31,965.85 576.36,965.55 575.45,965.41 574.59,965.45 573.79,965.67 573.06,966.05 572.43,966.60 571.89,967.30 571.47,968.14 571.16,969.11 570.97,970.19 570.91,971.36 570.97,972.60 571.16,973.90 571.47,975.22 571.89,976.55 572.43,977.87 573.06,979.14 573.79,980.35 574.59,981.49 575.45,982.52 576.36,983.43 577.31,984.21 578.27,984.84 579.23,985.31 580.18,985.62 581.09,985.75 581.95,985.71 582.75,985.50 583.48,985.11 584.11,984.57 584.65,983.87 585.07,983.02 585.38,982.06 585.57,980.98" fill="none" stroke="#151515" stroke-width="1.94"/>
<polygon points="580.70,979.38 580.66,978.61 580.55,977.82 580.36,977.00 580.09,976.18 579.77,975.38 579.37,974.59 578.93,973.84 578.44,973.15 577.90,972.51 577.34,971.95 576.76,971.47 576.17,971.09 575.58,970.80 575.00,970.61 574.44,970.53 573.90,970.55 573.41,970.68 572.97,970.92 572.58,971.25 572.25,971.68 571.98,972.20 571.79,972.80 571.68,973.46 571.64,974.18 571.68,974.95 571.79,975.75 571.98,976.56 572.25,977.38 572.58,978.19 572.97,978.97 573.41,979.72 573.90,980.42 574.44,981.05 575.00,981.61 575.58,982.09 576.17,982.48 576.76,982.77 577.34,982.96 577.90,983.04 578.44,983.01 578.93,982.88 579.37,982.65 579.77,982.31 580.09,981.88 580.36,981.36 580.55,980.77 580.66,980.10" fill="#fff" stroke="#151515" stroke-width="1.94"/>
<polygon points="577.32,979.04 577.30,978.61 577.23,978.16 577.13,977.71 576.98,977.25 576.79,976.79 576.57,976.35 576.32,975.93 576.04,975.54 575.75,975.18 575.43,974.87 575.10,974.60 574.77,974.38 574.44,974.21 574.11,974.11 573.80,974.06 573.50,974.08 573.22,974.15 572.97,974.28 572.75,974.47 572.56,974.71 572.42,975.01 572.31,975.34 572.24,975.71 572.22,976.12 572.24,976.55 572.31,977.00 572.42,977.46 572.56,977.92 572.75,978.37 572.97,978.81 573.22,979.23 573.50,979.63 573.80,979.98 574.11,980.30 574.44,980.57 574.77,980.79 575.10,980.95 575.43,981.05 575.75,981.10 576.04,981.09 576.32,981.01 576.57,980.88 576.79,980.69 576.98,980.45 577.13,980.16 577.23,979.82 577.30,979.45" fill="none" stroke="#151515" stroke-width="1.62"/>
<circle cx="585.52" cy="977.29" r="1.10" fill="#222" stroke="#151515" stroke-width="1.3"/>
<circle cx="582.48" cy="970.30" r="1.10" fill="#222" stroke="#151515" stroke-width="1.3"/>
<circle cx="577.57" cy="965.48" r="1.10" fill="#222" stroke="#151515" stroke-width="1.3"/>
<circle cx="572.66" cy="964.67" r="1.10" fill="#222" stroke="#151515" stroke-width="1.3"/>
<circle cx="569.62" cy="968.18" r="1.10" fill="#222" stroke="#151515" stroke-width="1.3"/>
<circle cx="569.62" cy="974.67" r="1.10" fill="#222" stroke="#151515" stroke-width="1.3"/>
<circle cx="572.66" cy="981.66" r="1.10" fill="#222" stroke="#151515" stroke-width="1.3"/>
<circle cx="577.57" cy="986.48" r="1.10" fill="#222" stroke="#151515" stroke-width="1.3"/>
<circle cx="582.48" cy="987.29" r="1.10" fill="#222" stroke="#151515" stroke-width="1.3"/>
<circle cx="585.52" cy="983.78" r="1.10" fill="#222" stroke="#151515" stroke-width="1.3"/>
<polyline points="580.01,1009.24 582.85,1009.66 585.54,1009.53 588.03,1008.87 590.29,1007.67 592.27,1005.97 593.94,1003.79 595.26,1001.17 596.23,998.15 596.81,994.79 597.01,991.14 596.81,987.26 596.23,983.22 595.26,979.10 593.94,974.96 592.27,970.86 590.29,966.89 588.03,963.11 585.54,959.59 582.85,956.37 580.01,953.53" fill="none" stroke="#151515" stroke-width="1.13"/>
<polyline points="595.22,1001.98 598.01,1002.03 600.62,1001.52 603.00,1000.45 605.09,998.85 606.87,996.75 608.31,994.17 609.37,991.17 610.04,987.80 610.30,984.13 610.16,980.20 609.62,976.11 608.67,971.91 607.35,967.68 605.68,963.50 603.67,959.45 601.38,955.58 598.84,951.99" fill="none" stroke="#151515" stroke-width="1.13"/>
<polygon points="355.35,683.38 478.96,754.27 468.88,760.03 345.27,689.14" fill="#fff" stroke="#151515" stroke-width="1.46"/>
<line x1="350.10" y1="686.38" x2="473.71" y2="757.27" stroke="#151515" stroke-width="2.11"/>
<line x1="352.27" y1="685.14" x2="475.88" y2="756.03" stroke="#151515" stroke-width="1.13"/>
<line x1="347.93" y1="687.62" x2="471.54" y2="758.51" stroke="#151515" stroke-width="1.13"/>
<circle cx="358.92" cy="688.32" r="0.70" fill="#151515" stroke="#151515" stroke-width="0.97"/>
<circle cx="353.46" cy="691.44" r="0.70" fill="#151515" stroke="#151515" stroke-width="0.97"/>
<circle cx="470.35" cy="752.22" r="0.70" fill="#151515" stroke="#151515" stroke-width="0.97"/>
<circle cx="464.89" cy="755.34" r="0.70" fill="#151515" stroke="#151515" stroke-width="0.97"/>
<polygon points="480.24,755.00 599.75,823.54 589.67,829.30 470.16,760.76" fill="#fff" stroke="#151515" stroke-width="1.46"/>
<line x1="474.99" y1="758.00" x2="594.50" y2="826.54" stroke="#151515" stroke-width="2.11"/>
<line x1="477.16" y1="756.76" x2="596.67" y2="825.30" stroke="#151515" stroke-width="1.13"/>
<line x1="472.82" y1="759.24" x2="592.33" y2="827.78" stroke="#151515" stroke-width="1.13"/>
<circle cx="483.81" cy="759.93" r="0.70" fill="#151515" stroke="#151515" stroke-width="0.97"/>
<circle cx="478.35" cy="763.05" r="0.70" fill="#151515" stroke="#151515" stroke-width="0.97"/>
<circle cx="591.14" cy="821.48" r="0.70" fill="#151515" stroke="#151515" stroke-width="0.97"/>
<circle cx="585.68" cy="824.60" r="0.70" fill="#151515" stroke="#151515" stroke-width="0.97"/>
<polygon points="601.59,824.59 724.07,894.83 713.99,900.59 591.51,830.35" fill="#fff" stroke="#151515" stroke-width="1.46"/>
<line x1="596.34" y1="827.59" x2="718.82" y2="897.83" stroke="#151515" stroke-width="2.11"/>
<line x1="598.51" y1="826.35" x2="720.99" y2="896.59" stroke="#151515" stroke-width="1.13"/>
<line x1="594.17" y1="828.83" x2="716.65" y2="899.07" stroke="#151515" stroke-width="1.13"/>
<circle cx="605.16" cy="829.52" r="0.70" fill="#151515" stroke="#151515" stroke-width="0.97"/>
<circle cx="599.70" cy="832.64" r="0.70" fill="#151515" stroke="#151515" stroke-width="0.97"/>
<circle cx="715.46" cy="892.78" r="0.70" fill="#151515" stroke="#151515" stroke-width="0.97"/>
<circle cx="710.00" cy="895.90" r="0.70" fill="#151515" stroke="#151515" stroke-width="0.97"/>
<polygon points="336.50,685.40 715.28,902.61 603.98,966.21 225.20,749.00" fill="#fff" stroke="#151515" stroke-width="1.62"/>
<line x1="333.43" y1="687.97" x2="711.50" y2="904.77" stroke="#151515" stroke-width="1.62"/>
<line x1="311.52" y1="700.49" x2="689.59" y2="917.29" stroke="#151515" stroke-width="1.62"/>
<line x1="304.59" y1="704.45" x2="682.66" y2="921.25" stroke="#151515" stroke-width="1.62"/>
<line x1="258.25" y1="730.93" x2="636.32" y2="947.73" stroke="#151515" stroke-width="1.62"/>
<line x1="251.67" y1="734.69" x2="629.74" y2="951.49" stroke="#151515" stroke-width="1.62"/>
<line x1="229.55" y1="747.33" x2="607.62" y2="964.13" stroke="#151515" stroke-width="1.46"/>
<line x1="356.38" y1="702.41" x2="336.78" y2="713.61" stroke="#151515" stroke-width="2.59"/>
<line x1="274.48" y1="749.21" x2="254.88" y2="760.41" stroke="#151515" stroke-width="2.59"/>
<line x1="380.45" y1="716.21" x2="360.85" y2="727.41" stroke="#151515" stroke-width="2.59"/>
<line x1="298.55" y1="763.01" x2="278.95" y2="774.21" stroke="#151515" stroke-width="2.59"/>
<line x1="419.68" y1="738.71" x2="400.08" y2="749.91" stroke="#151515" stroke-width="2.59"/>
<line x1="337.78" y1="785.51" x2="318.18" y2="796.71" stroke="#151515" stroke-width="2.59"/>
<line x1="448.70" y1="755.35" x2="429.10" y2="766.55" stroke="#151515" stroke-width="2.59"/>
<line x1="366.80" y1="802.15" x2="347.20" y2="813.35" stroke="#151515" stroke-width="2.59"/>
<line x1="477.31" y1="771.75" x2="457.71" y2="782.95" stroke="#151515" stroke-width="2.59"/>
<line x1="395.41" y1="818.55" x2="375.81" y2="829.75" stroke="#151515" stroke-width="2.59"/>
<line x1="526.58" y1="800.01" x2="506.98" y2="811.21" stroke="#151515" stroke-width="2.59"/>
<line x1="444.68" y1="846.81" x2="425.08" y2="858.01" stroke="#151515" stroke-width="2.59"/>
<line x1="552.92" y1="815.12" x2="533.32" y2="826.32" stroke="#151515" stroke-width="2.59"/>
<line x1="471.02" y1="861.92" x2="451.42" y2="873.12" stroke="#151515" stroke-width="2.59"/>
<line x1="595.54" y1="839.56" x2="575.94" y2="850.76" stroke="#151515" stroke-width="2.59"/>
<line x1="513.64" y1="886.36" x2="494.04" y2="897.56" stroke="#151515" stroke-width="2.59"/>
<line x1="621.88" y1="854.66" x2="602.28" y2="865.86" stroke="#151515" stroke-width="2.59"/>
<line x1="539.98" y1="901.46" x2="520.38" y2="912.66" stroke="#151515" stroke-width="2.59"/>
<line x1="664.64" y1="879.18" x2="645.04" y2="890.38" stroke="#151515" stroke-width="2.59"/>
<line x1="582.74" y1="925.98" x2="563.14" y2="937.18" stroke="#151515" stroke-width="2.59"/>
<line x1="690.56" y1="894.04" x2="670.96" y2="905.24" stroke="#151515" stroke-width="2.59"/>
<line x1="608.66" y1="940.84" x2="589.06" y2="952.04" stroke="#151515" stroke-width="2.59"/>
<polygon points="361.47,704.93 367.14,708.18 360.14,712.18 354.47,708.93" fill="#fff" stroke="#151515" stroke-width="1.46"/>
<polygon points="361.49,706.54 364.32,708.17 360.12,710.57 357.29,708.94" fill="#444" stroke="#151515" stroke-width="1.46"/>
<polygon points="266.13,759.41 271.80,762.66 264.80,766.66 259.13,763.41" fill="#fff" stroke="#151515" stroke-width="1.46"/>
<polygon points="266.15,761.02 268.98,762.65 264.78,765.05 261.95,763.42" fill="#444" stroke="#151515" stroke-width="1.46"/>
<polygon points="453.73,757.83 459.39,761.08 452.39,765.08 446.73,761.83" fill="#fff" stroke="#151515" stroke-width="1.46"/>
<polygon points="453.74,759.44 456.57,761.07 452.37,763.47 449.54,761.84" fill="#444" stroke="#151515" stroke-width="1.46"/>
<polygon points="358.39,812.31 364.05,815.56 357.05,819.56 351.39,816.31" fill="#fff" stroke="#151515" stroke-width="1.46"/>
<polygon points="358.40,813.92 361.23,815.55 357.03,817.95 354.20,816.32" fill="#444" stroke="#151515" stroke-width="1.46"/>
<polygon points="506.83,788.28 512.49,791.53 505.49,795.53 499.83,792.28" fill="#fff" stroke="#151515" stroke-width="1.46"/>
<polygon points="506.84,789.89 509.67,791.52 505.47,793.92 502.64,792.29" fill="#444" stroke="#151515" stroke-width="1.46"/>
<polygon points="411.49,842.76 417.15,846.01 410.15,850.01 404.49,846.76" fill="#fff" stroke="#151515" stroke-width="1.46"/>
<polygon points="411.50,844.37 414.33,846.00 410.13,848.40 407.30,846.77" fill="#444" stroke="#151515" stroke-width="1.46"/>
<polygon points="627.40,857.42 633.06,860.67 626.06,864.67 620.40,861.42" fill="#fff" stroke="#151515" stroke-width="1.46"/>
<polygon points="627.41,859.04 630.25,860.66 626.05,863.06 623.21,861.44" fill="#444" stroke="#151515" stroke-width="1.46"/>
<polygon points="532.06,911.90 537.72,915.15 530.72,919.15 525.06,915.90" fill="#fff" stroke="#151515" stroke-width="1.46"/>
<polygon points="532.07,913.52 534.91,915.14 530.71,917.54 527.87,915.92" fill="#444" stroke="#151515" stroke-width="1.46"/>
<polygon points="405.93,730.02 411.60,733.27 406.00,736.47 400.33,733.22" fill="#fff" stroke="#151515" stroke-width="1.46"/>
<polyline points="405.95,731.96 408.22,733.26 405.98,734.54 403.71,733.24" fill="none" stroke="#151515" stroke-width="1.13"/>
<polygon points="482.40,773.87 488.06,777.12 482.46,780.32 476.80,777.07" fill="#fff" stroke="#151515" stroke-width="1.46"/>
<polyline points="482.42,775.81 484.68,777.11 482.44,778.39 480.18,777.09" fill="none" stroke="#151515" stroke-width="1.13"/>
<polygon points="564.95,821.21 570.61,824.46 565.01,827.66 559.35,824.41" fill="#fff" stroke="#151515" stroke-width="1.46"/>
<polyline points="564.97,823.15 567.23,824.45 564.99,825.73 562.73,824.43" fill="none" stroke="#151515" stroke-width="1.13"/>
<polygon points="647.50,868.55 653.17,871.80 647.57,875.00 641.90,871.75" fill="#fff" stroke="#151515" stroke-width="1.46"/>
<polyline points="647.52,870.49 649.79,871.78 647.55,873.06 645.28,871.77" fill="none" stroke="#151515" stroke-width="1.13"/>
<polygon points="363.04,728.43 367.28,727.47 372.93,729.03 382.84,734.71 387.10,738.84 388.53,743.05 382.17,740.20 368.01,732.08" fill="#fff" stroke="#151515" stroke-width="2.11"/>
<line x1="365.39" y1="730.33" x2="369.18" y2="727.12" stroke="#151515" stroke-width="2.11"/>
<line x1="368.57" y1="732.16" x2="372.37" y2="728.94" stroke="#151515" stroke-width="2.11"/>
<line x1="371.76" y1="733.99" x2="375.55" y2="730.77" stroke="#151515" stroke-width="2.11"/>
<line x1="374.94" y1="735.82" x2="378.74" y2="732.60" stroke="#151515" stroke-width="2.11"/>
<line x1="378.13" y1="737.64" x2="381.93" y2="734.42" stroke="#151515" stroke-width="2.11"/>
<line x1="381.32" y1="739.47" x2="385.11" y2="736.25" stroke="#151515" stroke-width="2.11"/>
<line x1="384.50" y1="741.30" x2="388.30" y2="738.08" stroke="#151515" stroke-width="2.11"/>
<line x1="377.53" y1="731.67" x2="377.53" y2="727.22" stroke="#151515" stroke-width="2.27"/>
<line x1="384.26" y1="735.52" x2="386.73" y2="732.17" stroke="#151515" stroke-width="1.94"/>
<line x1="371.52" y1="728.21" x2="373.27" y2="725.35" stroke="#151515" stroke-width="1.94"/>
<circle cx="377.18" cy="727.32" r="0.80" fill="#151515" stroke="#151515" stroke-width="0.97"/>
<circle cx="390.49" cy="734.96" r="0.80" fill="#151515" stroke="#151515" stroke-width="0.97"/>
<polygon points="469.24,789.33 473.48,788.37 479.13,789.93 489.04,795.61 493.30,799.74 494.73,803.95 488.37,801.10 474.21,792.98" fill="#fff" stroke="#151515" stroke-width="2.11"/>
<line x1="471.59" y1="791.23" x2="475.38" y2="788.02" stroke="#151515" stroke-width="2.11"/>
<line x1="474.77" y1="793.06" x2="478.57" y2="789.84" stroke="#151515" stroke-width="2.11"/>
<line x1="477.96" y1="794.89" x2="481.75" y2="791.67" stroke="#151515" stroke-width="2.11"/>
<line x1="481.14" y1="796.72" x2="484.94" y2="793.50" stroke="#151515" stroke-width="2.11"/>
<line x1="484.33" y1="798.54" x2="488.13" y2="795.32" stroke="#151515" stroke-width="2.11"/>
<line x1="487.52" y1="800.37" x2="491.31" y2="797.15" stroke="#151515" stroke-width="2.11"/>
<line x1="490.70" y1="802.20" x2="494.50" y2="798.98" stroke="#151515" stroke-width="2.11"/>
<line x1="483.73" y1="792.57" x2="483.73" y2="788.12" stroke="#151515" stroke-width="2.27"/>
<line x1="490.46" y1="796.42" x2="492.93" y2="793.07" stroke="#151515" stroke-width="1.94"/>
<line x1="477.72" y1="789.11" x2="479.47" y2="786.25" stroke="#151515" stroke-width="1.94"/>
<circle cx="483.38" cy="788.22" r="0.80" fill="#151515" stroke="#151515" stroke-width="0.97"/>
<circle cx="496.69" cy="795.86" r="0.80" fill="#151515" stroke="#151515" stroke-width="0.97"/>
<polygon points="611.41,870.86 615.64,869.90 621.30,871.45 631.21,877.14 635.47,881.27 636.90,885.47 630.53,882.62 616.37,874.50" fill="#fff" stroke="#151515" stroke-width="2.11"/>
<line x1="613.75" y1="872.76" x2="617.55" y2="869.54" stroke="#151515" stroke-width="2.11"/>
<line x1="616.94" y1="874.59" x2="620.73" y2="871.37" stroke="#151515" stroke-width="2.11"/>
<line x1="620.12" y1="876.41" x2="623.92" y2="873.20" stroke="#151515" stroke-width="2.11"/>
<line x1="623.31" y1="878.24" x2="627.11" y2="875.02" stroke="#151515" stroke-width="2.11"/>
<line x1="626.50" y1="880.07" x2="630.29" y2="876.85" stroke="#151515" stroke-width="2.11"/>
<line x1="629.68" y1="881.89" x2="633.48" y2="878.68" stroke="#151515" stroke-width="2.11"/>
<line x1="632.87" y1="883.72" x2="636.66" y2="880.50" stroke="#151515" stroke-width="2.11"/>
<line x1="625.90" y1="874.09" x2="625.90" y2="869.64" stroke="#151515" stroke-width="2.27"/>
<line x1="632.63" y1="877.95" x2="635.09" y2="874.60" stroke="#151515" stroke-width="1.94"/>
<line x1="619.88" y1="870.64" x2="621.64" y2="867.78" stroke="#151515" stroke-width="1.94"/>
<circle cx="625.55" cy="869.75" r="0.80" fill="#151515" stroke="#151515" stroke-width="0.97"/>
<circle cx="638.86" cy="877.38" r="0.80" fill="#151515" stroke="#151515" stroke-width="0.97"/>
<polygon points="294.97,771.38 313.38,781.94 323.20,771.72 314.70,765.07 310.45,762.63 301.96,759.54" fill="#fff" stroke="#151515" stroke-width="1.62"/>
<line x1="301.35" y1="775.03" x2="309.04" y2="762.71" stroke="#151515" stroke-width="1.3"/>
<line x1="307.01" y1="778.28" x2="316.12" y2="766.77" stroke="#151515" stroke-width="1.3"/>
<line x1="291.81" y1="777.11" x2="295.41" y2="775.31" stroke="#151515" stroke-width="2.27"/>
<line x1="297.48" y1="780.36" x2="301.08" y2="778.56" stroke="#151515" stroke-width="2.27"/>
<line x1="303.14" y1="783.61" x2="306.74" y2="781.81" stroke="#151515" stroke-width="2.27"/>
<polygon points="401.17,832.28 419.58,842.84 429.40,832.62 420.90,825.97 416.65,823.53 408.16,820.44" fill="#fff" stroke="#151515" stroke-width="1.62"/>
<line x1="407.55" y1="835.93" x2="415.24" y2="823.61" stroke="#151515" stroke-width="1.3"/>
<line x1="413.21" y1="839.18" x2="422.32" y2="827.67" stroke="#151515" stroke-width="1.3"/>
<line x1="398.01" y1="838.01" x2="401.61" y2="836.21" stroke="#151515" stroke-width="2.27"/>
<line x1="403.68" y1="841.26" x2="407.28" y2="839.46" stroke="#151515" stroke-width="2.27"/>
<line x1="409.34" y1="844.51" x2="412.94" y2="842.71" stroke="#151515" stroke-width="2.27"/>
<polygon points="543.34,913.81 561.75,924.36 571.56,914.14 563.07,907.49 558.82,905.06 550.32,901.96" fill="#fff" stroke="#151515" stroke-width="1.62"/>
<line x1="549.71" y1="917.46" x2="557.40" y2="905.13" stroke="#151515" stroke-width="1.3"/>
<line x1="555.38" y1="920.71" x2="564.48" y2="909.19" stroke="#151515" stroke-width="1.3"/>
<line x1="540.18" y1="919.54" x2="543.78" y2="917.74" stroke="#151515" stroke-width="2.27"/>
<line x1="545.84" y1="922.78" x2="549.44" y2="920.98" stroke="#151515" stroke-width="2.27"/>
<line x1="551.51" y1="926.03" x2="555.11" y2="924.23" stroke="#151515" stroke-width="2.27"/>
<polygon points="312.16,701.74 323.49,708.23 325.65,712.68 317.89,711.43 306.56,704.94" fill="#fff" stroke="#151515" stroke-width="1.46"/>
<polygon points="259.38,731.90 270.71,738.39 272.87,742.84 265.11,741.59 253.78,735.10" fill="#fff" stroke="#151515" stroke-width="1.46"/>
<polygon points="288.04,722.62 404.30,789.28 394.50,794.88 278.24,728.22" fill="#fff" stroke="#151515" stroke-width="1.46"/>
<polygon points="278.24,731.33 394.50,798.00 394.50,794.88 278.24,728.22" fill="#fff" stroke="#151515" stroke-width="1.46"/>
<polygon points="404.30,792.40 394.50,798.00 394.50,794.88 404.30,789.28" fill="#fff" stroke="#151515" stroke-width="1.46"/>
<line x1="283.14" y1="725.42" x2="399.40" y2="792.08" stroke="#151515" stroke-width="2.43"/>
<polygon points="408.97,791.96 525.37,858.71 515.57,864.31 399.17,797.56" fill="#fff" stroke="#151515" stroke-width="1.46"/>
<polygon points="399.17,800.68 515.57,867.42 515.57,864.31 399.17,797.56" fill="#fff" stroke="#151515" stroke-width="1.46"/>
<polygon points="525.37,861.82 515.57,867.42 515.57,864.31 525.37,858.71" fill="#fff" stroke="#151515" stroke-width="1.46"/>
<line x1="404.07" y1="794.76" x2="520.47" y2="861.51" stroke="#151515" stroke-width="2.43"/>
<polygon points="530.04,861.39 647.00,928.46 637.20,934.06 520.24,866.99" fill="#fff" stroke="#151515" stroke-width="1.46"/>
<polygon points="520.24,870.10 637.20,937.18 637.20,934.06 520.24,866.99" fill="#fff" stroke="#151515" stroke-width="1.46"/>
<polygon points="647.00,931.58 637.20,937.18 637.20,934.06 647.00,928.46" fill="#fff" stroke="#151515" stroke-width="1.46"/>
<line x1="525.14" y1="864.19" x2="642.10" y2="931.26" stroke="#151515" stroke-width="2.43"/>
<polygon points="303.11,707.93 307.64,710.53 276.84,728.13 272.31,725.53" fill="#fff" stroke="#151515" stroke-width="1.46"/>
<polygon points="272.31,729.54 276.84,732.13 276.84,728.13 272.31,725.53" fill="#fff" stroke="#151515" stroke-width="1.46"/>
<polygon points="307.64,714.53 276.84,732.13 276.84,728.13 307.64,710.53" fill="#fff" stroke="#151515" stroke-width="1.46"/>
<polygon points="290.50,711.29 297.86,715.52 288.76,720.72 281.40,716.49" fill="#fff" stroke="#151515" stroke-width="1.46"/>
<polygon points="281.40,718.72 288.76,722.94 288.76,720.72 281.40,716.49" fill="#fff" stroke="#151515" stroke-width="1.46"/>
<polygon points="297.86,717.74 288.76,722.94 288.76,720.72 297.86,715.52" fill="#fff" stroke="#151515" stroke-width="1.46"/>
<line x1="303.98" y1="710.03" x2="294.88" y2="715.23" stroke="#151515" stroke-width="1.13"/>
<polygon points="423.90,777.19 428.43,779.79 397.63,797.39 393.10,794.79" fill="#fff" stroke="#151515" stroke-width="1.46"/>
<polygon points="393.10,798.80 397.63,801.40 397.63,797.39 393.10,794.79" fill="#fff" stroke="#151515" stroke-width="1.46"/>
<polygon points="428.43,783.80 397.63,801.40 397.63,797.39 428.43,779.79" fill="#fff" stroke="#151515" stroke-width="1.46"/>
<polygon points="411.28,780.56 418.65,784.78 409.55,789.98 402.18,785.76" fill="#fff" stroke="#151515" stroke-width="1.46"/>
<polygon points="402.18,787.98 409.55,792.20 409.55,789.98 402.18,785.76" fill="#fff" stroke="#151515" stroke-width="1.46"/>
<polygon points="418.65,787.00 409.55,792.20 409.55,789.98 418.65,784.78" fill="#fff" stroke="#151515" stroke-width="1.46"/>
<line x1="424.76" y1="779.29" x2="415.66" y2="784.49" stroke="#151515" stroke-width="1.13"/>
<polygon points="544.97,846.62 549.50,849.22 518.70,866.82 514.17,864.22" fill="#fff" stroke="#151515" stroke-width="1.46"/>
<polygon points="514.17,868.22 518.70,870.82 518.70,866.82 514.17,864.22" fill="#fff" stroke="#151515" stroke-width="1.46"/>
<polygon points="549.50,853.22 518.70,870.82 518.70,866.82 549.50,849.22" fill="#fff" stroke="#151515" stroke-width="1.46"/>
<polygon points="532.35,849.98 539.71,854.21 530.61,859.41 523.25,855.18" fill="#fff" stroke="#151515" stroke-width="1.46"/>
<polygon points="523.25,857.41 530.61,861.63 530.61,859.41 523.25,855.18" fill="#fff" stroke="#151515" stroke-width="1.46"/>
<polygon points="539.71,856.43 530.61,861.63 530.61,859.41 539.71,854.21" fill="#fff" stroke="#151515" stroke-width="1.46"/>
<line x1="545.83" y1="848.72" x2="536.73" y2="853.92" stroke="#151515" stroke-width="1.13"/>
<polygon points="666.60,916.37 671.13,918.97 640.33,936.57 635.80,933.97" fill="#fff" stroke="#151515" stroke-width="1.46"/>
<polygon points="635.80,937.98 640.33,940.57 640.33,936.57 635.80,933.97" fill="#fff" stroke="#151515" stroke-width="1.46"/>
<polygon points="671.13,922.97 640.33,940.57 640.33,936.57 671.13,918.97" fill="#fff" stroke="#151515" stroke-width="1.46"/>
<polygon points="653.98,919.73 661.35,923.96 652.25,929.16 644.88,924.93" fill="#fff" stroke="#151515" stroke-width="1.46"/>
<polygon points="644.88,927.16 652.25,931.38 652.25,929.16 644.88,924.93" fill="#fff" stroke="#151515" stroke-width="1.46"/>
<polygon points="661.35,926.18 652.25,931.38 652.25,929.16 661.35,923.96" fill="#fff" stroke="#151515" stroke-width="1.46"/>
<line x1="667.47" y1="918.47" x2="658.37" y2="923.67" stroke="#151515" stroke-width="1.13"/>
<polygon points="728.18,897.77 758.06,925.28 747.98,931.04 718.10,903.53" fill="#fff" stroke="#151515" stroke-width="1.46"/>
<line x1="722.93" y1="900.77" x2="752.81" y2="928.28" stroke="#151515" stroke-width="1.94"/>
<polygon points="715.28,902.61 748.13,932.75 636.83,996.35 603.98,966.21" fill="#fff" stroke="#151515" stroke-width="1.62"/>
<line x1="711.50" y1="904.77" x2="744.35" y2="934.91" stroke="#151515" stroke-width="1.46"/>
<line x1="689.59" y1="917.29" x2="722.44" y2="947.43" stroke="#151515" stroke-width="1.46"/>
<line x1="682.66" y1="921.25" x2="715.51" y2="951.39" stroke="#151515" stroke-width="1.46"/>
<line x1="636.32" y1="947.73" x2="669.17" y2="977.87" stroke="#151515" stroke-width="1.46"/>
<line x1="629.74" y1="951.49" x2="662.59" y2="981.63" stroke="#151515" stroke-width="1.46"/>
<line x1="607.62" y1="964.13" x2="640.47" y2="994.27" stroke="#151515" stroke-width="1.46"/>
<line x1="714.63" y1="909.32" x2="695.03" y2="920.52" stroke="#151515" stroke-width="2.11"/>
<line x1="632.73" y1="956.12" x2="613.13" y2="967.32" stroke="#151515" stroke-width="2.11"/>
<line x1="717.46" y1="911.93" x2="697.86" y2="923.13" stroke="#151515" stroke-width="2.11"/>
<line x1="635.56" y1="958.73" x2="615.96" y2="969.93" stroke="#151515" stroke-width="2.11"/>
<line x1="724.26" y1="918.18" x2="704.66" y2="929.38" stroke="#151515" stroke-width="2.11"/>
<line x1="642.36" y1="964.98" x2="622.76" y2="976.18" stroke="#151515" stroke-width="2.11"/>
<line x1="726.66" y1="920.40" x2="707.06" y2="931.60" stroke="#151515" stroke-width="2.11"/>
<line x1="644.76" y1="967.20" x2="625.16" y2="978.40" stroke="#151515" stroke-width="2.11"/>
<line x1="733.46" y1="926.66" x2="713.86" y2="937.86" stroke="#151515" stroke-width="2.11"/>
<line x1="651.56" y1="973.46" x2="631.96" y2="984.66" stroke="#151515" stroke-width="2.11"/>
<line x1="735.87" y1="928.87" x2="716.27" y2="940.07" stroke="#151515" stroke-width="2.11"/>
<line x1="653.97" y1="975.67" x2="634.37" y2="986.87" stroke="#151515" stroke-width="2.11"/>
<line x1="740.54" y1="933.17" x2="720.94" y2="944.37" stroke="#151515" stroke-width="2.11"/>
<line x1="658.64" y1="979.97" x2="639.04" y2="991.17" stroke="#151515" stroke-width="2.11"/>
<ellipse cx="701.88" cy="933.72" rx="3.40" ry="2.00" fill="#fff" stroke="#151515" stroke-width="1.46" transform="rotate(-8 701.88 933.72)"/>
<circle cx="701.88" cy="933.72" r="0.90" fill="none" stroke="#151515" stroke-width="1.13"/>
<ellipse cx="649.38" cy="963.72" rx="3.40" ry="2.00" fill="#fff" stroke="#151515" stroke-width="1.46" transform="rotate(-8 649.38 963.72)"/>
<circle cx="649.38" cy="963.72" r="0.90" fill="none" stroke="#151515" stroke-width="1.13"/>
<polygon points="677.93,923.75 682.46,926.35 651.66,943.95 647.13,941.35" fill="#fff" stroke="#151515" stroke-width="1.46"/>
<polygon points="647.13,945.36 651.66,947.95 651.66,943.95 647.13,941.35" fill="#fff" stroke="#151515" stroke-width="1.46"/>
<polygon points="682.46,930.35 651.66,947.95 651.66,943.95 682.46,926.35" fill="#fff" stroke="#151515" stroke-width="1.46"/>
<polygon points="665.31,927.11 672.68,931.34 663.58,936.54 656.21,932.31" fill="#fff" stroke="#151515" stroke-width="1.46"/>
<polygon points="656.21,934.54 663.58,938.76 663.58,936.54 656.21,932.31" fill="#fff" stroke="#151515" stroke-width="1.46"/>
<polygon points="672.68,933.56 663.58,938.76 663.58,936.54 672.68,931.34" fill="#fff" stroke="#151515" stroke-width="1.46"/>
<polygon points="702.57,946.43 707.10,949.03 676.30,966.63 671.77,964.03" fill="#fff" stroke="#151515" stroke-width="1.46"/>
<polygon points="671.77,968.04 676.30,970.63 676.30,966.63 671.77,964.03" fill="#fff" stroke="#151515" stroke-width="1.46"/>
<polygon points="707.10,953.03 676.30,970.63 676.30,966.63 707.10,949.03" fill="#fff" stroke="#151515" stroke-width="1.46"/>
<polygon points="689.95,949.79 697.31,954.02 688.21,959.22 680.85,954.99" fill="#fff" stroke="#151515" stroke-width="1.46"/>
<polygon points="680.85,957.22 688.21,961.44 688.21,959.22 680.85,954.99" fill="#fff" stroke="#151515" stroke-width="1.46"/>
<polygon points="697.31,956.24 688.21,961.44 688.21,959.22 697.31,954.02" fill="#fff" stroke="#151515" stroke-width="1.46"/>
<polygon points="662.86,943.45 682.97,954.98 673.17,960.58 653.06,949.05" fill="#fff" stroke="#151515" stroke-width="1.46"/>
<polygon points="653.06,952.17 673.17,963.70 673.17,960.58 653.06,949.05" fill="#fff" stroke="#151515" stroke-width="1.46"/>
<polygon points="682.97,958.10 673.17,963.70 673.17,960.58 682.97,954.98" fill="#fff" stroke="#151515" stroke-width="1.46"/>
<polygon points="748.13,932.75 636.83,996.35 636.83,1010.59 748.13,946.99" fill="#fff" stroke="#151515" stroke-width="1.62"/>
<polyline points="704.03,962.40 681.63,975.20 681.63,980.54 704.03,967.74" fill="none" stroke="#151515" stroke-width="1.46"/>
<circle cx="708.23" cy="962.67" r="1.60" fill="none" stroke="#151515" stroke-width="1.46"/>
<circle cx="677.43" cy="980.27" r="1.20" fill="none" stroke="#151515" stroke-width="1.3"/>
<polyline points="688.63,977.43 683.73,980.23 683.73,983.79 688.63,980.99" fill="none" stroke="#151515" stroke-width="1.3"/>
<polygon points="748.07,934.97 760.38,942.04 727.06,961.08 714.75,954.01" fill="#fff" stroke="#151515" stroke-width="1.62"/>
<polygon points="714.75,959.35 727.06,966.42 727.06,961.08 714.75,954.01" fill="#fff" stroke="#151515" stroke-width="1.62"/>
<polygon points="760.38,947.38 727.06,966.42 727.06,961.08 760.38,942.04" fill="#fff" stroke="#151515" stroke-width="1.62"/>
<polygon points="716.85,953.62 725.63,958.65 725.63,846.51 719.40,818.91 716.85,819.23" fill="#fff" stroke="#151515" stroke-width="1.62"/>
<polygon points="758.25,940.01 725.63,958.65 725.63,846.51 758.25,827.87" fill="#fff" stroke="#151515" stroke-width="1.62"/>
<polygon points="758.25,827.87 725.63,846.51 719.40,818.91 752.02,800.27" fill="#fff" stroke="#151515" stroke-width="1.62"/>
<line x1="730.25" y1="956.01" x2="730.25" y2="844.32" stroke="#151515" stroke-width="1.62"/>
<line x1="736.41" y1="952.49" x2="736.41" y2="840.80" stroke="#151515" stroke-width="1.62"/>
<line x1="741.03" y1="949.85" x2="741.03" y2="838.16" stroke="#151515" stroke-width="1.62"/>
<line x1="747.61" y1="946.09" x2="747.61" y2="834.40" stroke="#151515" stroke-width="1.62"/>
<line x1="752.23" y1="943.45" x2="752.23" y2="831.76" stroke="#151515" stroke-width="1.62"/>
<line x1="756.85" y1="940.81" x2="756.85" y2="829.12" stroke="#151515" stroke-width="1.62"/>
<polyline points="730.25,867.01 752.23,854.45 752.23,858.90 730.25,871.46" fill="none" stroke="#151515" stroke-width="1.46"/>
<line x1="726.00" y1="864.58" x2="747.98" y2="852.02" stroke="#151515" stroke-width="1.3"/>
<polyline points="730.25,895.49 752.23,882.93 752.23,887.38 730.25,899.94" fill="none" stroke="#151515" stroke-width="1.46"/>
<line x1="726.00" y1="893.06" x2="747.98" y2="880.50" stroke="#151515" stroke-width="1.3"/>
<line x1="716.85" y1="841.48" x2="725.63" y2="846.51" stroke="#151515" stroke-width="1.46"/>
<line x1="716.85" y1="864.62" x2="725.63" y2="869.65" stroke="#151515" stroke-width="1.46"/>
<line x1="716.85" y1="893.10" x2="725.63" y2="898.13" stroke="#151515" stroke-width="1.46"/>
<line x1="716.85" y1="921.58" x2="725.63" y2="926.61" stroke="#151515" stroke-width="1.46"/>
<line x1="716.85" y1="935.82" x2="725.63" y2="940.85" stroke="#151515" stroke-width="1.46"/>
<line x1="718.98" y1="954.84" x2="718.98" y2="833.80" stroke="#151515" stroke-width="1.3"/>
<polygon points="731.03,893.33 737.03,891.83 740.03,946.51 731.03,948.51" fill="#3a3a3a" stroke="#151515" stroke-width="1"/>
<line x1="731.03" y1="893.33" x2="737.03" y2="891.83" stroke="#fff" stroke-width="1.03"/>
<line x1="731.03" y1="896.58" x2="737.21" y2="895.08" stroke="#fff" stroke-width="1.03"/>
<line x1="731.03" y1="899.83" x2="737.39" y2="898.33" stroke="#fff" stroke-width="1.03"/>
<line x1="731.03" y1="903.07" x2="737.56" y2="901.57" stroke="#fff" stroke-width="1.03"/>
<line x1="731.03" y1="906.32" x2="737.74" y2="904.82" stroke="#fff" stroke-width="1.03"/>
<line x1="731.03" y1="909.56" x2="737.91" y2="908.06" stroke="#fff" stroke-width="1.03"/>
<line x1="731.03" y1="912.81" x2="738.09" y2="911.31" stroke="#fff" stroke-width="1.03"/>
<line x1="731.03" y1="916.06" x2="738.27" y2="914.56" stroke="#fff" stroke-width="1.03"/>
<line x1="731.03" y1="919.30" x2="738.44" y2="917.80" stroke="#fff" stroke-width="1.03"/>
<line x1="731.03" y1="922.55" x2="738.62" y2="921.05" stroke="#fff" stroke-width="1.03"/>
<line x1="731.03" y1="925.79" x2="738.80" y2="924.29" stroke="#fff" stroke-width="1.03"/>
<line x1="731.03" y1="929.04" x2="738.97" y2="927.54" stroke="#fff" stroke-width="1.03"/>
<line x1="731.03" y1="932.29" x2="739.15" y2="930.79" stroke="#fff" stroke-width="1.03"/>
<line x1="731.03" y1="935.53" x2="739.33" y2="934.03" stroke="#fff" stroke-width="1.03"/>
<line x1="731.03" y1="938.78" x2="739.50" y2="937.28" stroke="#fff" stroke-width="1.03"/>
<line x1="731.03" y1="942.02" x2="739.68" y2="940.52" stroke="#fff" stroke-width="1.03"/>
<line x1="731.03" y1="945.27" x2="739.86" y2="943.77" stroke="#fff" stroke-width="1.03"/>
<line x1="731.03" y1="948.51" x2="740.03" y2="947.01" stroke="#fff" stroke-width="1.03"/>
<polygon points="752.46,885.40 770.66,875.00 770.66,897.25 752.46,907.65" fill="#fff" stroke="#151515" stroke-width="1.46"/>
<line x1="752.46" y1="904.87" x2="770.66" y2="894.47" stroke="#151515" stroke-width="1.78"/>
<line x1="752.46" y1="902.08" x2="770.66" y2="891.68" stroke="#151515" stroke-width="1.78"/>
<line x1="752.46" y1="899.30" x2="770.66" y2="888.90" stroke="#151515" stroke-width="1.78"/>
<line x1="752.46" y1="896.52" x2="770.66" y2="886.12" stroke="#151515" stroke-width="1.78"/>
<line x1="752.46" y1="893.74" x2="770.66" y2="883.34" stroke="#151515" stroke-width="1.78"/>
<line x1="752.46" y1="890.96" x2="770.66" y2="880.56" stroke="#151515" stroke-width="1.78"/>
<line x1="752.46" y1="888.18" x2="770.66" y2="877.78" stroke="#151515" stroke-width="1.78"/>
<path d="M754.07,890.63 L761.07,886.63 L761.07,925.79 Q760.07,931.79 754.07,931.79" fill="none" stroke="#151515" stroke-width="1.62" />
<path d="M756.07,893.63 L759.07,891.63 L759.07,924.79" fill="none" stroke="#151515" stroke-width="1.3" />
<rect x="751.07" y="888.63" width="4.00" height="5.00" fill="#fff" stroke="#151515" stroke-width="1.46"/>
<polygon points="225.20,749.00 603.98,966.21 603.98,975.73 225.20,758.52" fill="#fff" stroke="#151515" stroke-width="1.62"/>
<line x1="225.20" y1="750.96" x2="603.98" y2="968.17" stroke="#151515" stroke-width="1.3"/>
<polyline points="449.70,886.06 447.03,881.89 444.11,878.04 440.98,874.59 437.71,871.59 434.34,869.09 430.95,867.14 427.58,865.78 424.31,865.03 421.18,864.90 418.26,865.39 415.59,866.50" fill="none" stroke="#151515" stroke-width="1.46"/>
<polyline points="518.94,925.76 516.27,921.60 513.35,917.75 510.22,914.30 506.95,911.29 503.58,908.80 500.19,906.85 496.82,905.49 493.55,904.74 490.42,904.60 487.50,905.10 484.83,906.20" fill="none" stroke="#151515" stroke-width="1.46"/>
<polyline points="588.33,965.55 585.66,961.38 582.73,957.54 579.61,954.08 576.33,951.08 572.97,948.59 569.57,946.64 566.21,945.28 562.93,944.52 559.81,944.39 556.88,944.88 554.22,945.99" fill="none" stroke="#151515" stroke-width="1.46"/>
<polygon points="232.28,755.73 237.94,758.98 237.94,766.99 232.28,763.74" fill="#fff" stroke="#151515" stroke-width="1.46"/>
<polygon points="233.41,759.05 236.81,761.00 236.81,765.45 233.41,763.50" fill="#444" stroke="#151515" stroke-width="1.3"/>
<polygon points="292.46,790.24 298.12,793.49 298.12,801.50 292.46,798.25" fill="#fff" stroke="#151515" stroke-width="1.46"/>
<polygon points="293.59,793.56 296.99,795.51 296.99,799.96 293.59,798.01" fill="#444" stroke="#151515" stroke-width="1.3"/>
<polygon points="354.06,825.56 359.72,828.81 359.72,836.82 354.06,833.57" fill="#fff" stroke="#151515" stroke-width="1.46"/>
<polygon points="355.19,828.88 358.59,830.83 358.59,835.28 355.19,833.33" fill="#444" stroke="#151515" stroke-width="1.3"/>
<polygon points="407.16,856.01 412.82,859.26 412.82,867.27 407.16,864.02" fill="#fff" stroke="#151515" stroke-width="1.46"/>
<polygon points="408.29,859.33 411.69,861.28 411.69,865.73 408.29,863.78" fill="#444" stroke="#151515" stroke-width="1.3"/>
<polygon points="475.83,895.39 481.50,898.64 481.50,906.65 475.83,903.40" fill="#fff" stroke="#151515" stroke-width="1.46"/>
<polygon points="476.96,898.71 480.36,900.66 480.36,905.11 476.96,903.16" fill="#444" stroke="#151515" stroke-width="1.3"/>
<polygon points="528.22,925.44 533.89,928.69 533.89,936.70 528.22,933.45" fill="#fff" stroke="#151515" stroke-width="1.46"/>
<polygon points="529.36,928.76 532.76,930.71 532.76,935.16 529.36,933.21" fill="#444" stroke="#151515" stroke-width="1.3"/>
<polygon points="595.48,964.01 601.15,967.26 601.15,975.27 595.48,972.02" fill="#fff" stroke="#151515" stroke-width="1.46"/>
<polygon points="596.62,967.33 600.02,969.28 600.02,973.73 596.62,971.78" fill="#444" stroke="#151515" stroke-width="1.3"/>
<line x1="225.20" y1="749.00" x2="225.20" y2="758.52" stroke="#151515" stroke-width="1.62"/>
<polygon points="236.53,765.02 238.94,766.40 238.94,782.42 236.53,781.04" fill="#fff" stroke="#151515" stroke-width="1.46"/>
<polygon points="248.56,771.92 250.97,773.30 250.97,789.32 248.56,787.94" fill="#fff" stroke="#151515" stroke-width="1.46"/>
<polygon points="368.92,840.94 371.33,842.32 371.33,858.34 368.92,856.96" fill="#fff" stroke="#151515" stroke-width="1.46"/>
<polygon points="234.42,778.41 400.09,873.41 400.09,876.97 234.42,781.97" fill="#2a2a2a" stroke="#151515" stroke-width="1.46"/>
<circle cx="236.54" cy="781.40" r="0.55" fill="#fff" stroke="#fff" stroke-width="0.11"/>
<circle cx="239.38" cy="783.03" r="0.55" fill="#fff" stroke="#fff" stroke-width="0.11"/>
<circle cx="242.21" cy="784.65" r="0.55" fill="#fff" stroke="#fff" stroke-width="0.11"/>
<circle cx="245.04" cy="786.28" r="0.55" fill="#fff" stroke="#fff" stroke-width="0.11"/>
<circle cx="247.87" cy="787.90" r="0.55" fill="#fff" stroke="#fff" stroke-width="0.11"/>
<circle cx="250.70" cy="789.52" r="0.55" fill="#fff" stroke="#fff" stroke-width="0.11"/>
<circle cx="253.54" cy="791.15" r="0.55" fill="#fff" stroke="#fff" stroke-width="0.11"/>
<circle cx="256.37" cy="792.77" r="0.55" fill="#fff" stroke="#fff" stroke-width="0.11"/>
<circle cx="259.20" cy="794.40" r="0.55" fill="#fff" stroke="#fff" stroke-width="0.11"/>
<circle cx="262.03" cy="796.02" r="0.55" fill="#fff" stroke="#fff" stroke-width="0.11"/>
<circle cx="264.86" cy="797.64" r="0.55" fill="#fff" stroke="#fff" stroke-width="0.11"/>
<circle cx="267.70" cy="799.27" r="0.55" fill="#fff" stroke="#fff" stroke-width="0.11"/>
<circle cx="270.53" cy="800.89" r="0.55" fill="#fff" stroke="#fff" stroke-width="0.11"/>
<circle cx="273.36" cy="802.52" r="0.55" fill="#fff" stroke="#fff" stroke-width="0.11"/>
<circle cx="276.19" cy="804.14" r="0.55" fill="#fff" stroke="#fff" stroke-width="0.11"/>
<circle cx="279.02" cy="805.76" r="0.55" fill="#fff" stroke="#fff" stroke-width="0.11"/>
<circle cx="281.86" cy="807.39" r="0.55" fill="#fff" stroke="#fff" stroke-width="0.11"/>
<circle cx="284.69" cy="809.01" r="0.55" fill="#fff" stroke="#fff" stroke-width="0.11"/>
<circle cx="287.52" cy="810.64" r="0.55" fill="#fff" stroke="#fff" stroke-width="0.11"/>
<circle cx="290.35" cy="812.26" r="0.55" fill="#fff" stroke="#fff" stroke-width="0.11"/>
<circle cx="293.18" cy="813.88" r="0.55" fill="#fff" stroke="#fff" stroke-width="0.11"/>
<circle cx="296.02" cy="815.51" r="0.55" fill="#fff" stroke="#fff" stroke-width="0.11"/>
<circle cx="298.85" cy="817.13" r="0.55" fill="#fff" stroke="#fff" stroke-width="0.11"/>
<circle cx="301.68" cy="818.76" r="0.55" fill="#fff" stroke="#fff" stroke-width="0.11"/>
<circle cx="304.51" cy="820.38" r="0.55" fill="#fff" stroke="#fff" stroke-width="0.11"/>
<circle cx="307.34" cy="822.00" r="0.55" fill="#fff" stroke="#fff" stroke-width="0.11"/>
<circle cx="310.18" cy="823.63" r="0.55" fill="#fff" stroke="#fff" stroke-width="0.11"/>
<circle cx="313.01" cy="825.25" r="0.55" fill="#fff" stroke="#fff" stroke-width="0.11"/>
<circle cx="315.84" cy="826.88" r="0.55" fill="#fff" stroke="#fff" stroke-width="0.11"/>
<circle cx="318.67" cy="828.50" r="0.55" fill="#fff" stroke="#fff" stroke-width="0.11"/>
<circle cx="321.50" cy="830.12" r="0.55" fill="#fff" stroke="#fff" stroke-width="0.11"/>
<circle cx="324.34" cy="831.75" r="0.55" fill="#fff" stroke="#fff" stroke-width="0.11"/>
<circle cx="327.17" cy="833.37" r="0.55" fill="#fff" stroke="#fff" stroke-width="0.11"/>
<circle cx="330.00" cy="835.00" r="0.55" fill="#fff" stroke="#fff" stroke-width="0.11"/>
<circle cx="332.83" cy="836.62" r="0.55" fill="#fff" stroke="#fff" stroke-width="0.11"/>
<circle cx="335.66" cy="838.25" r="0.55" fill="#fff" stroke="#fff" stroke-width="0.11"/>
<circle cx="338.50" cy="839.87" r="0.55" fill="#fff" stroke="#fff" stroke-width="0.11"/>
<circle cx="341.33" cy="841.49" r="0.55" fill="#fff" stroke="#fff" stroke-width="0.11"/>
<circle cx="344.16" cy="843.12" r="0.55" fill="#fff" stroke="#fff" stroke-width="0.11"/>
<circle cx="346.99" cy="844.74" r="0.55" fill="#fff" stroke="#fff" stroke-width="0.11"/>
<circle cx="349.82" cy="846.37" r="0.55" fill="#fff" stroke="#fff" stroke-width="0.11"/>
<circle cx="352.66" cy="847.99" r="0.55" fill="#fff" stroke="#fff" stroke-width="0.11"/>
<circle cx="355.49" cy="849.61" r="0.55" fill="#fff" stroke="#fff" stroke-width="0.11"/>
<circle cx="358.32" cy="851.24" r="0.55" fill="#fff" stroke="#fff" stroke-width="0.11"/>
<circle cx="361.15" cy="852.86" r="0.55" fill="#fff" stroke="#fff" stroke-width="0.11"/>
<circle cx="363.98" cy="854.49" r="0.55" fill="#fff" stroke="#fff" stroke-width="0.11"/>
<circle cx="366.82" cy="856.11" r="0.55" fill="#fff" stroke="#fff" stroke-width="0.11"/>
<circle cx="369.65" cy="857.73" r="0.55" fill="#fff" stroke="#fff" stroke-width="0.11"/>
<circle cx="372.48" cy="859.36" r="0.55" fill="#fff" stroke="#fff" stroke-width="0.11"/>
<circle cx="375.31" cy="860.98" r="0.55" fill="#fff" stroke="#fff" stroke-width="0.11"/>
<circle cx="378.14" cy="862.61" r="0.55" fill="#fff" stroke="#fff" stroke-width="0.11"/>
<circle cx="380.98" cy="864.23" r="0.55" fill="#fff" stroke="#fff" stroke-width="0.11"/>
<circle cx="383.81" cy="865.85" r="0.55" fill="#fff" stroke="#fff" stroke-width="0.11"/>
<circle cx="386.64" cy="867.48" r="0.55" fill="#fff" stroke="#fff" stroke-width="0.11"/>
<circle cx="389.47" cy="869.10" r="0.55" fill="#fff" stroke="#fff" stroke-width="0.11"/>
<circle cx="392.30" cy="870.73" r="0.55" fill="#fff" stroke="#fff" stroke-width="0.11"/>
<circle cx="395.14" cy="872.35" r="0.55" fill="#fff" stroke="#fff" stroke-width="0.11"/>
<circle cx="397.97" cy="873.97" r="0.55" fill="#fff" stroke="#fff" stroke-width="0.11"/>
<polygon points="229.26,724.62 236.34,728.68 229.34,732.68 222.26,728.62" fill="#fff" stroke="#151515" stroke-width="1.62"/>
<polygon points="222.26,767.78 229.34,771.84 229.34,732.68 222.26,728.62" fill="#fff" stroke="#151515" stroke-width="1.62"/>
<polygon points="236.34,767.84 229.34,771.84 229.34,732.68 236.34,728.68" fill="#fff" stroke="#151515" stroke-width="1.62"/>
<polygon points="229.28,765.72 232.96,767.83 229.32,769.91 225.64,767.80" fill="#fff" stroke="#151515" stroke-width="1.46"/>
<polygon points="225.64,790.05 229.32,792.16 229.32,769.91 225.64,767.80" fill="#fff" stroke="#151515" stroke-width="1.46"/>
<polygon points="232.96,790.08 229.32,792.16 229.32,769.91 232.96,767.83" fill="#fff" stroke="#151515" stroke-width="1.46"/>
<polygon points="229.23,783.25 241.98,790.56 229.38,797.76 216.63,790.45" fill="#fff" stroke="#151515" stroke-width="1.46"/>
<polygon points="216.63,793.57 229.38,800.88 229.38,797.76 216.63,790.45" fill="#fff" stroke="#151515" stroke-width="1.46"/>
<polygon points="241.98,793.68 229.38,800.88 229.38,797.76 241.98,790.56" fill="#fff" stroke="#151515" stroke-width="1.46"/>
<line x1="220.86" y1="732.18" x2="229.35" y2="737.05" stroke="#151515" stroke-width="1.3"/>
<polygon points="225.03,749.61 208.23,759.21 208.23,729.84 225.03,720.24" fill="#fff" stroke="#151515" stroke-width="1.46"/>
<polygon points="237.63,713.04 207.53,730.24 207.53,724.90 237.63,707.70" fill="#fff" stroke="#151515" stroke-width="1.62"/>
<line x1="232.43" y1="712.77" x2="234.43" y2="712.77" stroke="#151515" stroke-width="2.92"/>
<line x1="226.83" y1="715.97" x2="228.83" y2="715.97" stroke="#151515" stroke-width="2.92"/>
<line x1="221.23" y1="719.17" x2="223.23" y2="719.17" stroke="#151515" stroke-width="2.92"/>
<line x1="215.63" y1="722.37" x2="217.63" y2="722.37" stroke="#151515" stroke-width="2.92"/>
<line x1="210.03" y1="725.57" x2="212.03" y2="725.57" stroke="#151515" stroke-width="2.92"/>
<polygon points="623.68,977.76 629.34,981.01 623.74,984.21 618.08,980.96" fill="#fff" stroke="#151515" stroke-width="1.46"/>
<polygon points="618.08,1006.77 623.74,1010.02 623.74,984.21 618.08,980.96" fill="#fff" stroke="#151515" stroke-width="1.46"/>
<polygon points="629.34,1006.82 623.74,1010.02 623.74,984.21 629.34,981.01" fill="#fff" stroke="#151515" stroke-width="1.46"/>
<polygon points="623.69,1004.86 627.09,1006.81 623.73,1008.73 620.33,1006.78" fill="#fff" stroke="#151515" stroke-width="1.46"/>
<polygon points="620.33,1024.58 623.73,1026.53 623.73,1008.73 620.33,1006.78" fill="#fff" stroke="#151515" stroke-width="1.46"/>
<polygon points="627.09,1024.61 623.73,1026.53 623.73,1008.73 627.09,1006.81" fill="#fff" stroke="#151515" stroke-width="1.46"/>
<polygon points="623.64,1019.04 634.97,1025.54 623.77,1031.94 612.44,1025.44" fill="#fff" stroke="#151515" stroke-width="1.46"/>
<polygon points="612.44,1028.11 623.77,1034.61 623.77,1031.94 612.44,1025.44" fill="#fff" stroke="#151515" stroke-width="1.46"/>
<polygon points="634.97,1028.21 623.77,1034.61 623.77,1031.94 634.97,1025.54" fill="#fff" stroke="#151515" stroke-width="1.46"/>
<polyline points="601.16,978.47 601.16,1020.30 610.36,1021.13" fill="none" stroke="#151515" stroke-width="1.3"/>
<polygon points="603.98,966.21 636.83,996.35 636.83,1010.59 603.98,981.96" fill="#fff" stroke="#151515" stroke-width="1.62"/>
<polygon points="604.40,970.11 609.22,974.11 609.22,981.23 604.40,977.23" fill="#fff" stroke="#151515" stroke-width="1.46"/>
<polygon points="629.89,993.57 634.71,997.58 634.71,1004.70 629.89,1000.69" fill="#fff" stroke="#151515" stroke-width="1.46"/>
<polygon points="305.70,733.21 310.23,735.81 306.03,738.21 301.50,735.61" fill="#fff" stroke="#151515" stroke-width="1.62"/>
<polygon points="301.50,791.24 306.03,793.84 306.03,738.21 301.50,735.61" fill="#fff" stroke="#151515" stroke-width="1.62"/>
<polygon points="310.23,791.44 306.03,793.84 306.03,738.21 310.23,735.81" fill="#fff" stroke="#151515" stroke-width="1.62"/>
<line x1="309.18" y1="791.15" x2="309.18" y2="736.41" stroke="#151515" stroke-width="0.97"/>
<polygon points="381.45,776.66 385.99,779.25 381.79,781.65 377.25,779.06" fill="#fff" stroke="#151515" stroke-width="1.62"/>
<polygon points="377.25,834.68 381.79,837.28 381.79,781.65 377.25,779.06" fill="#fff" stroke="#151515" stroke-width="1.62"/>
<polygon points="385.99,834.88 381.79,837.28 381.79,781.65 385.99,779.25" fill="#fff" stroke="#151515" stroke-width="1.62"/>
<line x1="384.94" y1="834.59" x2="384.94" y2="779.85" stroke="#151515" stroke-width="0.97"/>
<polygon points="464.29,824.16 468.82,826.76 464.62,829.16 460.09,826.56" fill="#fff" stroke="#151515" stroke-width="1.62"/>
<polygon points="460.09,882.18 464.62,884.78 464.62,829.16 460.09,826.56" fill="#fff" stroke="#151515" stroke-width="1.62"/>
<polygon points="468.82,882.38 464.62,884.78 464.62,829.16 468.82,826.76" fill="#fff" stroke="#151515" stroke-width="1.62"/>
<line x1="467.77" y1="882.09" x2="467.77" y2="827.36" stroke="#151515" stroke-width="0.97"/>
<polygon points="547.13,871.66 551.66,874.26 547.46,876.66 542.93,874.06" fill="#fff" stroke="#151515" stroke-width="1.62"/>
<polygon points="542.93,929.68 547.46,932.28 547.46,876.66 542.93,874.06" fill="#fff" stroke="#151515" stroke-width="1.62"/>
<polygon points="551.66,929.88 547.46,932.28 547.46,876.66 551.66,874.26" fill="#fff" stroke="#151515" stroke-width="1.62"/>
<line x1="550.61" y1="929.59" x2="550.61" y2="874.86" stroke="#151515" stroke-width="0.97"/>
<polygon points="670.43,979.25 678.36,983.80 645.88,1002.36 637.95,997.81" fill="#fff" stroke="#151515" stroke-width="1.46"/>
<polygon points="637.95,1012.05 645.88,1016.60 645.88,1002.36 637.95,997.81" fill="#fff" stroke="#151515" stroke-width="1.46"/>
<polygon points="678.36,998.04 645.88,1016.60 645.88,1002.36 678.36,983.80" fill="#fff" stroke="#151515" stroke-width="1.46"/>
<polygon points="646.59,1006.33 751.38,1111.36 734.38,1104.29 645.18,1015.59" fill="#fff" stroke="#151515" stroke-width="1.62"/>
<polygon points="677.67,988.57 782.46,1093.60 751.38,1111.36 646.59,1006.33" fill="#fff" stroke="#151515" stroke-width="1.62"/>
<line x1="688.15" y1="999.07" x2="657.07" y2="1016.83" stroke="#151515" stroke-width="2.27"/>
<line x1="657.07" y1="1016.83" x2="654.95" y2="1024.78" stroke="#151515" stroke-width="1.46"/>
<line x1="698.63" y1="1009.57" x2="667.55" y2="1027.33" stroke="#151515" stroke-width="2.27"/>
<line x1="667.55" y1="1027.33" x2="665.42" y2="1034.66" stroke="#151515" stroke-width="1.46"/>
<line x1="709.11" y1="1020.08" x2="678.03" y2="1037.84" stroke="#151515" stroke-width="2.27"/>
<line x1="678.03" y1="1037.84" x2="675.90" y2="1044.54" stroke="#151515" stroke-width="1.46"/>
<line x1="719.59" y1="1030.58" x2="688.51" y2="1048.34" stroke="#151515" stroke-width="2.27"/>
<line x1="688.51" y1="1048.34" x2="686.38" y2="1054.42" stroke="#151515" stroke-width="1.46"/>
<line x1="730.06" y1="1041.08" x2="698.98" y2="1058.84" stroke="#151515" stroke-width="2.27"/>
<line x1="698.98" y1="1058.84" x2="696.86" y2="1064.30" stroke="#151515" stroke-width="1.46"/>
<line x1="740.54" y1="1051.59" x2="709.46" y2="1069.35" stroke="#151515" stroke-width="2.27"/>
<line x1="709.46" y1="1069.35" x2="707.34" y2="1074.18" stroke="#151515" stroke-width="1.46"/>
<line x1="751.02" y1="1062.09" x2="719.94" y2="1079.85" stroke="#151515" stroke-width="2.27"/>
<line x1="719.94" y1="1079.85" x2="717.82" y2="1084.06" stroke="#151515" stroke-width="1.46"/>
<line x1="761.50" y1="1072.59" x2="730.42" y2="1090.35" stroke="#151515" stroke-width="2.27"/>
<line x1="730.42" y1="1090.35" x2="728.30" y2="1093.94" stroke="#151515" stroke-width="1.46"/>
<line x1="771.98" y1="1083.10" x2="740.90" y2="1100.86" stroke="#151515" stroke-width="2.27"/>
<line x1="740.90" y1="1100.86" x2="738.77" y2="1103.82" stroke="#151515" stroke-width="1.46"/>
<line x1="647.30" y1="1009.35" x2="749.25" y2="1110.30" stroke="#151515" stroke-width="1.13"/>
<polygon points="782.46,1093.60 785.29,1098.34 754.21,1116.10 751.38,1111.36" fill="#fff" stroke="#151515" stroke-width="1.46"/>
<line x1="357.30" y1="823.15" x2="357.30" y2="819.59" stroke="#151515" stroke-width="1.46"/>
<line x1="359.42" y1="824.37" x2="359.42" y2="820.81" stroke="#151515" stroke-width="1.46"/>
<line x1="361.54" y1="825.58" x2="361.54" y2="822.02" stroke="#151515" stroke-width="1.46"/>
<line x1="479.21" y1="893.06" x2="479.21" y2="889.50" stroke="#151515" stroke-width="1.46"/>
<line x1="481.34" y1="894.28" x2="481.34" y2="890.72" stroke="#151515" stroke-width="1.46"/>
<line x1="483.46" y1="895.50" x2="483.46" y2="891.94" stroke="#151515" stroke-width="1.46"/>
<text transform="translate(139.50 824.30) rotate(0) scale(0.62 1)" font-size="17" text-anchor="middle" letter-spacing="0" fill="#151515" font-weight="normal">A</text>
<line x1="139.50" y1="859.50" x2="139.50" y2="1060.00" stroke="#3a3a3a" stroke-width="0.63" stroke-dasharray="9 2 2 2"/>
<line x1="31.00" y1="869.00" x2="61.00" y2="869.00" stroke="#3a3a3a" stroke-width="0.69"/>
<line x1="34.30" y1="869.00" x2="34.30" y2="1056.60" stroke="#3a3a3a" stroke-width="0.69"/>
<polygon points="34.30,869.00 35.35,874.60 33.25,874.60" fill="#222" stroke="#222" stroke-width="0.3"/>
<polygon points="34.30,1056.60 33.25,1051.00 35.35,1051.00" fill="#222" stroke="#222" stroke-width="0.3"/>
<text transform="translate(32.40 964.00) rotate(-90) scale(0.66 1)" font-size="12.5" text-anchor="middle" letter-spacing="1.6" fill="#151515" font-weight="normal">2994</text>
<line x1="31.00" y1="1056.60" x2="220.00" y2="1056.60" stroke="#151515" stroke-width="1.45"/>
<line x1="86.70" y1="1002.70" x2="86.70" y2="1079.00" stroke="#3a3a3a" stroke-width="0.69"/>
<line x1="191.60" y1="1002.70" x2="191.60" y2="1079.00" stroke="#3a3a3a" stroke-width="0.69"/>
<line x1="86.70" y1="1075.30" x2="191.60" y2="1075.30" stroke="#3a3a3a" stroke-width="0.69"/>
<polygon points="86.70,1075.30 92.30,1074.25 92.30,1076.35" fill="#222" stroke="#222" stroke-width="0.3"/>
<polygon points="191.60,1075.30 186.00,1076.35 186.00,1074.25" fill="#222" stroke="#222" stroke-width="0.3"/>
<text transform="translate(140.00 1073.40) rotate(0) scale(0.66 1)" font-size="12.5" text-anchor="middle" letter-spacing="1.6" fill="#151515" font-weight="normal">1656</text>
<rect x="60.70" y="833.00" width="44.70" height="87.00" fill="none" stroke="#151515" stroke-width="1.45"/>
<line x1="60.70" y1="843.00" x2="105.40" y2="843.00" stroke="#151515" stroke-width="2.17"/>
<line x1="60.70" y1="845.40" x2="105.40" y2="845.40" stroke="#151515" stroke-width="1.01"/>
<line x1="60.70" y1="862.80" x2="105.40" y2="862.80" stroke="#151515" stroke-width="1.3"/>
<line x1="60.70" y1="898.00" x2="105.40" y2="898.00" stroke="#151515" stroke-width="1.3"/>
<rect x="63.00" y="868.40" width="8.60" height="9.00" fill="none" stroke="#151515" stroke-width="1.45" rx="2"/>
<circle cx="66.00" cy="871.40" r="2.40" fill="none" stroke="#151515" stroke-width="1.3"/>
<line x1="63.00" y1="872.00" x2="63.00" y2="882.00" stroke="#151515" stroke-width="1.45"/>
<polyline points="71.60,875.60 102.50,873.60 102.50,876.00" fill="none" stroke="#151515" stroke-width="1.45"/>
<rect x="63.00" y="878.00" width="40.00" height="4.00" fill="#fff" stroke="#151515" stroke-width="1.45"/>
<circle cx="101.60" cy="875.60" r="1.60" fill="none" stroke="#151515" stroke-width="1.3"/>
<line x1="66.20" y1="882.00" x2="66.20" y2="920.00" stroke="#151515" stroke-width="1.45"/>
<line x1="69.50" y1="882.00" x2="69.50" y2="920.00" stroke="#151515" stroke-width="1.45"/>
<line x1="90.40" y1="882.00" x2="72.60" y2="917.60" stroke="#151515" stroke-width="1.45"/>
<line x1="92.80" y1="882.00" x2="75.00" y2="917.60" stroke="#151515" stroke-width="1.45"/>
<line x1="102.50" y1="882.00" x2="102.50" y2="917.60" stroke="#151515" stroke-width="1.3"/>
<line x1="104.60" y1="873.00" x2="104.60" y2="917.60" stroke="#151515" stroke-width="1.3"/>
<path d="M71.6,919.6 L74,916 L132,916 L134.6,919.6 Z" fill="#333" stroke="#151515" stroke-width="1.45" />
<rect x="61.80" y="920.00" width="155.20" height="23.00" fill="none" stroke="#151515" stroke-width="1.45"/>
<line x1="61.80" y1="924.40" x2="196.00" y2="924.40" stroke="#151515" stroke-width="1.3"/>
<line x1="65.00" y1="927.00" x2="160.00" y2="927.00" stroke="#151515" stroke-width="1.01"/>
<line x1="65.00" y1="930.00" x2="160.00" y2="930.00" stroke="#151515" stroke-width="1.3"/>
<line x1="65.00" y1="940.40" x2="217.00" y2="940.40" stroke="#151515" stroke-width="1.3"/>
<line x1="65.00" y1="920.00" x2="65.00" y2="943.00" stroke="#151515" stroke-width="1.3"/>
<line x1="67.40" y1="924.40" x2="67.40" y2="940.40" stroke="#151515" stroke-width="1.01"/>
<rect x="137.80" y="920.00" width="3.20" height="23.00" fill="#fff" stroke="#151515" stroke-width="1.3"/>
<rect x="160.00" y="921.00" width="16.00" height="22.00" fill="#fff" stroke="#151515" stroke-width="1.3"/>
<path d="M162,943 L162,916.4 Q162,914.6 164,914.6 L172,914.6 Q174,914.6 174,916.4 L174,943" fill="#fff" stroke="#151515" stroke-width="1.45" />
<rect x="166.00" y="916.60" width="4.00" height="17.40" fill="none" stroke="#151515" stroke-width="1.3"/>
<line x1="168.00" y1="918.00" x2="168.00" y2="933.00" stroke="#151515" stroke-width="1.01"/>
<rect x="165.00" y="919.00" width="6.00" height="3.00" fill="none" stroke="#151515" stroke-width="1.16"/>
<line x1="164.00" y1="936.60" x2="172.00" y2="936.60" stroke="#151515" stroke-width="1.16"/>
<rect x="178.60" y="921.00" width="16.00" height="22.00" fill="#fff" stroke="#151515" stroke-width="1.3"/>
<path d="M180.6,943 L180.6,916.4 Q180.6,914.6 182.6,914.6 L190.6,914.6 Q192.6,914.6 192.6,916.4 L192.6,943" fill="#fff" stroke="#151515" stroke-width="1.45" />
<rect x="184.60" y="916.60" width="4.00" height="17.40" fill="none" stroke="#151515" stroke-width="1.3"/>
<line x1="186.60" y1="918.00" x2="186.60" y2="933.00" stroke="#151515" stroke-width="1.01"/>
<rect x="183.60" y="919.00" width="6.00" height="3.00" fill="none" stroke="#151515" stroke-width="1.16"/>
<line x1="182.60" y1="936.60" x2="190.60" y2="936.60" stroke="#151515" stroke-width="1.16"/>
<line x1="157.60" y1="920.00" x2="157.60" y2="943.00" stroke="#151515" stroke-width="1.3"/>
<line x1="160.00" y1="920.00" x2="160.00" y2="943.00" stroke="#151515" stroke-width="1.3"/>
<rect x="196.00" y="918.00" width="21.00" height="25.00" fill="#fff" stroke="#151515" stroke-width="1.45"/>
<line x1="196.00" y1="919.00" x2="214.00" y2="919.00" stroke="#151515" stroke-width="2.9"/>
<line x1="198.40" y1="924.40" x2="214.60" y2="924.40" stroke="#151515" stroke-width="1.16"/>
<line x1="198.40" y1="930.00" x2="214.60" y2="930.00" stroke="#151515" stroke-width="1.16"/>
<line x1="198.40" y1="920.00" x2="198.40" y2="943.00" stroke="#151515" stroke-width="1.16"/>
<line x1="214.60" y1="920.00" x2="214.60" y2="943.00" stroke="#151515" stroke-width="1.16"/>
<circle cx="208.60" cy="915.60" r="1.30" fill="#151515" stroke="#151515" stroke-width="1.3"/>
<rect x="43.80" y="930.00" width="16.90" height="25.20" fill="none" stroke="#151515" stroke-width="1.45"/>
<line x1="43.80" y1="948.60" x2="60.70" y2="948.60" stroke="#151515" stroke-width="1.3"/>
<rect x="60.70" y="943.00" width="158.30" height="18.80" fill="#fff" stroke="#151515" stroke-width="1.59"/>
<circle cx="123.40" cy="950.80" r="1.30" fill="#333" stroke="#151515" stroke-width="1.16"/>
<circle cx="132.20" cy="950.80" r="1.70" fill="#333" stroke="#151515" stroke-width="1.16"/>
<circle cx="140.00" cy="950.80" r="1.70" fill="#333" stroke="#151515" stroke-width="1.16"/>
<circle cx="154.80" cy="950.80" r="1.30" fill="#333" stroke="#151515" stroke-width="1.16"/>
<circle cx="146.60" cy="951.00" r="1.00" fill="none" stroke="#151515" stroke-width="1.01"/>
<rect x="61.80" y="954.20" width="8.40" height="5.20" fill="none" stroke="#151515" stroke-width="1.3"/>
<line x1="63.20" y1="956.80" x2="68.80" y2="956.80" stroke="#151515" stroke-width="2.32"/>
<rect x="209.40" y="954.20" width="8.40" height="5.20" fill="none" stroke="#151515" stroke-width="1.3"/>
<line x1="210.80" y1="956.80" x2="216.40" y2="956.80" stroke="#151515" stroke-width="2.32"/>
<line x1="69.40" y1="946.00" x2="69.40" y2="956.00" stroke="#999" stroke-width="0.57" stroke-dasharray="1.5 2.5"/>
<line x1="79.20" y1="946.00" x2="79.20" y2="956.00" stroke="#999" stroke-width="0.57" stroke-dasharray="1.5 2.5"/>
<line x1="199.20" y1="946.00" x2="199.20" y2="956.00" stroke="#999" stroke-width="0.57" stroke-dasharray="1.5 2.5"/>
<line x1="208.80" y1="946.00" x2="208.80" y2="956.00" stroke="#999" stroke-width="0.57" stroke-dasharray="1.5 2.5"/>
<rect x="100.30" y="957.60" width="78.10" height="4.20" fill="none" stroke="#151515" stroke-width="1.3"/>
<rect x="108.00" y="962.00" width="63.80" height="47.30" fill="none" stroke="#151515" stroke-width="1.45"/>
<line x1="108.00" y1="973.00" x2="171.80" y2="973.00" stroke="#151515" stroke-width="1.3"/>
<rect x="96.00" y="962.00" width="12.00" height="50.60" fill="none" stroke="#151515" stroke-width="1.45"/>
<rect x="171.80" y="962.00" width="12.20" height="50.60" fill="none" stroke="#151515" stroke-width="1.45"/>
<path d="M139.5,979.6 L141.9,983 L139.5,986.4 L137.1,983 Z" fill="none" stroke="#151515" stroke-width="1.16" />
<rect x="137.90" y="963.00" width="3.20" height="4.00" fill="none" stroke="#151515" stroke-width="1.16"/>
<line x1="139.50" y1="967.00" x2="139.50" y2="977.00" stroke="#151515" stroke-width="1.74"/>
<circle cx="110.20" cy="990.60" r="1.00" fill="#151515" stroke="#151515" stroke-width="1.01"/>
<circle cx="169.60" cy="990.60" r="1.00" fill="#151515" stroke="#151515" stroke-width="1.01"/>
<rect x="43.80" y="963.00" width="16.90" height="42.00" fill="none" stroke="#151515" stroke-width="1.45"/>
<line x1="43.80" y1="972.60" x2="60.70" y2="972.60" stroke="#151515" stroke-width="1.3"/>
<line x1="43.80" y1="987.40" x2="60.70" y2="987.40" stroke="#151515" stroke-width="1.3"/>
<line x1="43.80" y1="995.00" x2="60.70" y2="995.00" stroke="#151515" stroke-width="1.3"/>
<rect x="46.00" y="965.00" width="7.00" height="5.40" fill="none" stroke="#151515" stroke-width="1.3"/>
<line x1="47.40" y1="967.60" x2="51.60" y2="967.60" stroke="#151515" stroke-width="2.17"/>
<circle cx="57.40" cy="967.60" r="0.80" fill="#151515" stroke="#151515" stroke-width="1.01"/>
<rect x="44.6" y="973.4" width="15.4" height="13.2" fill="url(#h1)" stroke="none"/>
<rect x="46.40" y="996.40" width="12.00" height="5.00" fill="none" stroke="#151515" stroke-width="1.3"/>
<line x1="48.00" y1="998.00" x2="57.00" y2="998.00" stroke="#151515" stroke-width="1.45"/>
<rect x="60.70" y="962.00" width="33.00" height="43.00" fill="none" stroke="#151515" stroke-width="1.45"/>
<line x1="60.70" y1="970.80" x2="93.70" y2="970.80" stroke="#151515" stroke-width="1.3"/>
<line x1="60.70" y1="975.20" x2="93.70" y2="975.20" stroke="#151515" stroke-width="1.3"/>
<rect x="62.00" y="963.40" width="14.40" height="6.00" fill="none" stroke="#151515" stroke-width="1.16"/>
<line x1="63.00" y1="966.00" x2="75.00" y2="966.00" stroke="#666" stroke-width="1.61"/>
<line x1="93.70" y1="975.00" x2="96.00" y2="1005.00" stroke="#151515" stroke-width="1.16"/>
<rect x="185.00" y="962.00" width="33.00" height="43.00" fill="none" stroke="#151515" stroke-width="1.45"/>
<line x1="185.00" y1="970.80" x2="218.00" y2="970.80" stroke="#151515" stroke-width="1.3"/>
<line x1="185.00" y1="975.20" x2="218.00" y2="975.20" stroke="#151515" stroke-width="1.3"/>
<rect x="202.40" y="963.40" width="14.20" height="6.00" fill="none" stroke="#151515" stroke-width="1.16"/>
<rect x="209.60" y="964.40" width="5.80" height="4.20" fill="none" stroke="#151515" stroke-width="1.16"/>
<circle cx="205.40" cy="966.60" r="0.80" fill="#151515" stroke="#151515" stroke-width="1.01"/>
<line x1="220.00" y1="985.00" x2="220.00" y2="1046.00" stroke="#151515" stroke-width="2.03"/>
<polyline points="50.80,1006.60 60.40,1013.60" fill="none" stroke="#151515" stroke-width="2.32"/>
<circle cx="50.40" cy="1006.40" r="1.40" fill="none" stroke="#151515" stroke-width="1.3"/>
<polyline points="228.40,1006.60 219.00,1013.60" fill="none" stroke="#151515" stroke-width="2.32"/>
<circle cx="228.80" cy="1006.40" r="1.40" fill="none" stroke="#151515" stroke-width="1.3"/>
<line x1="218.30" y1="1006.00" x2="218.30" y2="1056.60" stroke="#151515" stroke-width="1.45"/>
<line x1="213.90" y1="1006.00" x2="213.90" y2="1052.00" stroke="#151515" stroke-width="2.9"/>
<line x1="211.50" y1="1010.00" x2="211.50" y2="1052.00" stroke="#151515" stroke-width="1.16"/>
<line x1="216.30" y1="1010.00" x2="216.30" y2="1044.00" stroke="#151515" stroke-width="1.01"/>
<line x1="208.10" y1="1006.00" x2="208.10" y2="1056.60" stroke="#151515" stroke-width="1.3"/>
<line x1="202.10" y1="1006.00" x2="202.10" y2="1056.60" stroke="#151515" stroke-width="1.3"/>
<line x1="195.50" y1="1006.00" x2="195.50" y2="1050.00" stroke="#151515" stroke-width="1.3"/>
<line x1="218.30" y1="1006.00" x2="195.20" y2="1006.00" stroke="#151515" stroke-width="1.3"/>
<rect x="202.10" y="1019.40" width="8.80" height="6.00" fill="#fff" stroke="#151515" stroke-width="1.3"/>
<rect x="188.50" y="1005.00" width="6.70" height="45.00" fill="#fff" stroke="#151515" stroke-width="1.45"/>
<line x1="191.90" y1="1005.00" x2="191.90" y2="1050.00" stroke="#151515" stroke-width="1.01"/>
<rect x="186.90" y="1021.00" width="10.20" height="6.00" fill="#fff" stroke="#151515" stroke-width="1.3"/>
<path d="M198.5,1056.6 L196.5,1050 L187.5,1050 L184.1,1056.6" fill="#fff" stroke="#151515" stroke-width="1.45" />
<polyline points="183.00,1012.60 183.00,1030.00 177.50,1030.00" fill="none" stroke="#151515" stroke-width="1.3"/>
<polyline points="185.50,1013.00 171.00,1013.00 171.00,1026.00" fill="none" stroke="#151515" stroke-width="1.3"/>
<polyline points="183.00,1026.00 174.50,1013.00" fill="none" stroke="#151515" stroke-width="1.3"/>
<polyline points="180.50,1028.00 171.50,1015.00" fill="none" stroke="#151515" stroke-width="1.16"/>
<rect x="178.10" y="1030.00" width="4.40" height="4.00" fill="#444" stroke="#151515" stroke-width="1.3"/>
<rect x="172.90" y="1030.00" width="3.60" height="4.00" fill="#444" stroke="#151515" stroke-width="1.3"/>
<rect x="152.50" y="1021.60" width="12.40" height="3.00" fill="none" stroke="#151515" stroke-width="1.3"/>
<line x1="161.50" y1="1024.60" x2="155.50" y2="1024.60" stroke="#151515" stroke-width="2.03"/>
<line x1="60.70" y1="1006.00" x2="60.70" y2="1056.60" stroke="#151515" stroke-width="1.45"/>
<line x1="65.10" y1="1006.00" x2="65.10" y2="1052.00" stroke="#151515" stroke-width="2.9"/>
<line x1="67.50" y1="1010.00" x2="67.50" y2="1052.00" stroke="#151515" stroke-width="1.16"/>
<line x1="62.70" y1="1010.00" x2="62.70" y2="1044.00" stroke="#151515" stroke-width="1.01"/>
<line x1="70.90" y1="1006.00" x2="70.90" y2="1056.60" stroke="#151515" stroke-width="1.3"/>
<line x1="76.90" y1="1006.00" x2="76.90" y2="1056.60" stroke="#151515" stroke-width="1.3"/>
<line x1="83.50" y1="1006.00" x2="83.50" y2="1050.00" stroke="#151515" stroke-width="1.3"/>
<line x1="60.70" y1="1006.00" x2="83.80" y2="1006.00" stroke="#151515" stroke-width="1.3"/>
<rect x="68.10" y="1019.40" width="8.80" height="6.00" fill="#fff" stroke="#151515" stroke-width="1.3"/>
<rect x="83.80" y="1005.00" width="6.70" height="45.00" fill="#fff" stroke="#151515" stroke-width="1.45"/>
<line x1="87.10" y1="1005.00" x2="87.10" y2="1050.00" stroke="#151515" stroke-width="1.01"/>
<rect x="81.90" y="1021.00" width="10.20" height="6.00" fill="#fff" stroke="#151515" stroke-width="1.3"/>
<path d="M80.5,1056.6 L82.5,1050 L91.5,1050 L94.9,1056.6" fill="#fff" stroke="#151515" stroke-width="1.45" />
<polyline points="96.00,1012.60 96.00,1030.00 101.50,1030.00" fill="none" stroke="#151515" stroke-width="1.3"/>
<polyline points="93.50,1013.00 108.00,1013.00 108.00,1026.00" fill="none" stroke="#151515" stroke-width="1.3"/>
<polyline points="96.00,1026.00 104.50,1013.00" fill="none" stroke="#151515" stroke-width="1.3"/>
<polyline points="98.50,1028.00 107.50,1015.00" fill="none" stroke="#151515" stroke-width="1.16"/>
<rect x="96.50" y="1030.00" width="4.40" height="4.00" fill="#444" stroke="#151515" stroke-width="1.3"/>
<rect x="102.50" y="1030.00" width="3.60" height="4.00" fill="#444" stroke="#151515" stroke-width="1.3"/>
<rect x="114.10" y="1021.60" width="12.40" height="3.00" fill="none" stroke="#151515" stroke-width="1.3"/>
<line x1="117.50" y1="1024.60" x2="123.50" y2="1024.60" stroke="#151515" stroke-width="2.03"/>
<line x1="108.00" y1="1012.60" x2="171.80" y2="1012.60" stroke="#151515" stroke-width="1.3"/>
<rect x="107.00" y="1017.00" width="65.80" height="4.40" fill="none" stroke="#151515" stroke-width="1.3"/>
<line x1="96.00" y1="1027.60" x2="184.00" y2="1027.60" stroke="#151515" stroke-width="1.3"/>
<path d="M117,1009.3 L119,1013 L160,1013 L162,1009.3" fill="none" stroke="#151515" stroke-width="1.3" />
<line x1="120.00" y1="1011.20" x2="159.00" y2="1011.20" stroke="#151515" stroke-width="2.9"/>
<rect x="125.00" y="1013.00" width="29.00" height="4.00" fill="none" stroke="#151515" stroke-width="1.3"/>
<line x1="128.00" y1="1015.00" x2="151.00" y2="1015.00" stroke="#151515" stroke-width="2.17"/>
<rect x="191.00" y="1034.00" width="6.00" height="12.00" fill="none" stroke="#151515" stroke-width="1.16"/>
<line x1="192.40" y1="1040.00" x2="195.60" y2="1040.00" stroke="#151515" stroke-width="2.03"/>
<line x1="58.40" y1="1010.00" x2="58.40" y2="1035.00" stroke="#151515" stroke-width="1.3"/>
<text transform="translate(896.00 565.80) rotate(0) scale(0.62 1)" font-size="17" text-anchor="middle" letter-spacing="0" fill="#151515" font-weight="normal">Б</text>
<line x1="897.00" y1="660.00" x2="897.00" y2="846.00" stroke="#3a3a3a" stroke-width="0.63" stroke-dasharray="9 2 2 2"/>
<text transform="translate(897.00 593.40) rotate(0) scale(0.66 1)" font-size="12.5" text-anchor="middle" letter-spacing="1.6" fill="#151515" font-weight="normal">2490...2990</text>
<line x1="869.00" y1="595.20" x2="974.60" y2="595.20" stroke="#3a3a3a" stroke-width="0.69"/>
<polygon points="974.60,595.20 969.00,596.25 969.00,594.15" fill="#222" stroke="#222" stroke-width="0.3"/>
<text transform="translate(897.00 610.20) rotate(0) scale(0.66 1)" font-size="12.5" text-anchor="middle" letter-spacing="1.6" fill="#151515" font-weight="normal">1090...1590</text>
<line x1="870.00" y1="611.80" x2="974.60" y2="611.80" stroke="#3a3a3a" stroke-width="0.69"/>
<polygon points="930.60,611.80 925.00,612.85 925.00,610.75" fill="#222" stroke="#222" stroke-width="0.3"/>
<polygon points="930.60,611.80 936.20,610.75 936.20,612.85" fill="#222" stroke="#222" stroke-width="0.3"/>
<polygon points="974.60,611.80 969.00,612.85 969.00,610.75" fill="#222" stroke="#222" stroke-width="0.3"/>
<text transform="translate(953.00 610.20) rotate(0) scale(0.66 1)" font-size="12.5" text-anchor="middle" letter-spacing="1.6" fill="#151515" font-weight="normal">700</text>
<line x1="974.60" y1="592.00" x2="974.60" y2="618.00" stroke="#3a3a3a" stroke-width="0.69"/>
<line x1="930.60" y1="608.00" x2="930.60" y2="618.00" stroke="#3a3a3a" stroke-width="0.69"/>
<line x1="816.00" y1="800.00" x2="816.00" y2="879.00" stroke="#3a3a3a" stroke-width="0.69"/>
<line x1="977.00" y1="800.00" x2="977.00" y2="879.00" stroke="#3a3a3a" stroke-width="0.69"/>
<line x1="816.00" y1="876.00" x2="977.00" y2="876.00" stroke="#3a3a3a" stroke-width="0.69"/>
<polygon points="816.00,876.00 821.60,874.95 821.60,877.05" fill="#222" stroke="#222" stroke-width="0.3"/>
<polygon points="977.00,876.00 971.40,877.05 971.40,874.95" fill="#222" stroke="#222" stroke-width="0.3"/>
<text transform="translate(897.00 874.20) rotate(0) scale(0.66 1)" font-size="12.5" text-anchor="middle" letter-spacing="1.6" fill="#151515" font-weight="normal">2550 max</text>
<line x1="884.00" y1="861.60" x2="960.60" y2="861.60" stroke="#3a3a3a" stroke-width="0.69"/>
<polygon points="960.60,861.60 955.00,862.65 955.00,860.55" fill="#222" stroke="#222" stroke-width="0.3"/>
<line x1="960.60" y1="832.00" x2="960.60" y2="864.00" stroke="#3a3a3a" stroke-width="0.69"/>
<line x1="832.40" y1="835.00" x2="832.40" y2="845.00" stroke="#3a3a3a" stroke-width="0.69"/>
<text transform="translate(897.00 859.80) rotate(0) scale(0.66 1)" font-size="12.5" text-anchor="middle" letter-spacing="1.6" fill="#151515" font-weight="normal">2040</text>
<line x1="919.00" y1="817.00" x2="938.00" y2="817.00" stroke="#3a3a3a" stroke-width="0.69"/>
<line x1="921.60" y1="817.00" x2="921.60" y2="840.00" stroke="#3a3a3a" stroke-width="0.69"/>
<text transform="translate(920.40 829.00) rotate(-90) scale(0.66 1)" font-size="12.5" text-anchor="middle" letter-spacing="1.6" fill="#151515" font-weight="normal">390</text>
<line x1="816.00" y1="841.00" x2="977.00" y2="841.00" stroke="#151515" stroke-width="1.45"/>
<rect x="931.00" y="618.40" width="44.00" height="29.60" fill="none" stroke="#151515" stroke-width="1.45"/>
<line x1="931.00" y1="648.00" x2="931.00" y2="781.00" stroke="#151515" stroke-width="1.45"/>
<line x1="937.60" y1="648.00" x2="937.60" y2="781.00" stroke="#151515" stroke-width="1.45"/>
<line x1="953.00" y1="648.00" x2="953.00" y2="781.00" stroke="#151515" stroke-width="1.45"/>
<line x1="959.00" y1="648.00" x2="959.00" y2="781.00" stroke="#151515" stroke-width="1.45"/>
<line x1="969.00" y1="648.00" x2="969.00" y2="781.00" stroke="#151515" stroke-width="1.45"/>
<line x1="975.00" y1="648.00" x2="975.00" y2="781.00" stroke="#151515" stroke-width="1.45"/>
<line x1="937.60" y1="683.00" x2="953.00" y2="683.00" stroke="#151515" stroke-width="1.3"/>
<line x1="959.00" y1="683.00" x2="969.00" y2="683.00" stroke="#151515" stroke-width="1.3"/>
<line x1="818.00" y1="704.00" x2="931.00" y2="704.00" stroke="#151515" stroke-width="2.03"/>
<line x1="822.00" y1="708.00" x2="931.00" y2="708.00" stroke="#151515" stroke-width="1.3"/>
<line x1="830.00" y1="713.00" x2="931.00" y2="713.00" stroke="#151515" stroke-width="1.3"/>
<line x1="830.00" y1="727.00" x2="931.00" y2="727.00" stroke="#151515" stroke-width="1.3"/>
<line x1="822.00" y1="730.00" x2="931.00" y2="730.00" stroke="#151515" stroke-width="2.03"/>
<rect x="818.00" y="703.00" width="4.00" height="78.00" fill="none" stroke="#151515" stroke-width="1.3"/>
<rect x="824.00" y="699.40" width="6.00" height="81.60" fill="#fff" stroke="#151515" stroke-width="1.3"/>
<circle cx="826.80" cy="698.60" r="1.00" fill="none" stroke="#151515" stroke-width="1.16"/>
<path d="M841,703.4 L843,699.6 L857,699.6 L859,703.4" fill="none" stroke="#151515" stroke-width="1.3" />
<line x1="844.40" y1="701.40" x2="855.60" y2="701.40" stroke="#151515" stroke-width="1.01"/>
<path d="M859,703.4 L861,699.6 L875,699.6 L877,703.4" fill="none" stroke="#151515" stroke-width="1.3" />
<line x1="862.40" y1="701.40" x2="873.60" y2="701.40" stroke="#151515" stroke-width="1.01"/>
<path d="M902,703.6 L906,700.4 L931,700.4" fill="none" stroke="#151515" stroke-width="1.3" />
<line x1="904.00" y1="702.20" x2="931.00" y2="702.20" stroke="#151515" stroke-width="1.01"/>
<rect x="894.60" y="708.00" width="3.80" height="22.00" fill="#fff" stroke="#151515" stroke-width="1.3"/>
<path d="M940,712 L943.4,706 L941,703.4 M950,712 L946.6,706 L949,703.4 M941,703.4 L949,703.4" fill="none" stroke="#151515" stroke-width="1.59" />
<circle cx="945.00" cy="706.40" r="1.40" fill="#151515" stroke="#151515" stroke-width="1.3"/>
<rect x="940.00" y="712.00" width="10.00" height="67.00" fill="none" stroke="#151515" stroke-width="1.3"/>
<line x1="940.60" y1="713.60" x2="949.40" y2="713.60" stroke="#151515" stroke-width="1.45"/>
<line x1="940.60" y1="715.55" x2="949.40" y2="715.55" stroke="#151515" stroke-width="1.45"/>
<line x1="940.60" y1="717.50" x2="949.40" y2="717.50" stroke="#151515" stroke-width="1.45"/>
<line x1="940.60" y1="719.45" x2="949.40" y2="719.45" stroke="#151515" stroke-width="1.45"/>
<line x1="940.60" y1="721.40" x2="949.40" y2="721.40" stroke="#151515" stroke-width="1.45"/>
<line x1="940.60" y1="723.35" x2="949.40" y2="723.35" stroke="#151515" stroke-width="1.45"/>
<line x1="940.60" y1="725.30" x2="949.40" y2="725.30" stroke="#151515" stroke-width="1.45"/>
<line x1="940.60" y1="727.25" x2="949.40" y2="727.25" stroke="#151515" stroke-width="1.45"/>
<line x1="940.60" y1="729.20" x2="949.40" y2="729.20" stroke="#151515" stroke-width="1.45"/>
<line x1="940.60" y1="731.15" x2="949.40" y2="731.15" stroke="#151515" stroke-width="1.45"/>
<line x1="940.60" y1="733.10" x2="949.40" y2="733.10" stroke="#151515" stroke-width="1.45"/>
<line x1="940.60" y1="735.05" x2="949.40" y2="735.05" stroke="#151515" stroke-width="1.45"/>
<line x1="940.60" y1="737.00" x2="949.40" y2="737.00" stroke="#151515" stroke-width="1.45"/>
<line x1="940.60" y1="738.95" x2="949.40" y2="738.95" stroke="#151515" stroke-width="1.45"/>
<line x1="940.60" y1="740.90" x2="949.40" y2="740.90" stroke="#151515" stroke-width="1.45"/>
<line x1="940.60" y1="742.85" x2="949.40" y2="742.85" stroke="#151515" stroke-width="1.45"/>
<line x1="940.60" y1="744.80" x2="949.40" y2="744.80" stroke="#151515" stroke-width="1.45"/>
<line x1="940.60" y1="746.75" x2="949.40" y2="746.75" stroke="#151515" stroke-width="1.45"/>
<line x1="940.60" y1="748.70" x2="949.40" y2="748.70" stroke="#151515" stroke-width="1.45"/>
<line x1="940.60" y1="750.65" x2="949.40" y2="750.65" stroke="#151515" stroke-width="1.45"/>
<line x1="940.60" y1="752.60" x2="949.40" y2="752.60" stroke="#151515" stroke-width="1.45"/>
<line x1="940.60" y1="754.55" x2="949.40" y2="754.55" stroke="#151515" stroke-width="1.45"/>
<line x1="940.60" y1="756.50" x2="949.40" y2="756.50" stroke="#151515" stroke-width="1.45"/>
<line x1="940.60" y1="758.45" x2="949.40" y2="758.45" stroke="#151515" stroke-width="1.45"/>
<line x1="940.60" y1="760.40" x2="949.40" y2="760.40" stroke="#151515" stroke-width="1.45"/>
<line x1="940.60" y1="762.35" x2="949.40" y2="762.35" stroke="#151515" stroke-width="1.45"/>
<line x1="940.60" y1="764.30" x2="949.40" y2="764.30" stroke="#151515" stroke-width="1.45"/>
<line x1="940.60" y1="766.25" x2="949.40" y2="766.25" stroke="#151515" stroke-width="1.45"/>
<line x1="940.60" y1="768.20" x2="949.40" y2="768.20" stroke="#151515" stroke-width="1.45"/>
<line x1="940.60" y1="770.15" x2="949.40" y2="770.15" stroke="#151515" stroke-width="1.45"/>
<line x1="940.60" y1="772.10" x2="949.40" y2="772.10" stroke="#151515" stroke-width="1.45"/>
<line x1="940.60" y1="774.05" x2="949.40" y2="774.05" stroke="#151515" stroke-width="1.45"/>
<line x1="940.60" y1="776.00" x2="949.40" y2="776.00" stroke="#151515" stroke-width="1.45"/>
<line x1="940.60" y1="777.95" x2="949.40" y2="777.95" stroke="#151515" stroke-width="1.45"/>
<line x1="945.00" y1="712.00" x2="945.00" y2="779.00" stroke="#fff" stroke-width="0.69"/>
<defs><pattern id="h2" width="4.4" height="4.4" patternUnits="userSpaceOnUse" patternTransform="rotate(45)"><rect width="4.4" height="4.4" fill="#fff"/><line x1="0" y1="2.2" x2="4.4" y2="2.2" stroke="#151515" stroke-width="1.25"/></pattern></defs>
<rect x="966" y="714" width="26" height="25" fill="url(#h2)" stroke="#151515" stroke-width="1.2"/>
<rect x="958.00" y="731.00" width="8.00" height="4.00" fill="none" stroke="#151515" stroke-width="1.3"/>
<line x1="977.00" y1="700.00" x2="977.00" y2="702.00" stroke="#151515" stroke-width="1.74"/>
<line x1="976.00" y1="690.00" x2="976.00" y2="714.00" stroke="#151515" stroke-width="1.01"/>
<rect x="958.00" y="744.00" width="12.00" height="37.00" fill="none" stroke="#151515" stroke-width="1.45" rx="1.6"/>
<rect x="960.60" y="747.00" width="6.80" height="31.00" fill="none" stroke="#151515" stroke-width="1.16"/>
<rect x="977.00" y="746.60" width="16.00" height="41.40" fill="none" stroke="#151515" stroke-width="1.3"/>
<rect x="978.40" y="770.00" width="5.60" height="10.00" fill="#fff" stroke="#151515" stroke-width="1.3"/>
<rect x="985.40" y="770.00" width="5.60" height="10.00" fill="#fff" stroke="#151515" stroke-width="1.3"/>
<line x1="979.60" y1="772.00" x2="979.60" y2="778.00" stroke="#151515" stroke-width="1.16"/>
<line x1="986.60" y1="772.00" x2="986.60" y2="778.00" stroke="#151515" stroke-width="1.16"/>
<line x1="970.00" y1="739.00" x2="970.00" y2="744.00" stroke="#151515" stroke-width="1.3"/>
<line x1="975.00" y1="739.00" x2="975.00" y2="790.00" stroke="#151515" stroke-width="1.3"/>
<line x1="831.00" y1="735.00" x2="853.00" y2="735.00" stroke="#151515" stroke-width="1.45"/>
<line x1="831.00" y1="742.60" x2="853.00" y2="742.60" stroke="#151515" stroke-width="1.45"/>
<line x1="831.00" y1="746.00" x2="853.00" y2="746.00" stroke="#151515" stroke-width="1.45"/>
<line x1="831.00" y1="752.00" x2="853.00" y2="752.00" stroke="#151515" stroke-width="1.45"/>
<line x1="831.00" y1="757.00" x2="853.00" y2="757.00" stroke="#151515" stroke-width="1.45"/>
<line x1="831.00" y1="762.00" x2="853.00" y2="762.00" stroke="#151515" stroke-width="1.45"/>
<rect x="853.00" y="731.00" width="11.00" height="50.00" fill="none" stroke="#151515" stroke-width="1.3"/>
<rect x="855.60" y="754.00" width="6.40" height="6.00" fill="none" stroke="#151515" stroke-width="1.16"/>
<circle cx="858.80" cy="762.00" r="1.60" fill="none" stroke="#151515" stroke-width="1.3"/>
<circle cx="858.80" cy="773.60" r="1.60" fill="none" stroke="#151515" stroke-width="1.3"/>
<circle cx="858.80" cy="773.60" r="0.70" fill="#151515" stroke="#151515" stroke-width="0.87"/>
<rect x="834.40" y="748.60" width="17.60" height="6.00" fill="none" stroke="#151515" stroke-width="1.3"/>
<line x1="836.00" y1="751.60" x2="850.00" y2="751.60" stroke="#777" stroke-width="1.84"/>
<path d="M840,767 L841.6,761 L849,761 L851,767" fill="none" stroke="#151515" stroke-width="1.3" />
<rect x="819.00" y="732.00" width="4.40" height="6.00" fill="#fff" stroke="#151515" stroke-width="1.3"/>
<rect x="819.00" y="742.00" width="4.40" height="6.00" fill="#fff" stroke="#151515" stroke-width="1.3"/>
<rect x="819.00" y="752.00" width="4.40" height="6.00" fill="#fff" stroke="#151515" stroke-width="1.3"/>
<line x1="864.00" y1="743.00" x2="931.00" y2="743.00" stroke="#151515" stroke-width="1.3"/>
<line x1="864.00" y1="731.00" x2="864.00" y2="781.00" stroke="#151515" stroke-width="1.3"/>
<path d="M903.6,736 L905.6,742 L913,742 L915,736 M905,738.6 L913.6,738.6" fill="none" stroke="#151515" stroke-width="1.3" />
<rect x="875.00" y="766.00" width="44.00" height="14.00" fill="none" stroke="#151515" stroke-width="1.3"/>
<line x1="875.00" y1="773.00" x2="919.00" y2="773.00" stroke="#151515" stroke-width="1.3"/>
<path d="M877,766 Q877,762 881,762 L889,762 Q893,762 893,766" fill="none" stroke="#151515" stroke-width="1.3" />
<line x1="879.00" y1="769.00" x2="891.00" y2="769.00" stroke="#151515" stroke-width="2.03"/>
<rect x="900.00" y="766.60" width="18.00" height="3.40" fill="#333" stroke="#151515" stroke-width="1.3"/>
<rect x="900.00" y="775.00" width="18.00" height="4.00" fill="#fff" stroke="#151515" stroke-width="1.3"/>
<circle cx="896.60" cy="770.60" r="3.60" fill="#fff" stroke="#151515" stroke-width="1.3"/>
<path d="M890,761.6 L896.6,766.6 L903,761.6" fill="none" stroke="#151515" stroke-width="1.89" />
<path d="M893,770 Q896.6,774 900,770" fill="none" stroke="#151515" stroke-width="1.3" />
<rect x="878.00" y="777.40" width="5.00" height="3.00" fill="none" stroke="#151515" stroke-width="1.16"/>
<rect x="886.00" y="777.40" width="5.00" height="3.00" fill="none" stroke="#151515" stroke-width="1.16"/>
<rect x="894.00" y="777.40" width="5.00" height="3.00" fill="none" stroke="#151515" stroke-width="1.16"/>
<rect x="902.00" y="777.40" width="5.00" height="3.00" fill="none" stroke="#151515" stroke-width="1.16"/>
<rect x="910.00" y="777.40" width="5.00" height="3.00" fill="none" stroke="#151515" stroke-width="1.16"/>
<line x1="816.00" y1="781.20" x2="977.00" y2="781.20" stroke="#151515" stroke-width="1.59"/>
<line x1="816.00" y1="814.00" x2="977.00" y2="814.00" stroke="#151515" stroke-width="1.45"/>
<line x1="816.00" y1="781.20" x2="816.00" y2="841.00" stroke="#151515" stroke-width="1.45"/>
<line x1="977.00" y1="781.20" x2="977.00" y2="841.00" stroke="#151515" stroke-width="1.45"/>
<rect x="880.00" y="794.00" width="32.00" height="7.40" fill="none" stroke="#151515" stroke-width="1.45" rx="2.6"/>
<path d="M876.8,794.6 Q874.6,797.8 876.8,801 Z" fill="#151515" stroke="#151515" stroke-width="1.3" />
<path d="M915.4,794.6 Q917.6,797.8 915.4,801 Z" fill="#151515" stroke="#151515" stroke-width="1.3" />
<line x1="878.40" y1="794.60" x2="878.40" y2="801.00" stroke="#151515" stroke-width="1.16"/>
<line x1="913.80" y1="794.60" x2="913.80" y2="801.00" stroke="#151515" stroke-width="1.16"/>
<rect x="891.60" y="805.00" width="10.00" height="6.00" fill="none" stroke="#151515" stroke-width="1.3" rx="2.4"/>
<line x1="894.60" y1="805.60" x2="894.60" y2="810.40" stroke="#151515" stroke-width="1.01"/>
<line x1="898.60" y1="805.60" x2="898.60" y2="810.40" stroke="#151515" stroke-width="1.01"/>
<rect x="819.00" y="782.00" width="43.00" height="56.00" fill="#fff" stroke="#151515" stroke-width="1.45"/>
<line x1="819.00" y1="787.00" x2="862.00" y2="787.00" stroke="#151515" stroke-width="1.45"/>
<line x1="819.00" y1="792.00" x2="862.00" y2="792.00" stroke="#151515" stroke-width="1.45"/>
<line x1="819.00" y1="797.00" x2="862.00" y2="797.00" stroke="#151515" stroke-width="1.45"/>
<line x1="819.00" y1="802.00" x2="862.00" y2="802.00" stroke="#151515" stroke-width="1.45"/>
<line x1="819.00" y1="807.00" x2="862.00" y2="807.00" stroke="#151515" stroke-width="1.45"/>
<line x1="819.00" y1="812.00" x2="862.00" y2="812.00" stroke="#151515" stroke-width="1.45"/>
<line x1="819.00" y1="818.00" x2="862.00" y2="818.00" stroke="#151515" stroke-width="1.45"/>
<line x1="819.00" y1="823.00" x2="862.00" y2="823.00" stroke="#151515" stroke-width="1.45"/>
<line x1="819.00" y1="829.00" x2="862.00" y2="829.00" stroke="#151515" stroke-width="1.45"/>
<line x1="819.00" y1="834.00" x2="862.00" y2="834.00" stroke="#151515" stroke-width="1.45"/>
<rect x="822" y="768" width="32" height="13" fill="#fff" stroke="#151515" stroke-width="1.2"/>
<line x1="822.00" y1="769.40" x2="854.00" y2="769.40" stroke="#151515" stroke-width="1.59"/>
<line x1="822.00" y1="771.20" x2="854.00" y2="771.20" stroke="#151515" stroke-width="1.59"/>
<line x1="822.00" y1="773.00" x2="854.00" y2="773.00" stroke="#151515" stroke-width="1.59"/>
<line x1="822.00" y1="774.80" x2="854.00" y2="774.80" stroke="#151515" stroke-width="1.59"/>
<line x1="822.00" y1="776.60" x2="854.00" y2="776.60" stroke="#151515" stroke-width="1.59"/>
<line x1="822.00" y1="778.40" x2="854.00" y2="778.40" stroke="#151515" stroke-width="1.59"/>
<line x1="822.00" y1="780.20" x2="854.00" y2="780.20" stroke="#151515" stroke-width="1.59"/>
<line x1="836.00" y1="781.60" x2="862.00" y2="781.60" stroke="#151515" stroke-width="2.9"/>
<line x1="862.00" y1="782.00" x2="862.00" y2="818.00" stroke="#151515" stroke-width="2.03"/>
<rect x="862.00" y="784.00" width="2.40" height="7.00" fill="none" stroke="#151515" stroke-width="1.16"/>
<line x1="822.00" y1="839.40" x2="842.00" y2="839.40" stroke="#151515" stroke-width="2.03"/>
<polyline points="808.00,791.00 817.40,797.40" fill="none" stroke="#151515" stroke-width="2.46"/>
<circle cx="807.60" cy="790.60" r="1.20" fill="none" stroke="#151515" stroke-width="1.16"/>
<polyline points="987.00,791.00 976.00,797.40" fill="none" stroke="#151515" stroke-width="2.46"/>
<rect x="930.60" y="784.00" width="3.40" height="12.00" fill="none" stroke="#151515" stroke-width="1.3" rx="1.4"/>
<rect x="936.00" y="786.00" width="4.00" height="8.00" fill="none" stroke="#151515" stroke-width="1.16"/>
<line x1="934.00" y1="790.00" x2="958.00" y2="790.00" stroke="#151515" stroke-width="1.3"/>
<rect x="943.60" y="781.20" width="2.80" height="19.80" fill="#fff" stroke="#151515" stroke-width="1.3"/>
<circle cx="945.00" cy="790.00" r="3.40" fill="none" stroke="#151515" stroke-width="1.3"/>
<path d="M938,786 Q945,781 952,786" fill="none" stroke="#151515" stroke-width="1.16" />
<line x1="952.00" y1="781.20" x2="954.00" y2="796.00" stroke="#151515" stroke-width="1.3"/>
<line x1="958.00" y1="781.20" x2="956.00" y2="796.00" stroke="#151515" stroke-width="1.3"/>
<rect x="956.00" y="795.00" width="10.00" height="4.00" fill="none" stroke="#151515" stroke-width="1.16"/>
<path d="M966,803 L970,794.4 L974,803 Z" fill="none" stroke="#151515" stroke-width="1.45" />
<line x1="968.60" y1="800.60" x2="971.40" y2="800.60" stroke="#151515" stroke-width="1.45"/>
<rect x="947.60" y="804.00" width="26.40" height="6.00" fill="none" stroke="#151515" stroke-width="1.3"/>
<line x1="949.00" y1="807.00" x2="973.00" y2="807.00" stroke="#151515" stroke-width="3.19"/>
<line x1="953.00" y1="804.00" x2="953.00" y2="810.00" stroke="#fff" stroke-width="1.03"/>
<line x1="958.60" y1="804.00" x2="958.60" y2="810.00" stroke="#fff" stroke-width="1.03"/>
<line x1="964.40" y1="804.00" x2="964.40" y2="810.00" stroke="#fff" stroke-width="1.03"/>
<rect x="941.00" y="814.00" width="33.00" height="26.00" fill="none" stroke="#151515" stroke-width="1.3"/>
<line x1="941.00" y1="835.00" x2="974.00" y2="835.00" stroke="#151515" stroke-width="1.3"/>
<line x1="948.60" y1="835.00" x2="948.60" y2="840.00" stroke="#151515" stroke-width="1.16"/>
<line x1="970.60" y1="835.00" x2="970.60" y2="840.00" stroke="#151515" stroke-width="1.16"/>
<rect x="943.00" y="836.00" width="5.00" height="4.60" fill="none" stroke="#151515" stroke-width="1.16"/>
<path d="M963,817.6 L975,814.6 L975,817.6 Z" fill="#151515" stroke="#151515" stroke-width="1.3" />
<line x1="921.00" y1="816.00" x2="938.00" y2="816.00" stroke="#151515" stroke-width="2.32"/>
<line x1="862.00" y1="814.00" x2="864.00" y2="818.00" stroke="#151515" stroke-width="1.3"/>
</svg>
</body></html>
